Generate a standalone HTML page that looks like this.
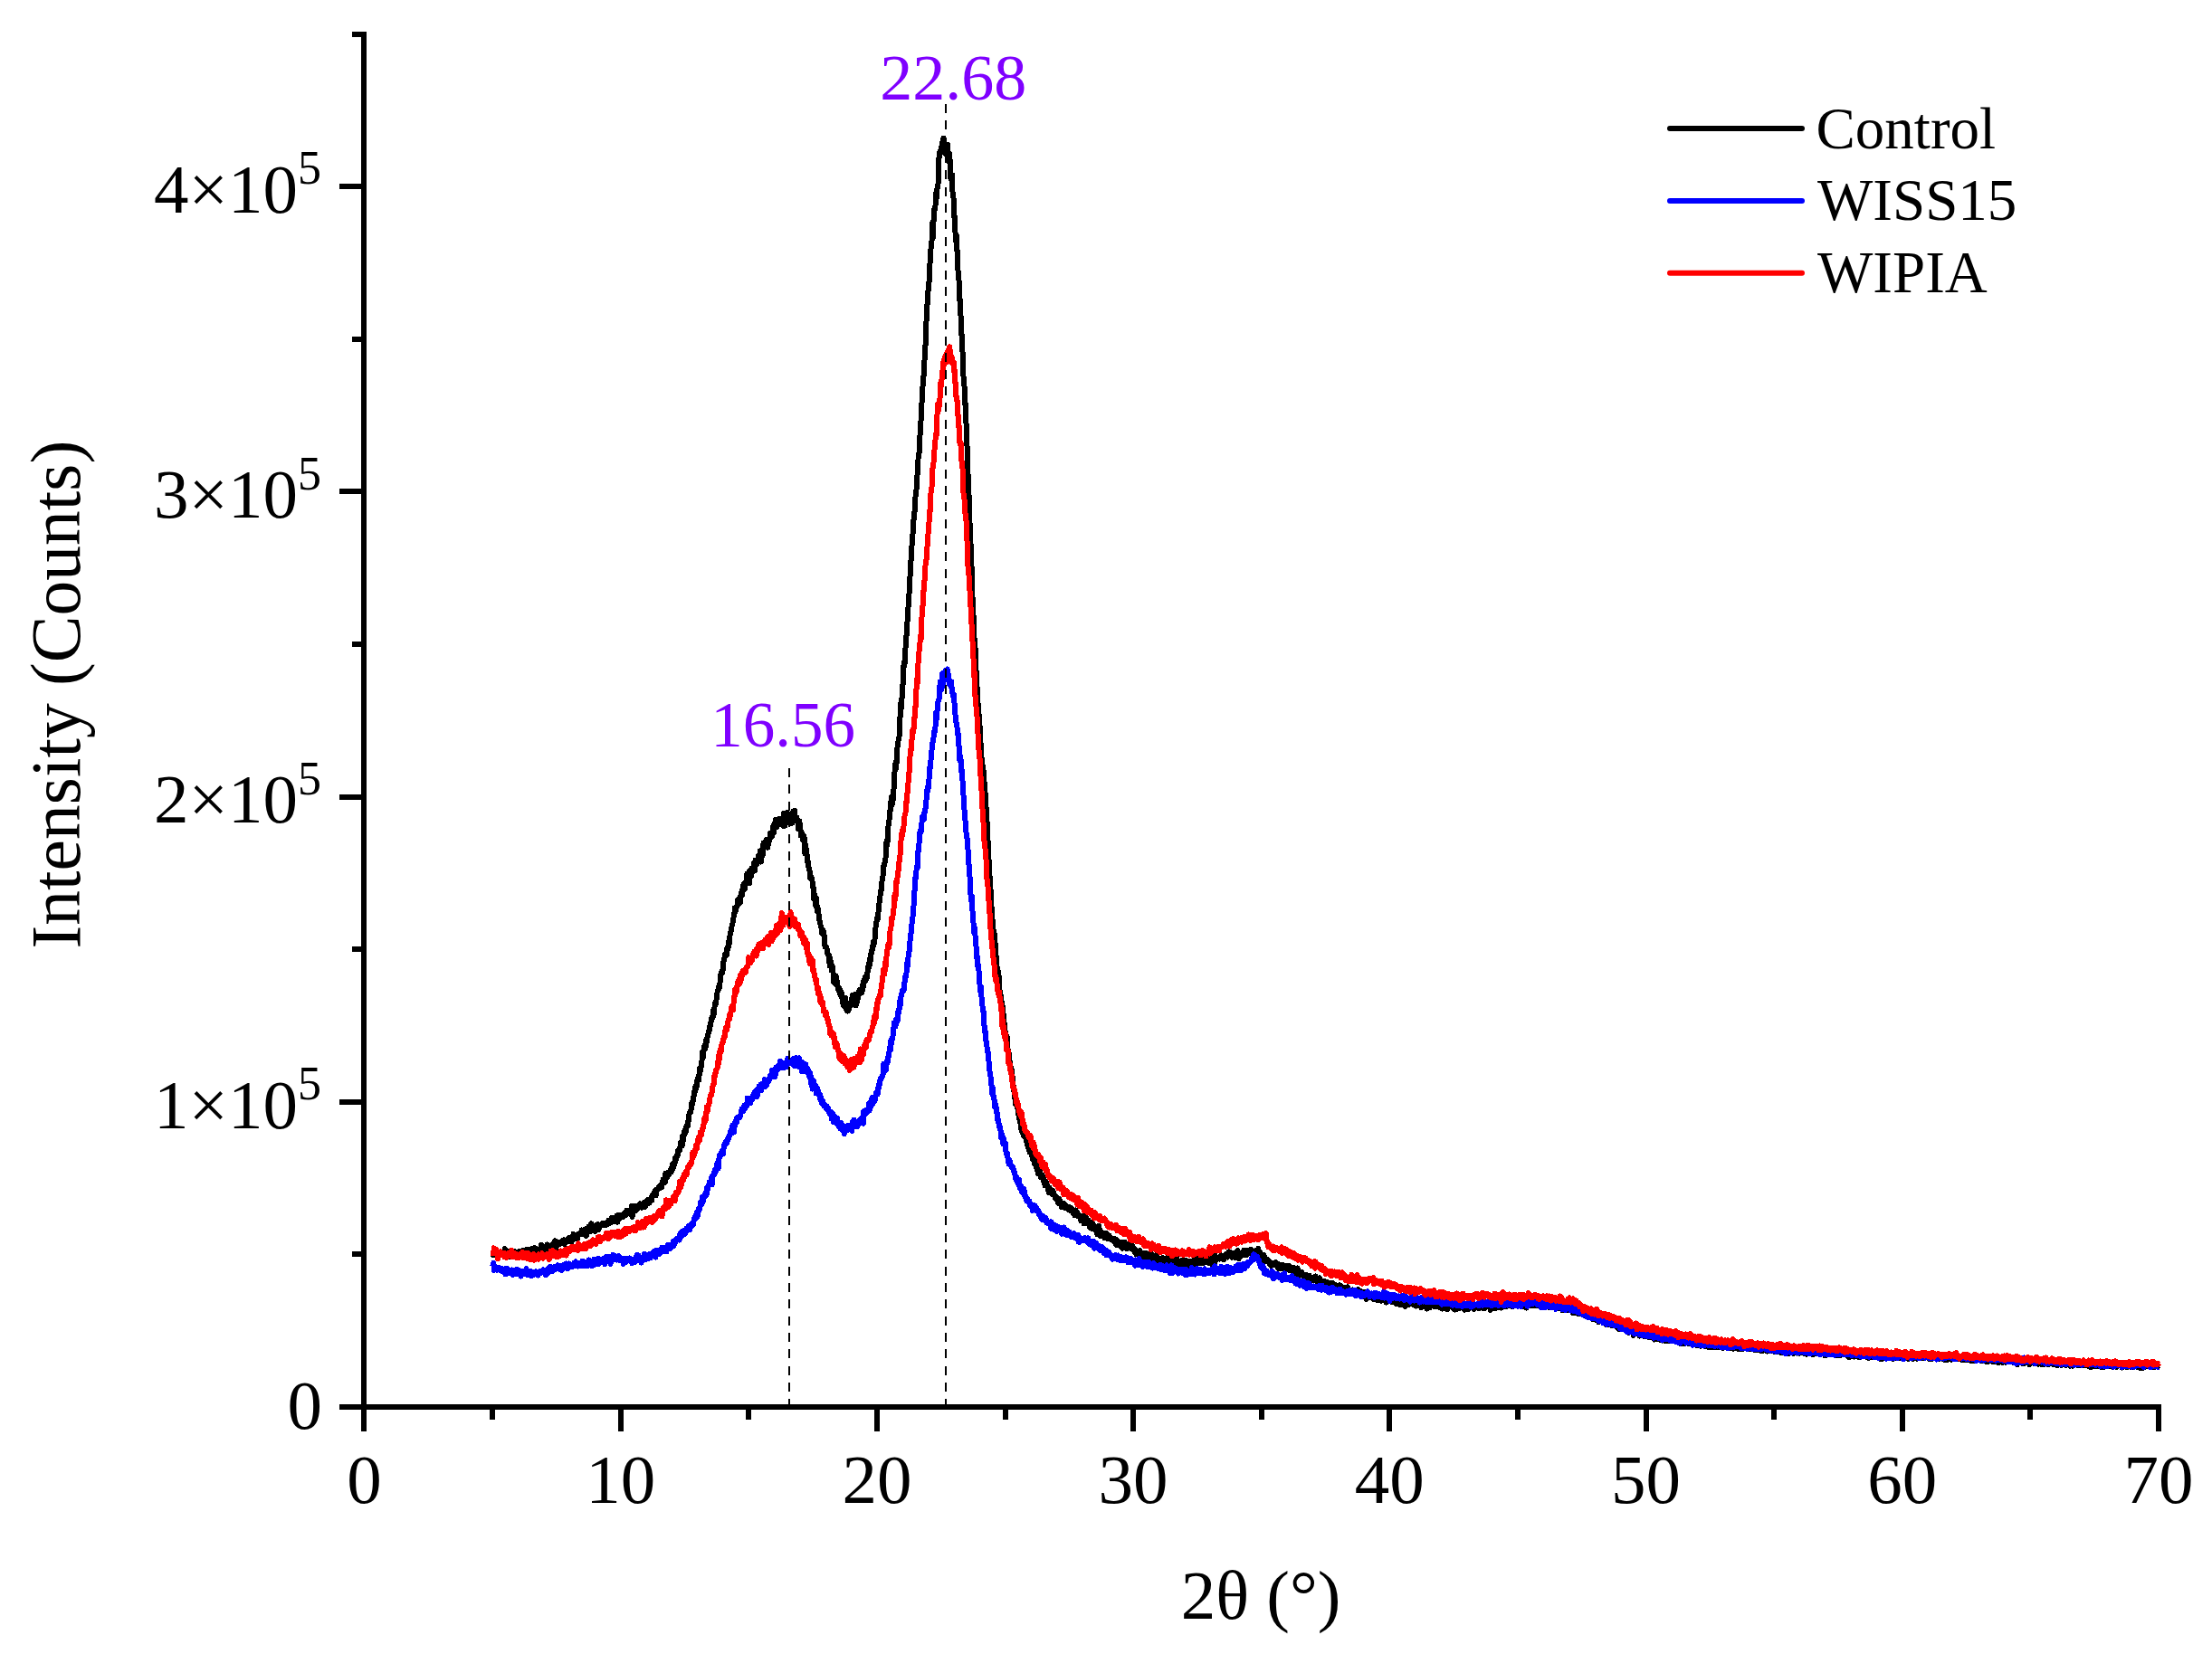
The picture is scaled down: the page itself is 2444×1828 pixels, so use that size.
<!DOCTYPE html>
<html lang="en"><head><meta charset="utf-8"><title>XRD patterns</title>
<style>html,body{margin:0;padding:0;background:#fff}svg{display:block}text{font-family:'Liberation Serif','Times New Roman',serif;fill:#000}</style></head><body>
<svg width="2444" height="1828" viewBox="0 0 2444 1828">
<rect width="2444" height="1828" fill="#fff"/>
<polyline fill="none" stroke="#000" stroke-width="6" stroke-linejoin="round" shape-rendering="crispEdges" stroke-linecap="butt" points="544.0,1386.1 544.6,1387.0 545.1,1386.0 545.7,1382.9 546.3,1387.1 546.8,1386.2 547.4,1384.4 548.0,1386.5 548.5,1386.1 549.1,1385.9 549.7,1385.4 550.2,1386.4 550.8,1384.0 551.4,1385.0 551.9,1384.4 552.5,1386.5 553.1,1385.4 553.6,1384.8 554.2,1383.8 554.8,1384.8 555.3,1385.3 555.9,1384.8 556.5,1387.8 557.0,1387.2 557.6,1380.1 558.2,1381.6 558.7,1384.9 559.3,1384.4 559.9,1385.6 560.4,1385.6 561.0,1389.3 561.6,1383.1 562.1,1384.4 562.7,1389.1 563.3,1386.4 563.8,1386.4 564.4,1384.1 565.0,1381.9 565.5,1385.4 566.1,1385.3 566.7,1382.7 567.2,1383.7 567.8,1384.9 568.4,1383.2 568.9,1384.8 569.5,1385.1 570.1,1385.0 570.6,1383.9 571.2,1386.0 571.8,1386.6 572.3,1385.5 572.9,1383.3 573.5,1386.2 574.0,1383.8 574.6,1386.5 575.2,1382.7 575.7,1386.5 576.3,1384.6 576.9,1382.2 577.4,1384.0 578.0,1384.6 578.6,1385.0 579.1,1382.5 579.7,1382.2 580.2,1384.6 580.8,1383.2 581.4,1384.5 581.9,1385.4 582.5,1380.7 583.1,1384.2 583.6,1386.0 584.2,1382.9 584.8,1381.8 585.3,1384.7 585.9,1383.7 586.5,1384.8 587.0,1382.3 587.6,1379.9 588.2,1382.5 588.7,1381.7 589.3,1383.9 589.9,1382.6 590.4,1379.0 591.0,1379.7 591.6,1383.5 592.1,1383.0 592.7,1380.3 593.3,1381.4 593.8,1382.1 594.4,1382.0 595.0,1382.7 595.5,1381.3 596.1,1380.5 596.7,1380.0 597.2,1382.4 597.8,1375.8 598.4,1379.8 598.9,1380.0 599.5,1377.0 600.1,1380.3 600.6,1378.2 601.2,1381.0 601.8,1379.0 602.3,1380.4 602.9,1381.3 603.5,1379.5 604.0,1376.9 604.6,1375.5 605.2,1381.8 605.7,1378.0 606.3,1376.7 606.9,1378.1 607.4,1377.3 608.0,1379.2 608.6,1377.5 609.1,1377.2 609.7,1375.7 610.3,1377.8 610.8,1374.7 611.4,1377.9 612.0,1379.4 612.5,1373.2 613.1,1371.2 613.7,1377.1 614.2,1380.7 614.8,1373.5 615.4,1372.8 615.9,1376.3 616.5,1373.3 617.1,1373.7 617.6,1373.9 618.2,1375.4 618.8,1373.4 619.3,1374.5 619.9,1373.4 620.5,1371.9 621.0,1372.7 621.6,1371.3 622.2,1373.0 622.7,1370.5 623.3,1370.4 623.9,1375.2 624.4,1372.0 625.0,1371.8 625.6,1372.7 626.1,1370.6 626.7,1370.8 627.3,1371.8 627.8,1371.3 628.4,1368.2 629.0,1372.0 629.5,1368.9 630.1,1367.7 630.7,1367.7 631.2,1368.5 631.8,1372.2 632.4,1366.3 632.9,1368.7 633.5,1363.8 634.1,1367.8 634.6,1369.3 635.2,1366.7 635.8,1365.5 636.3,1366.9 636.9,1367.6 637.5,1367.2 638.0,1369.5 638.6,1365.6 639.2,1363.6 639.7,1364.2 640.3,1364.0 640.9,1364.0 641.4,1363.4 642.0,1363.5 642.6,1359.4 643.1,1364.2 643.7,1361.0 644.3,1359.5 644.8,1362.9 645.4,1364.0 646.0,1362.0 646.5,1361.1 647.1,1358.5 647.7,1366.1 648.2,1361.8 648.8,1357.4 649.4,1357.9 649.9,1359.4 650.5,1355.8 651.0,1359.2 651.6,1357.7 652.2,1360.9 652.7,1360.2 653.3,1352.4 653.9,1357.9 654.4,1354.3 655.0,1359.8 655.6,1357.7 656.1,1358.3 656.7,1354.8 657.3,1360.6 657.8,1360.8 658.4,1354.2 659.0,1357.0 659.5,1354.7 660.1,1355.9 660.7,1353.1 661.2,1359.5 661.8,1353.4 662.4,1354.6 662.9,1356.1 663.5,1353.5 664.1,1354.2 664.6,1353.4 665.2,1354.1 665.8,1351.7 666.3,1353.0 666.9,1353.3 667.5,1352.9 668.0,1353.5 668.6,1352.5 669.2,1354.5 669.7,1352.0 670.3,1352.2 670.9,1350.8 671.4,1350.9 672.0,1349.1 672.6,1352.6 673.1,1348.9 673.7,1349.4 674.3,1351.5 674.8,1351.3 675.4,1349.4 676.0,1345.7 676.5,1350.6 677.1,1350.0 677.7,1346.2 678.2,1350.5 678.8,1347.1 679.4,1345.9 679.9,1348.2 680.5,1347.4 681.1,1347.9 681.6,1343.8 682.2,1350.7 682.8,1345.3 683.3,1343.0 683.9,1347.3 684.5,1345.0 685.0,1346.1 685.6,1344.4 686.2,1344.7 686.7,1345.0 687.3,1342.6 687.9,1345.4 688.4,1342.6 689.0,1341.4 689.6,1343.2 690.1,1343.6 690.7,1341.9 691.3,1340.2 691.8,1343.1 692.4,1337.7 693.0,1338.9 693.5,1340.9 694.1,1337.6 694.7,1340.3 695.2,1339.8 695.8,1341.5 696.4,1337.3 696.9,1337.6 697.5,1339.4 698.1,1333.0 698.6,1344.8 699.2,1336.2 699.8,1335.9 700.3,1339.0 700.9,1336.8 701.5,1332.7 702.0,1337.6 702.6,1337.8 703.2,1334.7 703.7,1334.7 704.3,1336.1 704.9,1332.8 705.4,1335.4 706.0,1334.6 706.6,1332.3 707.1,1330.4 707.7,1332.7 708.3,1330.9 708.8,1334.7 709.4,1332.5 710.0,1333.5 710.5,1331.7 711.1,1331.7 711.7,1329.0 712.2,1331.8 712.8,1333.9 713.4,1328.9 713.9,1327.8 714.5,1328.4 715.1,1327.2 715.6,1326.3 716.2,1327.7 716.8,1326.3 717.3,1329.7 717.9,1326.0 718.5,1326.1 719.0,1327.0 719.6,1323.6 720.2,1326.9 720.7,1321.6 721.3,1320.6 721.8,1320.9 722.4,1320.8 723.0,1317.2 723.5,1319.6 724.1,1315.2 724.7,1321.3 725.2,1317.3 725.8,1315.2 726.4,1313.9 726.9,1314.3 727.5,1313.9 728.1,1311.2 728.6,1310.7 729.2,1311.7 729.8,1310.1 730.3,1312.6 730.9,1312.2 731.5,1308.8 732.0,1308.9 732.6,1303.8 733.2,1307.5 733.7,1305.0 734.3,1305.3 734.9,1307.0 735.4,1297.0 736.0,1302.1 736.6,1298.1 737.1,1301.2 737.7,1295.9 738.3,1297.1 738.8,1298.0 739.4,1298.3 740.0,1296.2 740.5,1293.4 741.1,1293.1 741.7,1295.5 742.2,1292.3 742.8,1287.1 743.4,1291.8 743.9,1289.4 744.5,1289.1 745.1,1284.7 745.6,1285.9 746.2,1279.7 746.8,1282.1 747.3,1277.8 747.9,1279.0 748.5,1278.1 749.0,1272.1 749.6,1272.1 750.2,1270.7 750.7,1272.0 751.3,1269.2 751.9,1262.8 752.4,1265.4 753.0,1264.5 753.6,1266.4 754.1,1255.2 754.7,1256.4 755.3,1259.5 755.8,1250.9 756.4,1249.6 757.0,1252.2 757.5,1251.6 758.1,1245.3 758.7,1246.4 759.2,1243.2 759.8,1244.6 760.4,1238.3 760.9,1238.5 761.5,1231.0 762.1,1230.4 762.6,1228.1 763.2,1228.9 763.8,1225.0 764.3,1219.0 764.9,1220.5 765.5,1218.5 766.0,1213.8 766.6,1211.2 767.2,1209.2 767.7,1202.8 768.3,1205.7 768.9,1203.6 769.4,1198.3 770.0,1200.4 770.6,1192.1 771.1,1191.9 771.7,1189.5 772.3,1193.8 772.8,1181.0 773.4,1184.4 774.0,1182.7 774.5,1178.4 775.1,1177.9 775.7,1169.0 776.2,1162.6 776.8,1168.8 777.4,1160.6 777.9,1160.6 778.5,1155.7 779.1,1159.8 779.6,1156.9 780.2,1149.8 780.8,1152.2 781.3,1147.5 781.9,1144.3 782.5,1142.5 783.0,1139.3 783.6,1139.3 784.2,1135.9 784.7,1131.4 785.3,1133.0 785.9,1125.6 786.4,1125.8 787.0,1123.8 787.6,1124.7 788.1,1116.4 788.7,1121.2 789.3,1114.3 789.8,1111.1 790.4,1107.5 791.0,1109.3 791.5,1105.3 792.1,1099.2 792.6,1096.3 793.2,1094.9 793.8,1091.2 794.3,1093.4 794.9,1090.8 795.5,1085.8 796.0,1080.9 796.6,1075.3 797.2,1074.0 797.7,1074.0 798.3,1075.5 798.9,1069.1 799.4,1062.8 800.0,1061.5 800.6,1057.5 801.1,1054.2 801.7,1053.8 802.3,1052.7 802.8,1055.7 803.4,1047.4 804.0,1049.3 804.5,1048.2 805.1,1040.2 805.7,1042.8 806.2,1037.4 806.8,1031.1 807.4,1030.9 807.9,1027.5 808.5,1024.0 809.1,1021.3 809.6,1019.7 810.2,1017.9 810.8,1010.7 811.3,1011.2 811.9,1003.5 812.5,1007.4 813.0,1006.6 813.6,1002.9 814.2,1001.3 814.7,1000.5 815.3,994.3 815.9,994.0 816.4,995.0 817.0,995.1 817.6,991.6 818.1,997.7 818.7,987.1 819.3,989.7 819.8,989.3 820.4,983.2 821.0,979.6 821.5,977.2 822.1,980.8 822.7,983.0 823.2,978.9 823.8,977.4 824.4,974.2 824.9,976.4 825.5,965.6 826.1,972.9 826.6,971.0 827.2,964.9 827.8,976.3 828.3,962.5 828.9,962.5 829.5,960.9 830.0,968.1 830.6,959.8 831.2,964.3 831.7,962.9 832.3,960.6 832.9,953.9 833.4,955.4 834.0,962.5 834.6,950.8 835.1,951.4 835.7,952.8 836.3,955.3 836.8,952.3 837.4,953.0 838.0,945.5 838.5,951.7 839.1,949.3 839.7,940.4 840.2,950.8 840.8,952.5 841.4,940.3 841.9,942.2 842.5,946.0 843.1,934.4 843.6,931.5 844.2,932.9 844.8,934.5 845.3,933.3 845.9,936.5 846.5,934.2 847.0,927.5 847.6,933.1 848.2,936.8 848.7,933.2 849.3,931.3 849.9,926.7 850.4,929.2 851.0,920.9 851.6,926.1 852.1,921.8 852.7,925.0 853.3,921.2 853.8,914.2 854.4,917.4 855.0,920.2 855.5,910.2 856.1,911.1 856.7,909.2 857.2,905.5 857.8,913.8 858.4,914.3 858.9,911.7 859.5,909.2 860.1,907.7 860.6,908.6 861.2,904.7 861.8,910.5 862.3,910.9 862.9,910.2 863.4,904.5 864.0,906.6 864.6,905.6 865.1,912.7 865.7,906.6 866.3,898.7 866.8,907.2 867.4,912.7 868.0,908.1 868.5,908.8 869.1,905.6 869.7,898.1 870.2,898.8 870.8,900.9 871.4,905.2 871.9,906.9 872.5,908.4 873.1,904.6 873.6,909.6 874.2,905.1 874.8,903.7 875.3,909.7 875.9,903.2 876.5,896.6 877.0,903.1 877.6,907.6 878.2,895.9 878.7,906.4 879.3,906.8 879.9,903.2 880.4,903.5 881.0,908.0 881.6,908.4 882.1,916.0 882.7,913.6 883.3,907.3 883.8,911.1 884.4,918.0 885.0,923.7 885.5,919.4 886.1,920.4 886.7,927.9 887.2,923.3 887.8,925.0 888.4,924.0 888.9,930.5 889.5,943.6 890.1,933.6 890.6,941.7 891.2,939.4 891.8,947.8 892.3,953.3 892.9,952.1 893.5,958.4 894.0,961.2 894.6,963.1 895.2,970.5 895.7,970.0 896.3,968.9 896.9,970.5 897.4,972.7 898.0,980.2 898.6,980.3 899.1,993.8 899.7,993.6 900.3,989.2 900.8,991.7 901.4,1001.6 902.0,992.0 902.5,999.8 903.1,1007.5 903.7,1003.9 904.2,1008.1 904.8,1011.3 905.4,1017.4 905.9,1018.3 906.5,1021.8 907.1,1025.0 907.6,1025.6 908.2,1031.8 908.8,1028.1 909.3,1028.3 909.9,1029.7 910.5,1032.8 911.0,1038.9 911.6,1046.6 912.2,1046.3 912.7,1046.2 913.3,1047.0 913.9,1051.2 914.4,1053.9 915.0,1055.6 915.6,1055.0 916.1,1060.3 916.7,1067.3 917.3,1059.0 917.8,1067.3 918.4,1063.3 919.0,1072.7 919.5,1071.6 920.1,1069.1 920.7,1077.9 921.2,1085.1 921.8,1081.2 922.4,1086.1 922.9,1083.6 923.5,1078.4 924.1,1088.2 924.6,1086.6 925.2,1084.6 925.8,1093.0 926.3,1092.7 926.9,1091.4 927.5,1097.1 928.0,1093.0 928.6,1099.2 929.2,1095.7 929.7,1101.9 930.3,1098.5 930.9,1108.4 931.4,1106.2 932.0,1111.3 932.6,1105.5 933.1,1107.7 933.7,1112.9 934.2,1102.9 934.8,1109.1 935.4,1116.5 935.9,1115.5 936.5,1117.6 937.1,1114.0 937.6,1116.7 938.2,1112.6 938.8,1110.3 939.3,1108.8 939.9,1111.7 940.5,1111.0 941.0,1110.0 941.6,1100.2 942.2,1104.2 942.7,1108.0 943.3,1109.8 943.9,1106.2 944.4,1104.3 945.0,1098.8 945.6,1111.3 946.1,1100.5 946.7,1108.2 947.3,1106.8 947.8,1101.8 948.4,1098.1 949.0,1099.3 949.5,1094.2 950.1,1097.5 950.7,1095.6 951.2,1096.1 951.8,1096.2 952.4,1097.4 952.9,1089.4 953.5,1092.5 954.1,1085.3 954.6,1083.4 955.2,1082.7 955.8,1079.8 956.3,1084.4 956.9,1082.3 957.5,1081.6 958.0,1075.4 958.6,1074.4 959.2,1069.5 959.7,1065.5 960.3,1068.5 960.9,1065.5 961.4,1058.6 962.0,1061.5 962.6,1051.2 963.1,1053.5 963.7,1049.1 964.3,1046.5 964.8,1041.4 965.4,1044.8 966.0,1039.9 966.5,1038.2 967.1,1030.8 967.7,1022.1 968.2,1021.4 968.8,1014.8 969.4,1016.5 969.9,1015.1 970.5,1008.1 971.1,1000.8 971.6,997.5 972.2,995.2 972.8,985.0 973.3,986.1 973.9,981.6 974.5,974.3 975.0,970.0 975.6,967.5 976.2,959.4 976.7,955.0 977.3,956.4 977.9,950.1 978.4,951.0 979.0,936.8 979.6,929.2 980.1,934.3 980.7,929.0 981.3,917.1 981.8,908.7 982.4,908.5 983.0,896.9 983.5,897.6 984.1,886.8 984.7,890.9 985.2,880.8 985.8,884.8 986.4,887.6 986.9,875.5 987.5,872.0 988.1,859.0 988.6,852.1 989.2,844.6 989.8,849.8 990.3,840.8 990.9,842.3 991.5,825.7 992.0,823.5 992.6,818.5 993.2,817.4 993.7,812.4 994.3,795.6 994.9,786.7 995.4,777.1 996.0,782.5 996.6,769.4 997.1,759.8 997.7,754.8 998.3,736.8 998.8,732.5 999.4,735.8 1000.0,725.5 1000.5,716.4 1001.1,703.2 1001.7,701.7 1002.2,698.5 1002.8,677.0 1003.4,673.6 1003.9,662.5 1004.5,656.7 1005.0,645.8 1005.6,635.6 1006.2,622.8 1006.7,617.3 1007.3,605.5 1007.9,598.8 1008.4,590.7 1009.0,585.9 1009.6,572.4 1010.1,566.1 1010.7,565.3 1011.3,552.1 1011.8,544.8 1012.4,542.9 1013.0,532.9 1013.5,524.7 1014.1,517.7 1014.7,502.9 1015.2,502.8 1015.8,498.3 1016.4,485.8 1016.9,466.3 1017.5,465.7 1018.1,450.3 1018.6,443.9 1019.2,435.8 1019.8,419.4 1020.3,421.9 1020.9,404.6 1021.5,398.4 1022.0,387.2 1022.6,380.4 1023.2,369.5 1023.7,346.0 1024.3,344.0 1024.9,323.0 1025.4,322.1 1026.0,318.7 1026.6,310.5 1027.1,303.3 1027.7,285.2 1028.3,279.5 1028.8,269.3 1029.4,267.1 1030.0,261.4 1030.5,245.1 1031.1,262.2 1031.7,237.7 1032.2,231.5 1032.8,232.1 1033.4,228.4 1033.9,222.7 1034.5,211.7 1035.1,218.3 1035.6,205.4 1036.2,207.5 1036.8,198.9 1037.3,176.2 1037.9,171.7 1038.5,167.0 1039.0,170.0 1039.6,166.0 1040.2,165.5 1040.7,158.3 1041.3,164.0 1041.9,168.4 1042.4,152.7 1043.0,158.5 1043.6,160.8 1044.1,158.8 1044.7,158.9 1045.3,170.4 1045.8,168.6 1046.4,167.3 1047.0,159.7 1047.5,177.8 1048.1,170.4 1048.7,169.2 1049.2,174.8 1049.8,178.4 1050.4,197.7 1050.9,193.0 1051.5,198.4 1052.1,193.2 1052.6,216.4 1053.2,214.8 1053.8,222.6 1054.3,239.9 1054.9,239.9 1055.5,256.9 1056.0,266.5 1056.6,259.3 1057.2,276.4 1057.7,277.4 1058.3,293.9 1058.9,307.7 1059.4,304.9 1060.0,330.9 1060.6,330.2 1061.1,337.0 1061.7,354.0 1062.3,370.3 1062.8,370.4 1063.4,388.3 1064.0,392.2 1064.5,415.9 1065.1,421.4 1065.7,428.9 1066.2,446.4 1066.8,445.9 1067.4,462.3 1067.9,487.1 1068.5,493.0 1069.1,515.5 1069.6,525.7 1070.2,537.6 1070.8,555.9 1071.3,573.5 1071.9,586.8 1072.5,600.2 1073.0,615.8 1073.6,627.8 1074.2,649.7 1074.7,665.2 1075.3,680.0 1075.8,681.2 1076.4,704.0 1077.0,711.4 1077.5,715.8 1078.1,732.4 1078.7,745.2 1079.2,753.6 1079.8,764.0 1080.4,774.4 1080.9,783.8 1081.5,789.6 1082.1,790.7 1082.6,805.1 1083.2,818.3 1083.8,823.1 1084.3,835.1 1084.9,842.0 1085.5,844.8 1086.0,857.3 1086.6,851.4 1087.2,864.3 1087.7,865.0 1088.3,871.0 1088.9,884.6 1089.4,889.4 1090.0,905.1 1090.6,908.3 1091.1,923.9 1091.7,932.0 1092.3,945.6 1092.8,956.2 1093.4,964.2 1094.0,980.5 1094.5,983.1 1095.1,992.3 1095.7,1006.0 1096.2,1013.2 1096.8,1018.8 1097.4,1024.1 1097.9,1036.8 1098.5,1031.1 1099.1,1038.5 1099.6,1043.3 1100.2,1055.0 1100.8,1058.3 1101.3,1066.2 1101.9,1070.8 1102.5,1071.9 1103.0,1074.9 1103.6,1079.2 1104.2,1094.2 1104.7,1095.0 1105.3,1098.5 1105.9,1100.3 1106.4,1105.5 1107.0,1109.7 1107.6,1114.3 1108.1,1112.4 1108.7,1124.0 1109.3,1127.4 1109.8,1133.7 1110.4,1137.6 1111.0,1143.7 1111.5,1145.2 1112.1,1151.7 1112.7,1145.8 1113.2,1154.0 1113.8,1166.2 1114.4,1161.5 1114.9,1168.1 1115.5,1174.8 1116.1,1174.1 1116.6,1182.5 1117.2,1180.2 1117.8,1182.7 1118.3,1188.1 1118.9,1191.0 1119.5,1199.2 1120.0,1201.9 1120.6,1207.1 1121.2,1206.7 1121.7,1219.6 1122.3,1215.5 1122.9,1218.6 1123.4,1222.7 1124.0,1223.7 1124.6,1225.3 1125.1,1229.9 1125.7,1234.6 1126.3,1236.5 1126.8,1239.6 1127.4,1238.0 1128.0,1239.7 1128.5,1249.1 1129.1,1245.3 1129.7,1249.2 1130.2,1251.8 1130.8,1255.4 1131.4,1250.1 1131.9,1254.1 1132.5,1256.0 1133.1,1258.0 1133.6,1254.3 1134.2,1261.8 1134.8,1256.3 1135.3,1265.9 1135.9,1268.0 1136.5,1269.7 1137.0,1266.7 1137.6,1273.5 1138.2,1270.4 1138.7,1270.9 1139.3,1272.9 1139.9,1274.7 1140.4,1278.5 1141.0,1281.4 1141.6,1275.6 1142.1,1280.7 1142.7,1285.5 1143.3,1285.1 1143.8,1287.1 1144.4,1283.4 1145.0,1290.5 1145.5,1285.7 1146.1,1291.1 1146.6,1295.0 1147.2,1297.4 1147.8,1295.3 1148.3,1297.3 1148.9,1294.9 1149.5,1296.3 1150.0,1301.3 1150.6,1299.6 1151.2,1300.4 1151.7,1298.4 1152.3,1303.1 1152.9,1305.3 1153.4,1303.0 1154.0,1304.7 1154.6,1310.5 1155.1,1308.2 1155.7,1308.1 1156.3,1307.1 1156.8,1309.2 1157.4,1311.0 1158.0,1315.6 1158.5,1311.9 1159.1,1318.2 1159.7,1312.8 1160.2,1314.9 1160.8,1318.3 1161.4,1316.6 1161.9,1316.0 1162.5,1318.3 1163.1,1320.3 1163.6,1316.2 1164.2,1320.2 1164.8,1321.1 1165.3,1321.1 1165.9,1324.3 1166.5,1322.0 1167.0,1323.1 1167.6,1324.6 1168.2,1326.8 1168.7,1325.2 1169.3,1329.7 1169.9,1324.8 1170.4,1330.2 1171.0,1326.0 1171.6,1328.1 1172.1,1329.7 1172.7,1334.0 1173.3,1331.9 1173.8,1329.5 1174.4,1333.7 1175.0,1330.8 1175.5,1329.9 1176.1,1333.1 1176.7,1332.7 1177.2,1335.0 1177.8,1332.1 1178.4,1334.5 1178.9,1335.4 1179.5,1335.1 1180.1,1334.8 1180.6,1333.7 1181.2,1337.6 1181.8,1336.3 1182.3,1337.5 1182.9,1336.1 1183.5,1337.3 1184.0,1335.4 1184.6,1338.3 1185.2,1340.2 1185.7,1339.1 1186.3,1341.2 1186.9,1340.4 1187.4,1343.1 1188.0,1340.2 1188.6,1337.5 1189.1,1342.4 1189.7,1341.5 1190.3,1340.2 1190.8,1344.1 1191.4,1343.7 1192.0,1344.5 1192.5,1343.3 1193.1,1344.8 1193.7,1345.4 1194.2,1349.1 1194.8,1344.2 1195.4,1346.1 1195.9,1347.3 1196.5,1343.3 1197.1,1344.0 1197.6,1352.4 1198.2,1344.5 1198.8,1349.9 1199.3,1347.3 1199.9,1347.9 1200.5,1345.8 1201.0,1348.5 1201.6,1352.4 1202.2,1348.3 1202.7,1352.9 1203.3,1352.7 1203.9,1356.7 1204.4,1351.9 1205.0,1356.0 1205.6,1355.6 1206.1,1353.6 1206.7,1351.2 1207.3,1358.3 1207.8,1352.7 1208.4,1355.0 1209.0,1358.3 1209.5,1359.2 1210.1,1355.6 1210.7,1357.7 1211.2,1357.7 1211.8,1361.1 1212.4,1364.3 1212.9,1355.8 1213.5,1361.9 1214.1,1354.6 1214.6,1360.9 1215.2,1359.0 1215.8,1365.8 1216.3,1362.5 1216.9,1361.1 1217.4,1362.0 1218.0,1362.2 1218.6,1364.2 1219.1,1363.9 1219.7,1365.9 1220.3,1368.1 1220.8,1366.8 1221.4,1363.2 1222.0,1362.8 1222.5,1364.9 1223.1,1368.9 1223.7,1366.4 1224.2,1366.1 1224.8,1368.1 1225.4,1365.3 1225.9,1366.1 1226.5,1369.7 1227.1,1368.4 1227.6,1368.4 1228.2,1370.2 1228.8,1368.7 1229.3,1368.8 1229.9,1369.5 1230.5,1371.9 1231.0,1371.1 1231.6,1368.9 1232.2,1370.9 1232.7,1373.1 1233.3,1375.8 1233.9,1370.1 1234.4,1373.3 1235.0,1372.3 1235.6,1374.7 1236.1,1374.2 1236.7,1376.5 1237.3,1374.9 1237.8,1373.0 1238.4,1373.3 1239.0,1375.4 1239.5,1375.6 1240.1,1379.8 1240.7,1378.6 1241.2,1373.3 1241.8,1376.5 1242.4,1373.4 1242.9,1373.0 1243.5,1378.0 1244.1,1377.9 1244.6,1375.0 1245.2,1380.5 1245.8,1375.6 1246.3,1375.5 1246.9,1379.4 1247.5,1378.8 1248.0,1378.3 1248.6,1378.7 1249.2,1379.6 1249.7,1379.2 1250.3,1379.4 1250.9,1376.3 1251.4,1377.7 1252.0,1381.8 1252.6,1379.5 1253.1,1382.2 1253.7,1383.9 1254.3,1381.1 1254.8,1382.6 1255.4,1386.4 1256.0,1384.0 1256.5,1386.5 1257.1,1386.2 1257.7,1385.0 1258.2,1383.6 1258.8,1382.5 1259.4,1382.3 1259.9,1385.6 1260.5,1385.9 1261.1,1384.9 1261.6,1387.2 1262.2,1384.7 1262.8,1388.2 1263.3,1386.4 1263.9,1386.5 1264.5,1386.8 1265.0,1386.9 1265.6,1392.1 1266.2,1384.5 1266.7,1388.1 1267.3,1390.4 1267.9,1389.6 1268.4,1387.8 1269.0,1391.9 1269.6,1386.8 1270.1,1386.5 1270.7,1390.2 1271.3,1386.5 1271.8,1384.9 1272.4,1391.3 1273.0,1391.2 1273.5,1391.3 1274.1,1389.1 1274.7,1390.5 1275.2,1388.5 1275.8,1393.7 1276.4,1392.1 1276.9,1392.1 1277.5,1387.2 1278.1,1392.5 1278.6,1394.0 1279.2,1393.6 1279.8,1392.9 1280.3,1391.5 1280.9,1391.0 1281.5,1392.9 1282.0,1392.6 1282.6,1392.4 1283.2,1391.5 1283.7,1395.4 1284.3,1390.1 1284.9,1392.4 1285.4,1391.4 1286.0,1394.6 1286.6,1395.4 1287.1,1395.1 1287.7,1394.3 1288.2,1390.4 1288.8,1397.0 1289.4,1394.2 1289.9,1393.1 1290.5,1393.4 1291.1,1392.8 1291.6,1394.3 1292.2,1394.2 1292.8,1393.0 1293.3,1389.0 1293.9,1393.8 1294.5,1394.8 1295.0,1395.0 1295.6,1393.8 1296.2,1395.0 1296.7,1396.1 1297.3,1393.4 1297.9,1397.1 1298.4,1390.8 1299.0,1392.2 1299.6,1392.9 1300.1,1390.1 1300.7,1392.9 1301.3,1397.1 1301.8,1397.2 1302.4,1395.1 1303.0,1398.2 1303.5,1395.5 1304.1,1394.1 1304.7,1395.6 1305.2,1394.9 1305.8,1396.6 1306.4,1392.4 1306.9,1397.1 1307.5,1394.4 1308.1,1396.9 1308.6,1392.4 1309.2,1394.5 1309.8,1395.4 1310.3,1397.0 1310.9,1393.0 1311.5,1398.4 1312.0,1396.1 1312.6,1394.2 1313.2,1397.5 1313.7,1395.3 1314.3,1397.3 1314.9,1399.4 1315.4,1396.5 1316.0,1394.0 1316.6,1394.2 1317.1,1396.0 1317.7,1395.4 1318.3,1393.2 1318.8,1393.5 1319.4,1395.9 1320.0,1399.0 1320.5,1389.6 1321.1,1395.8 1321.7,1394.0 1322.2,1395.8 1322.8,1395.9 1323.4,1394.3 1323.9,1392.2 1324.5,1391.4 1325.1,1390.5 1325.6,1396.2 1326.2,1393.4 1326.8,1392.7 1327.3,1393.1 1327.9,1391.1 1328.5,1394.1 1329.0,1395.9 1329.6,1395.5 1330.2,1390.3 1330.7,1395.7 1331.3,1391.7 1331.9,1389.5 1332.4,1390.7 1333.0,1391.1 1333.6,1392.8 1334.1,1390.8 1334.7,1389.8 1335.3,1392.0 1335.8,1396.0 1336.4,1391.0 1337.0,1393.1 1337.5,1392.2 1338.1,1396.9 1338.7,1388.3 1339.2,1393.8 1339.8,1389.2 1340.4,1390.3 1340.9,1391.1 1341.5,1397.2 1342.1,1389.6 1342.6,1387.4 1343.2,1393.3 1343.8,1389.1 1344.3,1390.1 1344.9,1390.4 1345.5,1390.5 1346.0,1389.8 1346.6,1390.5 1347.2,1390.6 1347.7,1391.4 1348.3,1388.8 1348.9,1388.1 1349.4,1387.4 1350.0,1390.4 1350.6,1389.1 1351.1,1390.1 1351.7,1390.0 1352.3,1392.1 1352.8,1389.2 1353.4,1390.1 1354.0,1386.3 1354.5,1386.4 1355.1,1387.8 1355.7,1386.0 1356.2,1389.6 1356.8,1385.7 1357.4,1388.3 1357.9,1383.4 1358.5,1385.9 1359.0,1387.3 1359.6,1387.4 1360.2,1384.5 1360.7,1388.0 1361.3,1389.6 1361.9,1389.0 1362.4,1386.4 1363.0,1386.5 1363.6,1385.3 1364.1,1388.8 1364.7,1390.3 1365.3,1386.5 1365.8,1384.2 1366.4,1387.7 1367.0,1388.6 1367.5,1382.0 1368.1,1387.4 1368.7,1391.2 1369.2,1388.6 1369.8,1388.0 1370.4,1387.6 1370.9,1388.8 1371.5,1384.8 1372.1,1384.8 1372.6,1387.0 1373.2,1384.7 1373.8,1386.2 1374.3,1381.8 1374.9,1386.7 1375.5,1386.6 1376.0,1384.8 1376.6,1384.8 1377.2,1387.4 1377.7,1382.0 1378.3,1382.2 1378.9,1381.8 1379.4,1383.0 1380.0,1381.9 1380.6,1383.9 1381.1,1382.5 1381.7,1381.0 1382.3,1380.8 1382.8,1386.1 1383.4,1383.7 1384.0,1383.4 1384.5,1383.9 1385.1,1383.6 1385.7,1385.3 1386.2,1384.9 1386.8,1382.7 1387.4,1382.2 1387.9,1381.7 1388.5,1381.4 1389.1,1386.5 1389.6,1382.1 1390.2,1380.1 1390.8,1382.6 1391.3,1383.1 1391.9,1385.6 1392.5,1383.7 1393.0,1386.9 1393.6,1387.1 1394.2,1389.3 1394.7,1391.6 1395.3,1393.4 1395.9,1391.2 1396.4,1386.9 1397.0,1388.9 1397.6,1390.6 1398.1,1394.5 1398.7,1392.4 1399.3,1393.8 1399.8,1391.7 1400.4,1393.7 1401.0,1394.5 1401.5,1392.8 1402.1,1395.6 1402.7,1396.6 1403.2,1394.8 1403.8,1397.4 1404.4,1399.0 1404.9,1396.4 1405.5,1396.6 1406.1,1396.3 1406.6,1395.9 1407.2,1397.6 1407.8,1396.7 1408.3,1397.1 1408.9,1396.4 1409.5,1395.2 1410.0,1396.4 1410.6,1398.9 1411.2,1396.3 1411.7,1397.4 1412.3,1401.7 1412.9,1400.9 1413.4,1397.7 1414.0,1400.2 1414.6,1398.0 1415.1,1402.3 1415.7,1398.3 1416.3,1399.6 1416.8,1402.1 1417.4,1398.2 1418.0,1402.2 1418.5,1398.4 1419.1,1400.5 1419.7,1399.6 1420.2,1400.1 1420.8,1400.7 1421.4,1400.4 1421.9,1398.8 1422.5,1402.4 1423.1,1402.3 1423.6,1403.5 1424.2,1403.9 1424.8,1399.1 1425.3,1404.1 1425.9,1404.4 1426.5,1401.3 1427.0,1404.4 1427.6,1405.4 1428.2,1402.0 1428.7,1400.8 1429.3,1402.9 1429.8,1408.9 1430.4,1404.6 1431.0,1402.3 1431.5,1404.3 1432.1,1403.3 1432.7,1404.7 1433.2,1405.9 1433.8,1401.5 1434.4,1407.0 1434.9,1409.2 1435.5,1406.6 1436.1,1406.6 1436.6,1409.6 1437.2,1405.6 1437.8,1406.0 1438.3,1406.0 1438.9,1408.5 1439.5,1409.7 1440.0,1409.1 1440.6,1410.5 1441.2,1411.2 1441.7,1410.9 1442.3,1408.8 1442.9,1410.0 1443.4,1412.9 1444.0,1409.1 1444.6,1410.8 1445.1,1410.7 1445.7,1411.4 1446.3,1410.0 1446.8,1409.8 1447.4,1416.9 1448.0,1414.3 1448.5,1411.6 1449.1,1413.0 1449.7,1414.5 1450.2,1412.9 1450.8,1414.8 1451.4,1412.9 1451.9,1413.5 1452.5,1414.2 1453.1,1413.8 1453.6,1410.5 1454.2,1415.0 1454.8,1415.6 1455.3,1416.2 1455.9,1413.9 1456.5,1416.4 1457.0,1416.3 1457.6,1413.1 1458.2,1412.5 1458.7,1417.4 1459.3,1415.1 1459.9,1418.6 1460.4,1420.8 1461.0,1416.3 1461.6,1416.2 1462.1,1417.6 1462.7,1418.9 1463.3,1416.0 1463.8,1420.3 1464.4,1420.0 1465.0,1419.6 1465.5,1417.7 1466.1,1420.4 1466.7,1420.5 1467.2,1417.1 1467.8,1422.9 1468.4,1419.0 1468.9,1420.3 1469.5,1419.0 1470.1,1420.7 1470.6,1422.2 1471.2,1419.0 1471.8,1417.7 1472.3,1419.9 1472.9,1418.7 1473.5,1419.8 1474.0,1421.0 1474.6,1421.3 1475.2,1423.8 1475.7,1420.0 1476.3,1422.5 1476.9,1421.2 1477.4,1424.5 1478.0,1426.7 1478.6,1423.1 1479.1,1425.6 1479.7,1422.0 1480.3,1420.4 1480.8,1421.1 1481.4,1420.7 1482.0,1422.0 1482.5,1423.3 1483.1,1425.8 1483.7,1425.2 1484.2,1425.0 1484.8,1423.7 1485.4,1423.4 1485.9,1424.8 1486.5,1425.1 1487.1,1425.5 1487.6,1425.8 1488.2,1425.2 1488.8,1422.3 1489.3,1423.8 1489.9,1424.5 1490.5,1428.9 1491.0,1425.5 1491.6,1427.5 1492.2,1429.0 1492.7,1427.2 1493.3,1426.2 1493.9,1426.5 1494.4,1425.5 1495.0,1427.9 1495.6,1429.4 1496.1,1428.6 1496.7,1429.1 1497.3,1429.2 1497.8,1431.5 1498.4,1427.3 1499.0,1428.8 1499.5,1429.9 1500.1,1430.9 1500.6,1425.0 1501.2,1428.3 1501.8,1429.0 1502.3,1427.9 1502.9,1431.1 1503.5,1430.2 1504.0,1429.4 1504.6,1427.5 1505.2,1428.2 1505.7,1428.9 1506.3,1431.5 1506.9,1428.9 1507.4,1427.7 1508.0,1428.8 1508.6,1430.4 1509.1,1434.3 1509.7,1435.8 1510.3,1431.1 1510.8,1433.5 1511.4,1434.4 1512.0,1434.4 1512.5,1432.3 1513.1,1430.5 1513.7,1432.0 1514.2,1429.9 1514.8,1433.4 1515.4,1434.5 1515.9,1430.3 1516.5,1433.4 1517.1,1434.1 1517.6,1435.8 1518.2,1436.1 1518.8,1435.3 1519.3,1433.0 1519.9,1433.7 1520.5,1436.3 1521.0,1433.5 1521.6,1434.6 1522.2,1437.3 1522.7,1435.1 1523.3,1432.8 1523.9,1434.6 1524.4,1436.2 1525.0,1435.0 1525.6,1437.3 1526.1,1437.6 1526.7,1434.6 1527.3,1434.9 1527.8,1435.7 1528.4,1434.0 1529.0,1436.7 1529.5,1435.9 1530.1,1437.5 1530.7,1435.4 1531.2,1435.1 1531.8,1439.5 1532.4,1435.3 1532.9,1435.8 1533.5,1435.7 1534.1,1436.5 1534.6,1435.6 1535.2,1437.1 1535.8,1436.1 1536.3,1436.7 1536.9,1438.0 1537.5,1438.7 1538.0,1438.4 1538.6,1436.6 1539.2,1438.5 1539.7,1437.7 1540.3,1437.8 1540.9,1435.3 1541.4,1439.2 1542.0,1438.0 1542.6,1441.1 1543.1,1439.4 1543.7,1436.7 1544.3,1436.4 1544.8,1440.5 1545.4,1437.4 1546.0,1439.9 1546.5,1438.5 1547.1,1442.3 1547.7,1439.2 1548.2,1441.6 1548.8,1441.4 1549.4,1438.6 1549.9,1438.9 1550.5,1441.8 1551.1,1439.6 1551.6,1438.3 1552.2,1441.6 1552.8,1443.9 1553.3,1439.8 1553.9,1442.2 1554.5,1439.8 1555.0,1442.2 1555.6,1439.8 1556.2,1442.4 1556.7,1441.2 1557.3,1440.1 1557.9,1440.9 1558.4,1439.7 1559.0,1438.9 1559.6,1439.1 1560.1,1440.7 1560.7,1439.2 1561.3,1441.6 1561.8,1441.9 1562.4,1441.8 1563.0,1440.4 1563.5,1441.3 1564.1,1441.3 1564.7,1443.5 1565.2,1440.2 1565.8,1440.9 1566.4,1441.2 1566.9,1441.4 1567.5,1440.5 1568.1,1440.8 1568.6,1443.4 1569.2,1440.9 1569.8,1443.4 1570.3,1445.2 1570.9,1444.1 1571.4,1439.3 1572.0,1443.4 1572.6,1443.0 1573.1,1443.2 1573.7,1439.8 1574.3,1443.6 1574.8,1440.8 1575.4,1444.5 1576.0,1444.3 1576.5,1446.6 1577.1,1442.1 1577.7,1440.3 1578.2,1444.4 1578.8,1444.2 1579.4,1442.3 1579.9,1445.0 1580.5,1444.0 1581.1,1441.0 1581.6,1442.5 1582.2,1442.4 1582.8,1442.9 1583.3,1443.4 1583.9,1442.1 1584.5,1442.9 1585.0,1444.1 1585.6,1443.1 1586.2,1442.9 1586.7,1442.8 1587.3,1443.2 1587.9,1440.4 1588.4,1443.7 1589.0,1441.9 1589.6,1443.7 1590.1,1441.2 1590.7,1445.0 1591.3,1444.0 1591.8,1441.5 1592.4,1444.0 1593.0,1442.5 1593.5,1446.5 1594.1,1444.5 1594.7,1442.6 1595.2,1444.2 1595.8,1443.8 1596.4,1445.7 1596.9,1444.5 1597.5,1444.8 1598.1,1442.3 1598.6,1445.2 1599.2,1447.3 1599.8,1445.1 1600.3,1444.0 1600.9,1444.4 1601.5,1442.7 1602.0,1444.5 1602.6,1442.5 1603.2,1444.3 1603.7,1443.7 1604.3,1443.0 1604.9,1445.2 1605.4,1442.0 1606.0,1444.3 1606.6,1442.3 1607.1,1447.2 1607.7,1447.5 1608.3,1445.8 1608.8,1447.4 1609.4,1445.4 1610.0,1445.4 1610.5,1443.9 1611.1,1443.2 1611.7,1444.8 1612.2,1443.7 1612.8,1443.9 1613.4,1445.7 1613.9,1444.4 1614.5,1442.2 1615.1,1444.3 1615.6,1443.5 1616.2,1444.2 1616.8,1443.0 1617.3,1446.5 1617.9,1447.6 1618.5,1443.0 1619.0,1445.7 1619.6,1445.6 1620.2,1443.0 1620.7,1444.9 1621.3,1446.9 1621.9,1446.0 1622.4,1447.2 1623.0,1442.9 1623.6,1443.5 1624.1,1445.1 1624.7,1445.2 1625.3,1444.7 1625.8,1444.0 1626.4,1444.0 1627.0,1443.7 1627.5,1445.3 1628.1,1440.3 1628.7,1447.0 1629.2,1443.7 1629.8,1442.3 1630.4,1445.3 1630.9,1442.2 1631.5,1445.0 1632.1,1443.7 1632.6,1445.2 1633.2,1445.5 1633.8,1446.3 1634.3,1443.5 1634.9,1443.7 1635.5,1444.1 1636.0,1441.9 1636.6,1445.0 1637.2,1444.2 1637.7,1441.9 1638.3,1445.8 1638.9,1446.0 1639.4,1441.8 1640.0,1444.7 1640.6,1445.7 1641.1,1445.0 1641.7,1442.2 1642.2,1441.5 1642.8,1443.4 1643.4,1442.8 1643.9,1443.5 1644.5,1443.3 1645.1,1444.2 1645.6,1442.5 1646.2,1443.1 1646.8,1447.9 1647.3,1443.0 1647.9,1444.3 1648.5,1443.6 1649.0,1443.4 1649.6,1441.6 1650.2,1443.8 1650.7,1442.9 1651.3,1444.2 1651.9,1446.1 1652.4,1443.1 1653.0,1444.0 1653.6,1441.1 1654.1,1442.9 1654.7,1445.1 1655.3,1442.5 1655.8,1441.6 1656.4,1442.9 1657.0,1442.2 1657.5,1442.1 1658.1,1441.9 1658.7,1445.5 1659.2,1441.0 1659.8,1441.7 1660.4,1441.4 1660.9,1444.2 1661.5,1441.8 1662.1,1444.2 1662.6,1442.4 1663.2,1442.1 1663.8,1439.8 1664.3,1443.9 1664.9,1442.9 1665.5,1442.6 1666.0,1441.8 1666.6,1441.3 1667.2,1439.9 1667.7,1443.3 1668.3,1442.2 1668.9,1441.2 1669.4,1440.7 1670.0,1441.9 1670.6,1441.5 1671.1,1444.2 1671.7,1442.8 1672.3,1440.6 1672.8,1439.7 1673.4,1441.1 1674.0,1440.0 1674.5,1441.5 1675.1,1442.0 1675.7,1442.3 1676.2,1441.9 1676.8,1440.9 1677.4,1442.1 1677.9,1439.8 1678.5,1441.0 1679.1,1442.4 1679.6,1441.5 1680.2,1439.0 1680.8,1439.2 1681.3,1438.4 1681.9,1443.8 1682.5,1438.5 1683.0,1440.7 1683.6,1443.8 1684.2,1442.6 1684.7,1442.9 1685.3,1440.1 1685.9,1442.0 1686.4,1445.6 1687.0,1440.7 1687.6,1441.4 1688.1,1440.3 1688.7,1440.7 1689.3,1441.3 1689.8,1442.9 1690.4,1439.3 1691.0,1438.5 1691.5,1440.8 1692.1,1441.1 1692.7,1443.0 1693.2,1442.0 1693.8,1439.9 1694.4,1441.8 1694.9,1442.7 1695.5,1441.4 1696.1,1440.5 1696.6,1442.1 1697.2,1440.6 1697.8,1438.3 1698.3,1443.4 1698.9,1439.3 1699.5,1440.9 1700.0,1441.0 1700.6,1441.0 1701.2,1441.2 1701.7,1439.5 1702.3,1442.6 1702.9,1441.9 1703.4,1442.1 1704.0,1443.8 1704.6,1443.9 1705.1,1444.3 1705.7,1445.2 1706.3,1443.1 1706.8,1440.1 1707.4,1443.0 1708.0,1442.7 1708.5,1442.9 1709.1,1442.0 1709.7,1441.6 1710.2,1444.3 1710.8,1444.7 1711.4,1441.5 1711.9,1444.2 1712.5,1443.1 1713.0,1442.9 1713.6,1444.6 1714.2,1443.5 1714.7,1442.8 1715.3,1443.8 1715.9,1440.7 1716.4,1443.0 1717.0,1443.3 1717.6,1441.8 1718.1,1444.3 1718.7,1444.5 1719.3,1443.2 1719.8,1444.0 1720.4,1445.3 1721.0,1446.0 1721.5,1443.2 1722.1,1445.0 1722.7,1446.1 1723.2,1444.5 1723.8,1443.4 1724.4,1443.5 1724.9,1444.2 1725.5,1443.2 1726.1,1448.0 1726.6,1444.1 1727.2,1445.6 1727.8,1445.4 1728.3,1446.1 1728.9,1444.6 1729.5,1443.3 1730.0,1447.9 1730.6,1445.3 1731.2,1445.7 1731.7,1445.9 1732.3,1447.6 1732.9,1447.0 1733.4,1447.7 1734.0,1447.2 1734.6,1446.3 1735.1,1446.6 1735.7,1445.2 1736.3,1443.4 1736.8,1446.2 1737.4,1445.0 1738.0,1450.8 1738.5,1449.4 1739.1,1449.0 1739.7,1446.6 1740.2,1450.8 1740.8,1445.3 1741.4,1446.3 1741.9,1447.2 1742.5,1447.2 1743.1,1449.2 1743.6,1449.6 1744.2,1452.5 1744.8,1451.4 1745.3,1452.0 1745.9,1451.1 1746.5,1450.6 1747.0,1450.1 1747.6,1449.2 1748.2,1450.4 1748.7,1451.4 1749.3,1453.4 1749.9,1450.1 1750.4,1450.8 1751.0,1453.4 1751.6,1451.8 1752.1,1454.1 1752.7,1453.2 1753.3,1452.9 1753.8,1452.2 1754.4,1454.3 1755.0,1453.5 1755.5,1453.9 1756.1,1454.1 1756.7,1455.5 1757.2,1455.6 1757.8,1453.1 1758.4,1455.5 1758.9,1456.5 1759.5,1457.7 1760.1,1457.5 1760.6,1456.8 1761.2,1455.0 1761.8,1455.7 1762.3,1458.4 1762.9,1456.2 1763.5,1458.9 1764.0,1459.4 1764.6,1456.2 1765.2,1458.6 1765.7,1457.9 1766.3,1461.2 1766.9,1459.7 1767.4,1457.9 1768.0,1459.4 1768.6,1457.7 1769.1,1459.0 1769.7,1459.7 1770.3,1459.8 1770.8,1460.2 1771.4,1458.6 1772.0,1457.5 1772.5,1459.8 1773.1,1459.2 1773.7,1459.7 1774.2,1463.9 1774.8,1462.7 1775.4,1461.0 1775.9,1459.5 1776.5,1459.9 1777.1,1462.4 1777.6,1463.7 1778.2,1462.0 1778.8,1462.8 1779.3,1463.2 1779.9,1464.5 1780.5,1460.6 1781.0,1463.7 1781.6,1464.3 1782.2,1465.3 1782.7,1464.7 1783.3,1462.9 1783.8,1463.8 1784.4,1462.7 1785.0,1465.4 1785.5,1465.6 1786.1,1466.2 1786.7,1464.4 1787.2,1464.4 1787.8,1468.3 1788.4,1466.7 1788.9,1469.0 1789.5,1467.4 1790.1,1465.0 1790.6,1468.3 1791.2,1469.1 1791.8,1467.0 1792.3,1465.2 1792.9,1469.0 1793.5,1468.1 1794.0,1468.9 1794.6,1465.0 1795.2,1469.5 1795.7,1465.3 1796.3,1468.1 1796.9,1470.7 1797.4,1467.2 1798.0,1467.4 1798.6,1469.5 1799.1,1472.6 1799.7,1472.7 1800.3,1469.9 1800.8,1472.3 1801.4,1471.9 1802.0,1471.7 1802.5,1472.0 1803.1,1470.8 1803.7,1473.0 1804.2,1473.6 1804.8,1476.0 1805.4,1473.8 1805.9,1469.5 1806.5,1471.3 1807.1,1473.6 1807.6,1473.4 1808.2,1471.0 1808.8,1473.5 1809.3,1473.4 1809.9,1474.0 1810.5,1474.0 1811.0,1475.6 1811.6,1476.5 1812.2,1475.6 1812.7,1473.4 1813.3,1473.9 1813.9,1474.3 1814.4,1475.3 1815.0,1474.9 1815.6,1475.2 1816.1,1474.6 1816.7,1477.1 1817.3,1477.1 1817.8,1477.4 1818.4,1476.2 1819.0,1477.0 1819.5,1475.4 1820.1,1475.3 1820.7,1476.1 1821.2,1477.7 1821.8,1476.8 1822.4,1475.6 1822.9,1477.4 1823.5,1477.9 1824.1,1477.7 1824.6,1476.7 1825.2,1477.8 1825.8,1477.2 1826.3,1477.5 1826.9,1477.9 1827.5,1479.1 1828.0,1480.5 1828.6,1480.3 1829.2,1479.2 1829.7,1478.0 1830.3,1478.2 1830.9,1478.3 1831.4,1480.2 1832.0,1475.3 1832.6,1479.3 1833.1,1476.5 1833.7,1479.1 1834.3,1480.9 1834.8,1478.1 1835.4,1476.5 1836.0,1481.1 1836.5,1481.5 1837.1,1480.3 1837.7,1481.3 1838.2,1478.8 1838.8,1481.4 1839.4,1482.2 1839.9,1480.9 1840.5,1480.5 1841.1,1481.9 1841.6,1481.8 1842.2,1479.5 1842.8,1482.2 1843.3,1481.5 1843.9,1480.8 1844.5,1482.4 1845.0,1482.0 1845.6,1481.8 1846.2,1480.3 1846.7,1482.1 1847.3,1479.7 1847.9,1481.0 1848.4,1479.1 1849.0,1479.2 1849.6,1482.0 1850.1,1481.4 1850.7,1481.7 1851.3,1482.4 1851.8,1482.2 1852.4,1480.7 1853.0,1482.0 1853.5,1481.9 1854.1,1481.4 1854.6,1482.0 1855.2,1481.8 1855.8,1481.5 1856.3,1482.0 1856.9,1482.8 1857.5,1485.2 1858.0,1481.7 1858.6,1483.4 1859.2,1481.0 1859.7,1484.9 1860.3,1482.6 1860.9,1483.3 1861.4,1484.8 1862.0,1484.5 1862.6,1481.5 1863.1,1484.1 1863.7,1483.3 1864.3,1484.4 1864.8,1483.9 1865.4,1484.7 1866.0,1484.3 1866.5,1483.8 1867.1,1485.5 1867.7,1482.3 1868.2,1483.7 1868.8,1483.2 1869.4,1484.3 1869.9,1484.0 1870.5,1484.4 1871.1,1484.1 1871.6,1484.2 1872.2,1482.8 1872.8,1484.9 1873.3,1485.4 1873.9,1484.4 1874.5,1484.4 1875.0,1484.5 1875.6,1487.4 1876.2,1485.7 1876.7,1486.0 1877.3,1485.3 1877.9,1485.1 1878.4,1484.7 1879.0,1487.8 1879.6,1483.9 1880.1,1486.4 1880.7,1486.1 1881.3,1485.9 1881.8,1484.4 1882.4,1484.9 1883.0,1487.6 1883.5,1485.7 1884.1,1487.7 1884.7,1487.5 1885.2,1487.4 1885.8,1487.7 1886.4,1485.4 1886.9,1486.4 1887.5,1487.8 1888.1,1485.5 1888.6,1489.2 1889.2,1486.5 1889.8,1487.2 1890.3,1486.1 1890.9,1487.8 1891.5,1486.6 1892.0,1487.2 1892.6,1486.2 1893.2,1489.0 1893.7,1485.7 1894.3,1488.3 1894.9,1488.0 1895.4,1488.3 1896.0,1486.6 1896.6,1489.1 1897.1,1489.1 1897.7,1488.2 1898.3,1488.4 1898.8,1487.9 1899.4,1488.9 1900.0,1487.2 1900.5,1488.9 1901.1,1488.7 1901.7,1486.6 1902.2,1485.2 1902.8,1488.2 1903.4,1488.2 1903.9,1489.9 1904.5,1488.5 1905.1,1487.9 1905.6,1486.9 1906.2,1488.5 1906.8,1487.9 1907.3,1487.3 1907.9,1488.5 1908.5,1490.0 1909.0,1488.8 1909.6,1487.5 1910.2,1489.2 1910.7,1487.5 1911.3,1487.0 1911.9,1489.5 1912.4,1488.3 1913.0,1490.3 1913.6,1489.3 1914.1,1488.0 1914.7,1489.3 1915.3,1490.6 1915.8,1488.9 1916.4,1487.9 1917.0,1488.4 1917.5,1488.2 1918.1,1487.8 1918.7,1487.7 1919.2,1489.8 1919.8,1490.6 1920.4,1488.9 1920.9,1490.3 1921.5,1490.5 1922.1,1491.4 1922.6,1489.2 1923.2,1489.1 1923.8,1490.0 1924.3,1489.6 1924.9,1489.9 1925.4,1491.1 1926.0,1489.1 1926.6,1489.9 1927.1,1488.5 1927.7,1489.5 1928.3,1489.0 1928.8,1488.9 1929.4,1489.6 1930.0,1489.3 1930.5,1490.3 1931.1,1490.9 1931.7,1488.2 1932.2,1491.2 1932.8,1487.4 1933.4,1490.4 1933.9,1491.0 1934.5,1489.4 1935.1,1489.9 1935.6,1489.3 1936.2,1491.3 1936.8,1486.6 1937.3,1489.2 1937.9,1488.1 1938.5,1490.7 1939.0,1492.0 1939.6,1491.9 1940.2,1491.4 1940.7,1490.9 1941.3,1489.8 1941.9,1492.2 1942.4,1491.5 1943.0,1489.8 1943.6,1489.3 1944.1,1490.2 1944.7,1492.2 1945.3,1492.5 1945.8,1492.9 1946.4,1490.2 1947.0,1490.7 1947.5,1492.8 1948.1,1491.5 1948.7,1492.2 1949.2,1489.8 1949.8,1490.9 1950.4,1491.4 1950.9,1491.1 1951.5,1491.0 1952.1,1489.7 1952.6,1493.5 1953.2,1491.9 1953.8,1490.0 1954.3,1493.0 1954.9,1491.9 1955.5,1492.7 1956.0,1491.7 1956.6,1491.1 1957.2,1491.1 1957.7,1492.5 1958.3,1493.0 1958.9,1492.8 1959.4,1493.0 1960.0,1493.7 1960.6,1492.7 1961.1,1493.5 1961.7,1493.7 1962.3,1492.8 1962.8,1492.4 1963.4,1492.1 1964.0,1491.2 1964.5,1490.9 1965.1,1494.2 1965.7,1492.7 1966.2,1492.2 1966.8,1494.7 1967.4,1494.0 1967.9,1493.0 1968.5,1494.2 1969.1,1492.8 1969.6,1493.5 1970.2,1495.2 1970.8,1494.4 1971.3,1492.9 1971.9,1494.0 1972.5,1494.7 1973.0,1493.2 1973.6,1492.9 1974.2,1495.6 1974.7,1493.1 1975.3,1492.0 1975.9,1493.7 1976.4,1496.2 1977.0,1494.3 1977.6,1494.8 1978.1,1491.2 1978.7,1493.1 1979.3,1495.2 1979.8,1493.4 1980.4,1495.4 1981.0,1494.5 1981.5,1494.4 1982.1,1495.9 1982.7,1493.4 1983.2,1493.5 1983.8,1494.2 1984.4,1494.4 1984.9,1492.2 1985.5,1495.6 1986.1,1494.5 1986.6,1494.1 1987.2,1495.0 1987.8,1493.9 1988.3,1495.8 1988.9,1494.5 1989.5,1495.3 1990.0,1493.5 1990.6,1494.2 1991.2,1495.0 1991.7,1493.5 1992.3,1493.8 1992.9,1494.6 1993.4,1495.9 1994.0,1495.6 1994.6,1495.8 1995.1,1495.1 1995.7,1495.8 1996.2,1496.6 1996.8,1495.0 1997.4,1495.4 1997.9,1495.6 1998.5,1492.7 1999.1,1494.9 1999.6,1495.5 2000.2,1495.9 2000.8,1494.7 2001.3,1496.2 2001.9,1494.4 2002.5,1495.0 2003.0,1497.1 2003.6,1493.7 2004.2,1495.2 2004.7,1495.1 2005.3,1495.2 2005.9,1494.7 2006.4,1496.1 2007.0,1494.2 2007.6,1493.9 2008.1,1496.0 2008.7,1494.1 2009.3,1496.0 2009.8,1495.6 2010.4,1494.8 2011.0,1495.2 2011.5,1495.5 2012.1,1496.2 2012.7,1495.0 2013.2,1495.5 2013.8,1494.2 2014.4,1495.5 2014.9,1493.7 2015.5,1495.8 2016.1,1495.4 2016.6,1498.3 2017.2,1497.4 2017.8,1495.8 2018.3,1497.1 2018.9,1496.4 2019.5,1494.8 2020.0,1493.4 2020.6,1497.4 2021.2,1496.6 2021.7,1494.0 2022.3,1497.0 2022.9,1497.3 2023.4,1495.5 2024.0,1497.2 2024.6,1494.4 2025.1,1496.2 2025.7,1496.5 2026.3,1497.4 2026.8,1497.0 2027.4,1496.8 2028.0,1497.2 2028.5,1495.9 2029.1,1498.3 2029.7,1496.3 2030.2,1497.6 2030.8,1496.7 2031.4,1496.5 2031.9,1497.5 2032.5,1497.3 2033.1,1498.4 2033.6,1498.1 2034.2,1496.3 2034.8,1497.5 2035.3,1497.1 2035.9,1496.2 2036.5,1495.8 2037.0,1497.4 2037.6,1496.5 2038.2,1495.6 2038.7,1497.1 2039.3,1497.5 2039.9,1497.4 2040.4,1496.0 2041.0,1496.7 2041.6,1498.9 2042.1,1496.6 2042.7,1497.1 2043.3,1500.1 2043.8,1497.9 2044.4,1497.0 2045.0,1495.4 2045.5,1498.0 2046.1,1496.1 2046.7,1497.7 2047.2,1496.7 2047.8,1495.9 2048.4,1499.6 2048.9,1497.7 2049.5,1498.9 2050.1,1498.7 2050.6,1497.1 2051.2,1498.0 2051.8,1497.6 2052.3,1499.1 2052.9,1498.5 2053.5,1497.7 2054.0,1500.0 2054.6,1498.8 2055.2,1498.7 2055.7,1497.4 2056.3,1498.7 2056.9,1496.7 2057.4,1498.9 2058.0,1497.4 2058.6,1498.7 2059.1,1498.2 2059.7,1498.8 2060.3,1499.0 2060.8,1498.6 2061.4,1498.6 2062.0,1497.1 2062.5,1496.7 2063.1,1500.2 2063.7,1499.5 2064.2,1497.3 2064.8,1501.0 2065.4,1498.2 2065.9,1499.6 2066.5,1499.5 2067.0,1499.2 2067.6,1499.8 2068.2,1497.7 2068.7,1499.2 2069.3,1499.0 2069.9,1499.4 2070.4,1499.0 2071.0,1498.7 2071.6,1498.6 2072.1,1500.4 2072.7,1498.6 2073.3,1499.9 2073.8,1499.9 2074.4,1499.5 2075.0,1500.1 2075.5,1500.3 2076.1,1499.1 2076.7,1500.1 2077.2,1501.8 2077.8,1498.6 2078.4,1499.5 2078.9,1499.0 2079.5,1502.0 2080.1,1498.4 2080.6,1499.9 2081.2,1501.0 2081.8,1499.0 2082.3,1499.8 2082.9,1499.2 2083.5,1498.6 2084.0,1500.0 2084.6,1500.6 2085.2,1499.6 2085.7,1500.3 2086.3,1500.8 2086.9,1501.4 2087.4,1498.8 2088.0,1500.8 2088.6,1499.4 2089.1,1498.1 2089.7,1499.3 2090.3,1500.8 2090.8,1500.5 2091.4,1498.9 2092.0,1501.9 2092.5,1500.6 2093.1,1500.1 2093.7,1499.6 2094.2,1500.6 2094.8,1499.7 2095.4,1501.4 2095.9,1500.5 2096.5,1500.8 2097.1,1499.8 2097.6,1498.6 2098.2,1500.8 2098.8,1499.1 2099.3,1500.1 2099.9,1500.2 2100.5,1499.3 2101.0,1501.2 2101.6,1498.6 2102.2,1501.8 2102.7,1499.6 2103.3,1501.2 2103.9,1501.6 2104.4,1499.3 2105.0,1499.4 2105.6,1501.2 2106.1,1500.4 2106.7,1500.3 2107.3,1498.2 2107.8,1498.4 2108.4,1500.8 2109.0,1501.8 2109.5,1499.5 2110.1,1499.3 2110.7,1500.5 2111.2,1500.7 2111.8,1500.8 2112.4,1499.8 2112.9,1498.1 2113.5,1501.8 2114.1,1499.7 2114.6,1501.6 2115.2,1498.1 2115.8,1500.7 2116.3,1499.7 2116.9,1499.1 2117.5,1501.3 2118.0,1501.7 2118.6,1499.7 2119.2,1501.0 2119.7,1499.1 2120.3,1499.6 2120.9,1500.0 2121.4,1499.9 2122.0,1501.0 2122.6,1499.0 2123.1,1501.4 2123.7,1501.4 2124.3,1500.1 2124.8,1499.1 2125.4,1497.8 2126.0,1500.3 2126.5,1499.6 2127.1,1500.5 2127.7,1499.3 2128.2,1500.4 2128.8,1500.4 2129.4,1500.5 2129.9,1500.8 2130.5,1500.8 2131.1,1501.5 2131.6,1499.7 2132.2,1501.3 2132.8,1500.7 2133.3,1500.1 2133.9,1499.5 2134.5,1502.1 2135.0,1500.8 2135.6,1500.0 2136.2,1500.7 2136.7,1500.6 2137.3,1500.1 2137.8,1499.2 2138.4,1500.8 2139.0,1500.5 2139.5,1500.4 2140.1,1501.8 2140.7,1499.3 2141.2,1499.7 2141.8,1501.0 2142.4,1501.7 2142.9,1501.5 2143.5,1501.6 2144.1,1498.5 2144.6,1501.4 2145.2,1501.3 2145.8,1501.6 2146.3,1500.2 2146.9,1501.5 2147.5,1502.0 2148.0,1502.7 2148.6,1501.3 2149.2,1499.6 2149.7,1501.1 2150.3,1501.8 2150.9,1501.6 2151.4,1503.2 2152.0,1500.9 2152.6,1500.1 2153.1,1500.5 2153.7,1501.9 2154.3,1500.4 2154.8,1500.1 2155.4,1500.4 2156.0,1502.6 2156.5,1501.6 2157.1,1501.0 2157.7,1502.3 2158.2,1502.1 2158.8,1500.4 2159.4,1502.3 2159.9,1501.7 2160.5,1499.3 2161.1,1500.2 2161.6,1501.8 2162.2,1502.1 2162.8,1501.3 2163.3,1500.5 2163.9,1501.9 2164.5,1499.7 2165.0,1502.3 2165.6,1501.5 2166.2,1501.7 2166.7,1501.0 2167.3,1502.6 2167.9,1499.3 2168.4,1500.9 2169.0,1502.4 2169.6,1501.1 2170.1,1503.4 2170.7,1502.4 2171.3,1501.1 2171.8,1503.1 2172.4,1501.9 2173.0,1502.6 2173.5,1501.4 2174.1,1501.4 2174.7,1502.8 2175.2,1502.2 2175.8,1501.3 2176.4,1501.2 2176.9,1502.9 2177.5,1504.1 2178.1,1501.3 2178.6,1503.0 2179.2,1499.2 2179.8,1500.8 2180.3,1503.0 2180.9,1504.0 2181.5,1502.4 2182.0,1503.0 2182.6,1502.7 2183.2,1503.5 2183.7,1501.3 2184.3,1503.2 2184.9,1502.1 2185.4,1502.2 2186.0,1502.6 2186.6,1502.4 2187.1,1501.8 2187.7,1502.4 2188.3,1501.7 2188.8,1504.2 2189.4,1503.4 2190.0,1502.3 2190.5,1504.4 2191.1,1504.1 2191.7,1503.3 2192.2,1502.3 2192.8,1503.1 2193.4,1503.5 2193.9,1504.4 2194.5,1502.8 2195.1,1502.4 2195.6,1505.4 2196.2,1504.5 2196.8,1503.4 2197.3,1502.1 2197.9,1503.6 2198.5,1504.3 2199.0,1504.0 2199.6,1504.1 2200.2,1503.3 2200.7,1504.5 2201.3,1502.7 2201.9,1502.9 2202.4,1502.8 2203.0,1502.7 2203.6,1505.4 2204.1,1501.7 2204.7,1503.7 2205.3,1502.5 2205.8,1502.2 2206.4,1503.7 2207.0,1501.9 2207.5,1503.5 2208.1,1506.0 2208.6,1503.6 2209.2,1504.2 2209.8,1502.8 2210.3,1504.3 2210.9,1502.2 2211.5,1504.0 2212.0,1503.7 2212.6,1506.1 2213.2,1503.8 2213.7,1503.5 2214.3,1503.4 2214.9,1502.7 2215.4,1504.8 2216.0,1505.6 2216.6,1503.7 2217.1,1504.8 2217.7,1503.8 2218.3,1504.6 2218.8,1504.7 2219.4,1502.7 2220.0,1503.4 2220.5,1505.3 2221.1,1502.3 2221.7,1504.4 2222.2,1504.0 2222.8,1503.4 2223.4,1504.5 2223.9,1504.8 2224.5,1505.1 2225.1,1501.8 2225.6,1506.3 2226.2,1504.1 2226.8,1505.7 2227.3,1504.5 2227.9,1504.1 2228.5,1504.6 2229.0,1508.0 2229.6,1506.4 2230.2,1504.4 2230.7,1505.1 2231.3,1506.0 2231.9,1505.5 2232.4,1505.0 2233.0,1504.8 2233.6,1503.9 2234.1,1505.8 2234.7,1506.2 2235.3,1507.4 2235.8,1504.5 2236.4,1505.8 2237.0,1505.1 2237.5,1506.5 2238.1,1505.1 2238.7,1504.6 2239.2,1503.5 2239.8,1506.1 2240.4,1505.5 2240.9,1506.5 2241.5,1504.8 2242.1,1508.1 2242.6,1504.7 2243.2,1506.0 2243.8,1506.0 2244.3,1506.7 2244.9,1505.4 2245.5,1504.7 2246.0,1504.6 2246.6,1506.5 2247.2,1505.8 2247.7,1506.1 2248.3,1504.9 2248.9,1505.9 2249.4,1506.0 2250.0,1506.5 2250.6,1504.4 2251.1,1505.1 2251.7,1507.7 2252.3,1505.5 2252.8,1505.9 2253.4,1505.6 2254.0,1504.5 2254.5,1504.9 2255.1,1506.5 2255.7,1505.4 2256.2,1508.2 2256.8,1504.6 2257.4,1504.2 2257.9,1505.8 2258.5,1505.0 2259.1,1507.7 2259.6,1505.8 2260.2,1506.8 2260.8,1504.9 2261.3,1507.0 2261.9,1507.0 2262.5,1507.7 2263.0,1506.7 2263.6,1507.0 2264.2,1506.7 2264.7,1507.5 2265.3,1506.1 2265.9,1507.1 2266.4,1506.0 2267.0,1507.3 2267.6,1506.4 2268.1,1506.0 2268.7,1506.0 2269.3,1508.2 2269.8,1505.2 2270.4,1505.3 2271.0,1507.5 2271.5,1505.8 2272.1,1506.4 2272.7,1506.4 2273.2,1509.2 2273.8,1506.3 2274.4,1506.2 2274.9,1506.6 2275.5,1507.3 2276.1,1507.6 2276.6,1505.6 2277.2,1507.6 2277.8,1509.1 2278.3,1505.3 2278.9,1507.8 2279.4,1508.0 2280.0,1507.4 2280.6,1507.1 2281.1,1504.9 2281.7,1508.5 2282.3,1507.0 2282.8,1507.2 2283.4,1508.6 2284.0,1505.1 2284.5,1507.4 2285.1,1508.1 2285.7,1508.2 2286.2,1508.2 2286.8,1509.6 2287.4,1507.9 2287.9,1508.6 2288.5,1508.4 2289.1,1506.2 2289.6,1506.9 2290.2,1509.8 2290.8,1507.5 2291.3,1507.7 2291.9,1506.5 2292.5,1507.5 2293.0,1506.5 2293.6,1507.3 2294.2,1508.5 2294.7,1507.1 2295.3,1507.3 2295.9,1509.3 2296.4,1508.5 2297.0,1508.5 2297.6,1509.1 2298.1,1507.5 2298.7,1507.7 2299.3,1506.1 2299.8,1508.9 2300.4,1508.0 2301.0,1508.2 2301.5,1507.1 2302.1,1508.9 2302.7,1508.9 2303.2,1508.5 2303.8,1506.7 2304.4,1507.5 2304.9,1508.3 2305.5,1507.5 2306.1,1508.8 2306.6,1509.4 2307.2,1507.7 2307.8,1508.3 2308.3,1507.8 2308.9,1509.6 2309.5,1509.4 2310.0,1511.2 2310.6,1508.6 2311.2,1507.7 2311.7,1509.0 2312.3,1508.4 2312.9,1508.9 2313.4,1509.9 2314.0,1508.4 2314.6,1509.5 2315.1,1506.6 2315.7,1509.8 2316.3,1508.9 2316.8,1508.6 2317.4,1508.3 2318.0,1510.3 2318.5,1508.4 2319.1,1510.2 2319.7,1508.4 2320.2,1509.0 2320.8,1509.3 2321.4,1511.0 2321.9,1509.2 2322.5,1509.2 2323.1,1509.0 2323.6,1508.7 2324.2,1508.5 2324.8,1510.9 2325.3,1510.6 2325.9,1508.4 2326.5,1509.3 2327.0,1508.0 2327.6,1510.1 2328.2,1509.9 2328.7,1509.3 2329.3,1508.4 2329.9,1510.0 2330.4,1509.8 2331.0,1509.1 2331.6,1510.0 2332.1,1507.9 2332.7,1508.7 2333.3,1508.3 2333.8,1509.4 2334.4,1511.0 2335.0,1509.4 2335.5,1510.5 2336.1,1509.3 2336.7,1509.0 2337.2,1510.4 2337.8,1509.9 2338.4,1510.8 2338.9,1510.4 2339.5,1508.6 2340.1,1506.9 2340.6,1509.6 2341.2,1508.3 2341.8,1508.1 2342.3,1508.0 2342.9,1508.8 2343.5,1509.3 2344.0,1509.5 2344.6,1511.5 2345.2,1508.3 2345.7,1509.5 2346.3,1508.3 2346.9,1508.6 2347.4,1509.6 2348.0,1510.0 2348.6,1508.3 2349.1,1510.7 2349.7,1508.7 2350.2,1510.6 2350.8,1509.6 2351.4,1510.5 2351.9,1510.2 2352.5,1509.4 2353.1,1510.1 2353.6,1508.3 2354.2,1508.4 2354.8,1509.3 2355.3,1511.0 2355.9,1509.0 2356.5,1509.1 2357.0,1511.4 2357.6,1509.8 2358.2,1509.7 2358.7,1508.7 2359.3,1509.8 2359.9,1510.3 2360.4,1509.7 2361.0,1510.5 2361.6,1510.1 2362.1,1510.8 2362.7,1510.6 2363.3,1509.7 2363.8,1510.7 2364.4,1511.6 2365.0,1510.1 2365.5,1508.6 2366.1,1510.0 2366.7,1509.7 2367.2,1512.4 2367.8,1510.6 2368.4,1508.8 2368.9,1509.7 2369.5,1511.3 2370.1,1508.7 2370.6,1509.4 2371.2,1509.9 2371.8,1509.8 2372.3,1509.3 2372.9,1510.0 2373.5,1508.5 2374.0,1509.3 2374.6,1509.3 2375.2,1509.6 2375.7,1509.6 2376.3,1509.9 2376.9,1509.6 2377.4,1509.5 2378.0,1510.3 2378.6,1510.8 2379.1,1510.9 2379.7,1508.8 2380.3,1510.2 2380.8,1510.7 2381.4,1509.7 2382.0,1510.4 2382.5,1509.8 2383.1,1510.3 2383.7,1508.5 2384.2,1510.4 2384.8,1509.5 2385.4,1509.3"/>
<polyline fill="none" stroke="#0000ff" stroke-width="6" stroke-linejoin="round" shape-rendering="crispEdges" stroke-linecap="butt" points="543.7,1400.0 544.3,1399.0 544.8,1399.4 545.4,1395.9 546.0,1403.9 546.5,1402.9 547.1,1400.5 547.7,1402.7 548.2,1402.0 548.8,1400.7 549.4,1403.7 549.9,1401.6 550.5,1401.8 551.1,1401.1 551.6,1403.6 552.2,1402.8 552.8,1404.1 553.3,1402.2 553.9,1403.7 554.5,1402.1 555.0,1405.4 555.6,1404.3 556.2,1404.8 556.7,1405.0 557.3,1402.6 557.9,1406.0 558.4,1408.4 559.0,1401.8 559.6,1401.7 560.1,1402.2 560.7,1406.5 561.3,1405.3 561.8,1407.1 562.4,1406.5 563.0,1405.6 563.5,1405.8 564.1,1405.0 564.7,1407.0 565.2,1403.4 565.8,1404.8 566.4,1406.0 566.9,1408.9 567.5,1404.3 568.1,1403.8 568.6,1404.8 569.2,1407.6 569.8,1405.5 570.3,1408.3 570.9,1402.6 571.5,1408.0 572.0,1407.9 572.6,1403.6 573.2,1406.4 573.7,1408.4 574.3,1406.4 574.9,1408.1 575.4,1410.6 576.0,1406.8 576.6,1405.9 577.1,1405.0 577.7,1407.6 578.3,1406.1 578.8,1406.2 579.4,1406.4 579.9,1407.8 580.5,1404.7 581.1,1403.9 581.6,1402.3 582.2,1408.8 582.8,1406.9 583.3,1409.5 583.9,1406.8 584.5,1405.5 585.0,1407.7 585.6,1406.7 586.2,1404.6 586.7,1405.3 587.3,1410.1 587.9,1407.5 588.4,1407.7 589.0,1406.4 589.6,1405.7 590.1,1408.6 590.7,1406.8 591.3,1405.6 591.8,1406.7 592.4,1405.4 593.0,1407.3 593.5,1409.0 594.1,1405.5 594.7,1409.6 595.2,1405.8 595.8,1407.2 596.4,1405.4 596.9,1406.4 597.5,1406.8 598.1,1405.9 598.6,1405.3 599.2,1405.2 599.8,1404.8 600.3,1403.2 600.9,1405.4 601.5,1406.4 602.0,1407.2 602.6,1406.5 603.2,1409.5 603.7,1405.5 604.3,1403.9 604.9,1407.8 605.4,1402.3 606.0,1405.8 606.6,1402.1 607.1,1404.2 607.7,1399.8 608.3,1404.7 608.8,1402.6 609.4,1400.9 610.0,1405.5 610.5,1403.6 611.1,1402.1 611.7,1400.5 612.2,1401.6 612.8,1401.2 613.4,1402.7 613.9,1402.7 614.5,1399.9 615.1,1400.0 615.6,1399.9 616.2,1398.3 616.8,1399.6 617.3,1400.4 617.9,1401.7 618.5,1402.8 619.0,1398.8 619.6,1401.2 620.2,1399.3 620.7,1403.8 621.3,1399.8 621.9,1400.8 622.4,1398.0 623.0,1398.2 623.6,1400.0 624.1,1398.8 624.7,1400.1 625.3,1396.5 625.8,1400.5 626.4,1397.5 627.0,1402.3 627.5,1398.5 628.1,1401.0 628.7,1396.3 629.2,1399.6 629.8,1397.1 630.4,1397.8 630.9,1398.7 631.5,1398.0 632.1,1399.0 632.6,1399.8 633.2,1399.6 633.8,1398.1 634.3,1395.7 634.9,1396.7 635.5,1397.7 636.0,1394.1 636.6,1399.4 637.2,1397.5 637.7,1397.4 638.3,1399.5 638.9,1399.0 639.4,1398.1 640.0,1395.7 640.6,1398.1 641.1,1398.1 641.7,1395.8 642.3,1399.3 642.8,1398.2 643.4,1393.6 644.0,1397.4 644.5,1394.7 645.1,1399.1 645.7,1398.4 646.2,1394.8 646.8,1395.2 647.4,1396.9 647.9,1396.2 648.5,1399.4 649.1,1397.9 649.6,1395.9 650.2,1397.4 650.7,1392.5 651.3,1396.8 651.9,1397.8 652.4,1395.7 653.0,1394.7 653.6,1397.0 654.1,1399.5 654.7,1396.1 655.3,1393.6 655.8,1398.2 656.4,1392.0 657.0,1396.3 657.5,1394.2 658.1,1396.9 658.7,1393.5 659.2,1397.4 659.8,1395.4 660.4,1391.5 660.9,1390.9 661.5,1393.8 662.1,1396.7 662.6,1394.4 663.2,1394.2 663.8,1393.4 664.3,1395.1 664.9,1394.3 665.5,1394.0 666.0,1391.5 666.6,1395.4 667.2,1395.6 667.7,1390.5 668.3,1397.1 668.9,1394.0 669.4,1391.6 670.0,1388.8 670.6,1393.5 671.1,1393.2 671.7,1390.9 672.3,1388.6 672.8,1393.9 673.4,1390.6 674.0,1390.7 674.5,1396.9 675.1,1395.4 675.7,1393.1 676.2,1390.4 676.8,1392.4 677.4,1386.8 677.9,1391.3 678.5,1389.6 679.1,1388.6 679.6,1388.0 680.2,1391.9 680.8,1391.1 681.3,1391.2 681.9,1392.5 682.5,1389.4 683.0,1388.8 683.6,1387.9 684.2,1390.9 684.7,1393.1 685.3,1391.7 685.9,1393.4 686.4,1390.2 687.0,1391.8 687.6,1391.5 688.1,1390.8 688.7,1396.9 689.3,1395.1 689.8,1392.3 690.4,1392.3 691.0,1393.7 691.5,1391.1 692.1,1394.6 692.7,1391.3 693.2,1393.0 693.8,1391.8 694.4,1392.7 694.9,1391.1 695.5,1390.6 696.1,1391.6 696.6,1392.1 697.2,1392.7 697.8,1393.3 698.3,1396.0 698.9,1394.5 699.5,1392.4 700.0,1394.1 700.6,1391.4 701.2,1395.2 701.7,1393.4 702.3,1389.7 702.9,1393.5 703.4,1393.5 704.0,1386.8 704.6,1390.3 705.1,1390.6 705.7,1387.7 706.3,1389.2 706.8,1389.2 707.4,1391.8 708.0,1391.3 708.5,1395.5 709.1,1389.6 709.7,1392.4 710.2,1390.2 710.8,1390.3 711.4,1387.5 711.9,1385.9 712.5,1387.8 713.1,1390.6 713.6,1391.9 714.2,1389.9 714.8,1389.5 715.3,1386.8 715.9,1391.2 716.5,1390.6 717.0,1386.9 717.6,1387.6 718.2,1385.7 718.7,1390.2 719.3,1388.0 719.9,1386.8 720.4,1387.6 721.0,1387.5 721.5,1385.6 722.1,1383.8 722.7,1383.6 723.2,1382.5 723.8,1386.5 724.4,1389.6 724.9,1381.9 725.5,1385.2 726.1,1385.5 726.6,1382.6 727.2,1384.6 727.8,1381.9 728.3,1386.0 728.9,1382.3 729.5,1383.4 730.0,1384.3 730.6,1381.8 731.2,1378.9 731.7,1381.1 732.3,1383.3 732.9,1381.4 733.4,1381.7 734.0,1378.9 734.6,1380.9 735.1,1381.8 735.7,1380.1 736.3,1383.4 736.8,1379.0 737.4,1377.0 738.0,1375.6 738.5,1380.6 739.1,1377.9 739.7,1379.6 740.2,1378.1 740.8,1380.0 741.4,1378.8 741.9,1375.2 742.5,1376.0 743.1,1377.1 743.6,1372.1 744.2,1376.9 744.8,1376.0 745.3,1375.0 745.9,1372.1 746.5,1372.6 747.0,1369.3 747.6,1371.1 748.2,1369.2 748.7,1370.0 749.3,1368.3 749.9,1369.3 750.4,1370.6 751.0,1365.0 751.6,1368.9 752.1,1362.4 752.7,1361.5 753.3,1365.0 753.8,1364.7 754.4,1365.0 755.0,1360.1 755.5,1362.8 756.1,1362.5 756.7,1364.2 757.2,1360.9 757.8,1361.5 758.4,1357.8 758.9,1358.9 759.5,1357.7 760.1,1359.4 760.6,1355.3 761.2,1354.9 761.8,1357.2 762.3,1359.0 762.9,1355.4 763.5,1354.5 764.0,1352.3 764.6,1354.5 765.2,1352.6 765.7,1354.2 766.3,1350.4 766.9,1346.7 767.4,1346.5 768.0,1344.5 768.6,1342.8 769.1,1346.9 769.7,1344.7 770.3,1339.1 770.8,1344.3 771.4,1339.7 772.0,1335.8 772.5,1337.4 773.1,1335.1 773.7,1332.2 774.2,1328.4 774.8,1331.4 775.4,1330.7 775.9,1323.0 776.5,1328.6 777.1,1327.4 777.6,1323.6 778.2,1323.5 778.8,1321.3 779.3,1318.6 779.9,1318.3 780.5,1320.8 781.0,1313.1 781.6,1315.5 782.2,1314.0 782.7,1310.5 783.3,1309.7 783.9,1306.1 784.4,1306.0 785.0,1306.6 785.6,1305.9 786.1,1301.6 786.7,1309.4 787.3,1299.5 787.8,1299.7 788.4,1297.5 789.0,1295.6 789.5,1298.2 790.1,1292.5 790.7,1295.4 791.2,1293.6 791.8,1286.9 792.3,1290.5 792.9,1285.0 793.5,1291.8 794.0,1282.9 794.6,1280.1 795.2,1276.4 795.7,1276.5 796.3,1276.9 796.9,1274.5 797.4,1272.6 798.0,1272.6 798.6,1272.4 799.1,1275.2 799.7,1266.0 800.3,1267.5 800.8,1265.2 801.4,1262.4 802.0,1261.7 802.5,1261.2 803.1,1263.8 803.7,1260.1 804.2,1257.8 804.8,1259.3 805.4,1257.0 805.9,1254.3 806.5,1254.5 807.1,1250.0 807.6,1252.4 808.2,1250.7 808.8,1247.2 809.3,1244.0 809.9,1249.9 810.5,1245.0 811.0,1251.6 811.6,1240.9 812.2,1243.7 812.7,1239.3 813.3,1240.0 813.9,1240.5 814.4,1235.2 815.0,1236.1 815.6,1235.8 816.1,1234.7 816.7,1235.0 817.3,1235.2 817.8,1233.8 818.4,1231.4 819.0,1228.9 819.5,1225.9 820.1,1226.1 820.7,1225.8 821.2,1228.2 821.8,1224.6 822.4,1221.4 822.9,1225.6 823.5,1221.0 824.1,1220.3 824.6,1221.0 825.2,1222.1 825.8,1213.5 826.3,1216.3 826.9,1219.0 827.5,1216.8 828.0,1214.7 828.6,1214.9 829.2,1219.4 829.7,1213.7 830.3,1216.1 830.9,1215.6 831.4,1211.6 832.0,1213.3 832.6,1210.2 833.1,1209.1 833.7,1207.1 834.3,1211.9 834.8,1207.8 835.4,1206.7 836.0,1204.5 836.5,1211.9 837.1,1208.4 837.7,1205.4 838.2,1203.2 838.8,1200.3 839.4,1204.7 839.9,1204.1 840.5,1198.8 841.1,1205.3 841.6,1203.6 842.2,1198.1 842.8,1198.6 843.3,1198.3 843.9,1199.3 844.5,1197.9 845.0,1193.1 845.6,1201.1 846.2,1197.2 846.7,1199.2 847.3,1198.5 847.9,1193.8 848.4,1194.7 849.0,1195.1 849.6,1194.6 850.1,1191.3 850.7,1189.4 851.3,1190.6 851.8,1187.6 852.4,1187.7 853.0,1182.9 853.5,1188.3 854.1,1184.5 854.7,1185.2 855.2,1186.0 855.8,1186.5 856.4,1190.3 856.9,1184.8 857.5,1179.5 858.1,1183.2 858.6,1180.4 859.2,1182.5 859.8,1178.7 860.3,1177.9 860.9,1177.8 861.5,1176.8 862.0,1172.8 862.6,1175.5 863.1,1176.9 863.7,1179.9 864.3,1175.2 864.8,1174.7 865.4,1177.1 866.0,1176.8 866.5,1179.8 867.1,1176.8 867.7,1174.9 868.2,1178.7 868.8,1179.2 869.4,1173.3 869.9,1175.1 870.5,1169.7 871.1,1173.4 871.6,1171.8 872.2,1173.7 872.8,1172.8 873.3,1173.7 873.9,1173.8 874.5,1175.5 875.0,1174.7 875.6,1172.3 876.2,1170.2 876.7,1177.4 877.3,1177.9 877.9,1172.5 878.4,1175.4 879.0,1169.4 879.6,1169.3 880.1,1173.0 880.7,1178.1 881.3,1171.0 881.8,1171.8 882.4,1179.0 883.0,1169.3 883.5,1176.9 884.1,1176.8 884.7,1175.3 885.2,1176.8 885.8,1184.3 886.4,1174.1 886.9,1176.9 887.5,1177.7 888.1,1176.9 888.6,1175.6 889.2,1184.5 889.8,1181.3 890.3,1176.4 890.9,1180.3 891.5,1184.3 892.0,1185.4 892.6,1181.2 893.2,1186.2 893.7,1188.3 894.3,1189.8 894.9,1191.0 895.4,1186.0 896.0,1197.4 896.6,1193.9 897.1,1199.5 897.7,1203.5 898.3,1196.2 898.8,1194.4 899.4,1201.4 900.0,1199.7 900.5,1200.1 901.1,1199.7 901.7,1208.4 902.2,1203.8 902.8,1202.3 903.4,1206.1 903.9,1205.3 904.5,1210.1 905.1,1209.6 905.6,1209.0 906.2,1214.6 906.8,1212.3 907.3,1217.0 907.9,1219.4 908.5,1215.9 909.0,1216.1 909.6,1219.3 910.2,1222.0 910.7,1220.5 911.3,1221.7 911.9,1222.1 912.4,1223.9 913.0,1225.5 913.6,1222.8 914.1,1224.2 914.7,1226.4 915.3,1225.3 915.8,1228.2 916.4,1230.1 917.0,1229.4 917.5,1228.7 918.1,1229.0 918.7,1236.6 919.2,1235.1 919.8,1230.7 920.4,1232.2 920.9,1240.2 921.5,1240.0 922.1,1237.2 922.6,1240.6 923.2,1234.4 923.8,1239.0 924.3,1241.6 924.9,1235.5 925.5,1238.9 926.0,1243.5 926.6,1244.9 927.2,1240.9 927.7,1243.7 928.3,1247.6 928.9,1243.0 929.4,1241.0 930.0,1244.8 930.6,1244.4 931.1,1249.2 931.7,1246.7 932.3,1244.5 932.8,1253.1 933.4,1245.8 933.9,1248.5 934.5,1249.2 935.1,1249.5 935.6,1247.9 936.2,1249.0 936.8,1247.2 937.3,1243.6 937.9,1246.5 938.5,1246.4 939.0,1246.3 939.6,1246.8 940.2,1244.6 940.7,1249.4 941.3,1249.7 941.9,1239.7 942.4,1245.1 943.0,1242.9 943.6,1237.6 944.1,1245.1 944.7,1242.1 945.3,1242.4 945.8,1241.3 946.4,1245.5 947.0,1245.4 947.5,1242.5 948.1,1243.1 948.7,1240.5 949.2,1240.6 949.8,1237.7 950.4,1239.1 950.9,1236.5 951.5,1238.6 952.1,1239.1 952.6,1237.1 953.2,1238.6 953.8,1241.8 954.3,1228.4 954.9,1233.2 955.5,1230.9 956.0,1230.4 956.6,1227.2 957.2,1230.2 957.7,1228.5 958.3,1226.7 958.9,1226.8 959.4,1225.0 960.0,1219.4 960.6,1227.6 961.1,1222.9 961.7,1220.2 962.3,1222.5 962.8,1218.9 963.4,1213.7 964.0,1220.8 964.5,1212.8 965.1,1215.5 965.7,1215.2 966.2,1217.3 966.8,1215.6 967.4,1211.5 967.9,1207.5 968.5,1206.9 969.1,1209.4 969.6,1209.5 970.2,1204.2 970.8,1199.0 971.3,1201.7 971.9,1195.8 972.5,1193.7 973.0,1192.0 973.6,1192.5 974.2,1189.8 974.7,1190.0 975.3,1189.2 975.9,1185.4 976.4,1175.9 977.0,1176.2 977.6,1180.1 978.1,1178.1 978.7,1183.0 979.3,1175.3 979.8,1173.4 980.4,1174.9 981.0,1173.4 981.5,1167.7 982.1,1167.4 982.7,1160.0 983.2,1157.6 983.8,1160.9 984.4,1149.9 984.9,1153.5 985.5,1149.7 986.1,1146.9 986.6,1144.5 987.2,1140.9 987.8,1130.6 988.3,1132.1 988.9,1131.5 989.5,1134.4 990.0,1126.6 990.6,1126.2 991.2,1125.4 991.7,1128.5 992.3,1117.8 992.9,1115.4 993.4,1118.5 994.0,1106.8 994.6,1111.2 995.1,1105.6 995.7,1099.1 996.3,1099.9 996.8,1095.3 997.4,1096.3 998.0,1094.2 998.5,1095.1 999.1,1087.6 999.7,1085.0 1000.2,1079.8 1000.8,1078.3 1001.4,1078.3 1001.9,1064.8 1002.5,1068.9 1003.1,1060.5 1003.6,1057.7 1004.2,1053.5 1004.7,1050.2 1005.3,1043.0 1005.9,1035.6 1006.4,1032.7 1007.0,1026.3 1007.6,1020.0 1008.1,1015.7 1008.7,1012.0 1009.3,1003.4 1009.8,997.2 1010.4,985.3 1011.0,982.2 1011.5,968.7 1012.1,970.6 1012.7,957.9 1013.2,959.5 1013.8,959.3 1014.4,940.7 1014.9,941.0 1015.5,932.0 1016.1,923.4 1016.6,918.1 1017.2,919.6 1017.8,919.5 1018.3,912.7 1018.9,903.1 1019.5,902.3 1020.0,902.8 1020.6,906.2 1021.2,899.4 1021.7,896.5 1022.3,896.6 1022.9,887.7 1023.4,884.6 1024.0,880.5 1024.6,870.3 1025.1,874.7 1025.7,869.8 1026.3,866.7 1026.8,852.3 1027.4,847.5 1028.0,848.0 1028.5,839.7 1029.1,838.5 1029.7,824.9 1030.2,824.6 1030.8,816.8 1031.4,816.6 1031.9,809.2 1032.5,809.2 1033.1,807.4 1033.6,801.9 1034.2,787.9 1034.8,795.2 1035.3,789.3 1035.9,779.2 1036.5,775.6 1037.0,774.6 1037.6,772.0 1038.2,762.9 1038.7,753.7 1039.3,758.2 1039.9,754.9 1040.4,762.0 1041.0,744.4 1041.6,758.9 1042.1,754.5 1042.7,747.4 1043.3,752.1 1043.8,744.9 1044.4,748.2 1045.0,741.0 1045.5,744.8 1046.1,740.9 1046.7,739.5 1047.2,746.0 1047.8,745.5 1048.4,752.0 1048.9,756.5 1049.5,752.4 1050.1,755.5 1050.6,758.3 1051.2,753.1 1051.8,763.9 1052.3,765.9 1052.9,768.9 1053.5,768.0 1054.0,768.0 1054.6,778.8 1055.2,784.9 1055.7,793.1 1056.3,796.5 1056.9,802.3 1057.4,802.6 1058.0,810.7 1058.6,810.4 1059.1,819.4 1059.7,826.8 1060.3,840.0 1060.8,836.4 1061.4,836.3 1062.0,852.4 1062.5,849.8 1063.1,858.8 1063.7,864.5 1064.2,869.6 1064.8,887.3 1065.4,894.0 1065.9,897.7 1066.5,907.2 1067.1,911.6 1067.6,921.5 1068.2,923.8 1068.8,928.7 1069.3,936.1 1069.9,944.6 1070.5,955.5 1071.0,959.6 1071.6,970.7 1072.2,980.2 1072.7,994.3 1073.3,996.5 1073.9,990.2 1074.4,1005.5 1075.0,1012.2 1075.5,1020.3 1076.1,1029.7 1076.7,1031.8 1077.2,1026.4 1077.8,1040.1 1078.4,1044.6 1078.9,1051.1 1079.5,1059.9 1080.1,1057.7 1080.6,1070.6 1081.2,1067.2 1081.8,1077.9 1082.3,1083.9 1082.9,1094.6 1083.5,1089.8 1084.0,1091.4 1084.6,1103.7 1085.2,1104.6 1085.7,1116.9 1086.3,1115.6 1086.9,1120.9 1087.4,1133.0 1088.0,1135.0 1088.6,1143.0 1089.1,1140.8 1089.7,1154.9 1090.3,1153.1 1090.8,1162.0 1091.4,1161.4 1092.0,1164.4 1092.5,1172.6 1093.1,1178.2 1093.7,1186.6 1094.2,1187.4 1094.8,1192.7 1095.4,1196.8 1095.9,1207.7 1096.5,1200.8 1097.1,1210.4 1097.6,1210.2 1098.2,1214.9 1098.8,1216.0 1099.3,1223.8 1099.9,1220.4 1100.5,1223.2 1101.0,1229.0 1101.6,1229.3 1102.2,1236.9 1102.7,1240.1 1103.3,1238.3 1103.9,1244.9 1104.4,1243.6 1105.0,1247.6 1105.6,1250.1 1106.1,1257.2 1106.7,1254.6 1107.3,1254.5 1107.8,1256.6 1108.4,1264.1 1109.0,1258.9 1109.5,1263.9 1110.1,1266.1 1110.7,1262.9 1111.2,1269.7 1111.8,1275.2 1112.4,1275.1 1112.9,1274.2 1113.5,1279.9 1114.1,1281.2 1114.6,1286.6 1115.2,1281.5 1115.8,1284.0 1116.3,1286.7 1116.9,1287.8 1117.5,1289.9 1118.0,1290.9 1118.6,1290.9 1119.2,1290.2 1119.7,1294.1 1120.3,1293.4 1120.9,1295.6 1121.4,1298.1 1122.0,1301.8 1122.6,1303.9 1123.1,1300.7 1123.7,1305.0 1124.3,1307.3 1124.8,1306.5 1125.4,1304.0 1126.0,1303.9 1126.5,1311.8 1127.1,1313.2 1127.7,1312.8 1128.2,1310.8 1128.8,1317.6 1129.4,1318.1 1129.9,1316.2 1130.5,1316.8 1131.1,1313.9 1131.6,1321.0 1132.2,1316.6 1132.8,1322.8 1133.3,1323.8 1133.9,1323.3 1134.5,1327.5 1135.0,1324.2 1135.6,1327.1 1136.2,1328.4 1136.7,1328.1 1137.3,1327.4 1137.9,1331.9 1138.4,1330.9 1139.0,1330.3 1139.6,1331.2 1140.1,1332.6 1140.7,1338.0 1141.3,1334.0 1141.8,1334.0 1142.4,1332.9 1143.0,1333.2 1143.5,1332.4 1144.1,1337.7 1144.7,1338.0 1145.2,1336.3 1145.8,1336.0 1146.3,1339.1 1146.9,1339.4 1147.5,1338.2 1148.0,1342.4 1148.6,1342.7 1149.2,1342.9 1149.7,1345.2 1150.3,1342.8 1150.9,1347.7 1151.4,1343.2 1152.0,1347.1 1152.6,1347.9 1153.1,1346.6 1153.7,1348.4 1154.3,1345.4 1154.8,1345.5 1155.4,1348.7 1156.0,1348.1 1156.5,1351.3 1157.1,1350.6 1157.7,1352.3 1158.2,1352.1 1158.8,1352.3 1159.4,1352.5 1159.9,1351.9 1160.5,1352.2 1161.1,1357.8 1161.6,1350.3 1162.2,1354.0 1162.8,1356.9 1163.3,1356.1 1163.9,1358.5 1164.5,1357.1 1165.0,1353.7 1165.6,1356.0 1166.2,1354.2 1166.7,1359.5 1167.3,1360.8 1167.9,1357.2 1168.4,1359.6 1169.0,1358.0 1169.6,1356.2 1170.1,1358.5 1170.7,1356.5 1171.3,1358.9 1171.8,1360.8 1172.4,1362.2 1173.0,1363.6 1173.5,1360.6 1174.1,1362.0 1174.7,1362.7 1175.2,1363.2 1175.8,1356.5 1176.4,1361.0 1176.9,1364.5 1177.5,1360.8 1178.1,1363.8 1178.6,1365.3 1179.2,1359.9 1179.8,1363.6 1180.3,1364.7 1180.9,1364.5 1181.5,1361.6 1182.0,1365.6 1182.6,1363.9 1183.2,1366.9 1183.7,1366.4 1184.3,1364.6 1184.9,1366.2 1185.4,1364.7 1186.0,1364.8 1186.6,1363.3 1187.1,1366.1 1187.7,1368.4 1188.3,1367.2 1188.8,1367.1 1189.4,1366.1 1190.0,1366.5 1190.5,1369.2 1191.1,1364.9 1191.7,1372.3 1192.2,1368.2 1192.8,1372.9 1193.4,1371.1 1193.9,1368.1 1194.5,1370.6 1195.1,1369.8 1195.6,1370.4 1196.2,1371.3 1196.8,1368.9 1197.3,1368.9 1197.9,1369.6 1198.5,1367.9 1199.0,1370.3 1199.6,1371.6 1200.2,1371.9 1200.7,1372.0 1201.3,1371.1 1201.9,1373.7 1202.4,1368.3 1203.0,1371.9 1203.6,1372.4 1204.1,1375.1 1204.7,1374.9 1205.3,1375.5 1205.8,1374.3 1206.4,1376.5 1207.0,1373.0 1207.5,1375.5 1208.1,1371.5 1208.7,1379.4 1209.2,1379.6 1209.8,1375.6 1210.4,1375.5 1210.9,1373.5 1211.5,1375.0 1212.1,1378.6 1212.6,1378.4 1213.2,1376.2 1213.8,1378.5 1214.3,1378.6 1214.9,1381.2 1215.5,1382.0 1216.0,1380.6 1216.6,1381.6 1217.1,1381.7 1217.7,1378.1 1218.3,1382.8 1218.8,1382.7 1219.4,1384.6 1220.0,1380.0 1220.5,1385.3 1221.1,1382.9 1221.7,1385.0 1222.2,1387.1 1222.8,1382.2 1223.4,1382.8 1223.9,1387.5 1224.5,1383.7 1225.1,1384.2 1225.6,1387.5 1226.2,1386.2 1226.8,1388.3 1227.3,1387.6 1227.9,1387.2 1228.5,1389.3 1229.0,1391.9 1229.6,1387.7 1230.2,1390.9 1230.7,1390.5 1231.3,1388.8 1231.9,1389.6 1232.4,1387.2 1233.0,1388.0 1233.6,1389.9 1234.1,1389.5 1234.7,1392.2 1235.3,1387.5 1235.8,1389.6 1236.4,1389.1 1237.0,1390.2 1237.5,1392.9 1238.1,1388.6 1238.7,1392.7 1239.2,1390.1 1239.8,1390.8 1240.4,1393.4 1240.9,1391.2 1241.5,1393.2 1242.1,1392.3 1242.6,1391.9 1243.2,1391.7 1243.8,1389.3 1244.3,1391.3 1244.9,1393.2 1245.5,1393.4 1246.0,1390.4 1246.6,1395.2 1247.2,1394.5 1247.7,1391.2 1248.3,1391.8 1248.9,1394.8 1249.4,1390.7 1250.0,1392.8 1250.6,1394.2 1251.1,1394.2 1251.7,1394.4 1252.3,1395.4 1252.8,1393.3 1253.4,1394.0 1254.0,1398.8 1254.5,1392.5 1255.1,1394.4 1255.7,1395.6 1256.2,1394.3 1256.8,1397.9 1257.4,1395.8 1257.9,1397.2 1258.5,1391.1 1259.1,1398.2 1259.6,1398.3 1260.2,1394.9 1260.8,1398.8 1261.3,1397.0 1261.9,1398.3 1262.5,1400.0 1263.0,1397.0 1263.6,1395.0 1264.2,1397.0 1264.7,1394.7 1265.3,1395.7 1265.9,1395.9 1266.4,1396.1 1267.0,1399.7 1267.6,1399.2 1268.1,1396.1 1268.7,1399.9 1269.3,1394.9 1269.8,1396.9 1270.4,1397.9 1271.0,1400.5 1271.5,1399.8 1272.1,1399.4 1272.7,1401.1 1273.2,1400.1 1273.8,1401.4 1274.4,1397.6 1274.9,1396.0 1275.5,1398.5 1276.1,1400.9 1276.6,1400.0 1277.2,1401.3 1277.8,1401.0 1278.3,1400.8 1278.9,1401.5 1279.5,1398.8 1280.0,1402.2 1280.6,1398.5 1281.2,1400.3 1281.7,1398.0 1282.3,1401.6 1282.9,1398.0 1283.4,1403.5 1284.0,1398.6 1284.6,1401.6 1285.1,1401.0 1285.7,1399.8 1286.3,1403.8 1286.8,1400.8 1287.4,1404.4 1287.9,1400.0 1288.5,1400.5 1289.1,1398.4 1289.6,1403.2 1290.2,1403.9 1290.8,1402.8 1291.3,1402.2 1291.9,1400.9 1292.5,1406.9 1293.0,1404.1 1293.6,1399.5 1294.2,1402.4 1294.7,1398.3 1295.3,1406.0 1295.9,1406.9 1296.4,1406.0 1297.0,1403.4 1297.6,1402.6 1298.1,1401.2 1298.7,1404.8 1299.3,1402.6 1299.8,1403.4 1300.4,1403.0 1301.0,1403.7 1301.5,1406.0 1302.1,1407.5 1302.7,1404.9 1303.2,1404.7 1303.8,1402.8 1304.4,1402.6 1304.9,1403.0 1305.5,1406.6 1306.1,1405.5 1306.6,1406.8 1307.2,1405.9 1307.8,1404.4 1308.3,1403.0 1308.9,1404.5 1309.5,1402.6 1310.0,1408.8 1310.6,1405.7 1311.2,1404.5 1311.7,1408.8 1312.3,1404.5 1312.9,1406.2 1313.4,1404.9 1314.0,1405.9 1314.6,1404.5 1315.1,1406.1 1315.7,1407.8 1316.3,1402.9 1316.8,1401.2 1317.4,1407.7 1318.0,1405.5 1318.5,1406.8 1319.1,1404.7 1319.7,1408.0 1320.2,1408.5 1320.8,1403.1 1321.4,1406.4 1321.9,1404.1 1322.5,1402.3 1323.1,1404.7 1323.6,1406.2 1324.2,1402.7 1324.8,1402.9 1325.3,1407.4 1325.9,1405.3 1326.5,1405.9 1327.0,1403.1 1327.6,1404.0 1328.2,1405.4 1328.7,1405.5 1329.3,1405.4 1329.9,1408.1 1330.4,1405.5 1331.0,1402.4 1331.6,1403.6 1332.1,1405.0 1332.7,1407.5 1333.3,1403.9 1333.8,1404.4 1334.4,1405.0 1335.0,1403.8 1335.5,1403.6 1336.1,1404.6 1336.7,1406.8 1337.2,1405.9 1337.8,1404.4 1338.4,1405.7 1338.9,1402.6 1339.5,1406.7 1340.1,1406.2 1340.6,1405.3 1341.2,1401.8 1341.8,1408.4 1342.3,1399.4 1342.9,1402.8 1343.5,1402.9 1344.0,1405.8 1344.6,1401.8 1345.2,1404.9 1345.7,1404.2 1346.3,1403.9 1346.9,1405.9 1347.4,1406.9 1348.0,1405.0 1348.6,1403.7 1349.1,1400.0 1349.7,1406.8 1350.3,1403.5 1350.8,1400.6 1351.4,1404.2 1352.0,1406.5 1352.5,1403.6 1353.1,1401.6 1353.7,1407.9 1354.2,1404.8 1354.8,1404.3 1355.4,1405.4 1355.9,1399.6 1356.5,1403.3 1357.1,1403.1 1357.6,1407.5 1358.2,1402.3 1358.7,1402.2 1359.3,1400.6 1359.9,1401.6 1360.4,1402.7 1361.0,1403.5 1361.6,1402.5 1362.1,1406.5 1362.7,1403.6 1363.3,1403.8 1363.8,1405.1 1364.4,1403.6 1365.0,1401.4 1365.5,1399.4 1366.1,1402.8 1366.7,1400.6 1367.2,1404.4 1367.8,1400.4 1368.4,1397.6 1368.9,1401.7 1369.5,1403.5 1370.1,1401.0 1370.6,1401.6 1371.2,1401.3 1371.8,1404.1 1372.3,1401.3 1372.9,1400.4 1373.5,1399.1 1374.0,1397.0 1374.6,1402.4 1375.2,1401.6 1375.7,1397.4 1376.3,1400.0 1376.9,1399.2 1377.4,1397.5 1378.0,1397.3 1378.6,1398.9 1379.1,1394.8 1379.7,1395.7 1380.3,1396.1 1380.8,1395.5 1381.4,1394.4 1382.0,1394.3 1382.5,1394.0 1383.1,1390.3 1383.7,1391.3 1384.2,1389.2 1384.8,1392.4 1385.4,1386.2 1385.9,1388.0 1386.5,1389.6 1387.1,1387.7 1387.6,1388.0 1388.2,1388.3 1388.8,1390.7 1389.3,1389.0 1389.9,1392.2 1390.5,1393.4 1391.0,1392.1 1391.6,1396.6 1392.2,1396.4 1392.7,1399.0 1393.3,1400.9 1393.9,1400.7 1394.4,1398.6 1395.0,1402.1 1395.6,1399.3 1396.1,1401.5 1396.7,1406.7 1397.3,1404.3 1397.8,1407.7 1398.4,1405.1 1399.0,1406.0 1399.5,1404.4 1400.1,1408.6 1400.7,1406.8 1401.2,1408.6 1401.8,1408.4 1402.4,1408.8 1402.9,1408.6 1403.5,1408.1 1404.1,1408.3 1404.6,1407.2 1405.2,1404.8 1405.8,1409.6 1406.3,1412.6 1406.9,1410.9 1407.5,1413.3 1408.0,1410.0 1408.6,1407.5 1409.2,1407.6 1409.7,1410.8 1410.3,1410.1 1410.9,1409.3 1411.4,1411.0 1412.0,1408.2 1412.6,1410.8 1413.1,1409.5 1413.7,1410.4 1414.3,1412.3 1414.8,1410.0 1415.4,1412.9 1416.0,1412.9 1416.5,1409.3 1417.1,1414.9 1417.7,1408.7 1418.2,1410.9 1418.8,1412.5 1419.4,1407.3 1419.9,1413.4 1420.5,1413.7 1421.1,1411.6 1421.6,1412.5 1422.2,1412.5 1422.8,1412.0 1423.3,1414.4 1423.9,1412.0 1424.5,1412.8 1425.0,1413.7 1425.6,1414.7 1426.2,1415.3 1426.7,1410.9 1427.3,1410.1 1427.9,1413.7 1428.4,1414.0 1429.0,1412.4 1429.5,1415.0 1430.1,1415.8 1430.7,1415.5 1431.2,1418.0 1431.8,1413.4 1432.4,1415.5 1432.9,1419.1 1433.5,1417.1 1434.1,1414.2 1434.6,1416.8 1435.2,1418.7 1435.8,1420.6 1436.3,1418.4 1436.9,1419.5 1437.5,1415.8 1438.0,1417.6 1438.6,1420.4 1439.2,1417.0 1439.7,1418.8 1440.3,1416.0 1440.9,1422.1 1441.4,1419.5 1442.0,1421.0 1442.6,1417.7 1443.1,1418.3 1443.7,1423.9 1444.3,1420.4 1444.8,1420.3 1445.4,1422.3 1446.0,1422.6 1446.5,1418.4 1447.1,1420.3 1447.7,1422.1 1448.2,1422.2 1448.8,1422.9 1449.4,1421.7 1449.9,1422.0 1450.5,1423.0 1451.1,1421.5 1451.6,1421.4 1452.2,1421.9 1452.8,1423.0 1453.3,1422.8 1453.9,1422.3 1454.5,1422.8 1455.0,1423.2 1455.6,1423.9 1456.2,1424.0 1456.7,1421.3 1457.3,1425.2 1457.9,1420.9 1458.4,1424.6 1459.0,1422.5 1459.6,1424.8 1460.1,1425.7 1460.7,1420.8 1461.3,1425.1 1461.8,1424.6 1462.4,1423.4 1463.0,1425.0 1463.5,1423.6 1464.1,1424.7 1464.7,1422.8 1465.2,1426.0 1465.8,1425.8 1466.4,1426.1 1466.9,1423.9 1467.5,1428.2 1468.1,1428.5 1468.6,1425.2 1469.2,1424.7 1469.8,1424.8 1470.3,1426.8 1470.9,1427.5 1471.5,1424.6 1472.0,1422.6 1472.6,1426.9 1473.2,1426.1 1473.7,1426.6 1474.3,1427.3 1474.9,1424.7 1475.4,1426.8 1476.0,1426.3 1476.6,1427.5 1477.1,1429.0 1477.7,1427.1 1478.3,1425.8 1478.8,1429.4 1479.4,1428.6 1480.0,1427.2 1480.5,1424.6 1481.1,1426.3 1481.7,1428.1 1482.2,1428.8 1482.8,1427.1 1483.4,1428.8 1483.9,1427.1 1484.5,1427.6 1485.1,1429.3 1485.6,1428.0 1486.2,1428.8 1486.8,1430.1 1487.3,1430.6 1487.9,1427.8 1488.5,1428.4 1489.0,1426.7 1489.6,1426.8 1490.2,1429.6 1490.7,1428.3 1491.3,1426.1 1491.9,1430.1 1492.4,1427.9 1493.0,1428.8 1493.6,1430.1 1494.1,1430.1 1494.7,1429.4 1495.3,1426.3 1495.8,1430.5 1496.4,1428.7 1497.0,1427.3 1497.5,1426.1 1498.1,1432.0 1498.7,1430.1 1499.2,1430.0 1499.8,1430.9 1500.3,1429.8 1500.9,1427.6 1501.5,1431.2 1502.0,1431.7 1502.6,1431.0 1503.2,1432.7 1503.7,1433.3 1504.3,1428.9 1504.9,1429.5 1505.4,1431.8 1506.0,1430.6 1506.6,1430.7 1507.1,1431.9 1507.7,1431.7 1508.3,1429.8 1508.8,1430.7 1509.4,1429.4 1510.0,1430.3 1510.5,1428.8 1511.1,1427.4 1511.7,1429.9 1512.2,1429.8 1512.8,1432.2 1513.4,1433.4 1513.9,1430.9 1514.5,1431.7 1515.1,1429.9 1515.6,1429.5 1516.2,1430.6 1516.8,1430.6 1517.3,1431.6 1517.9,1431.3 1518.5,1433.9 1519.0,1430.9 1519.6,1428.6 1520.2,1431.5 1520.7,1430.3 1521.3,1431.8 1521.9,1433.3 1522.4,1430.5 1523.0,1431.5 1523.6,1432.5 1524.1,1430.1 1524.7,1432.1 1525.3,1432.7 1525.8,1433.2 1526.4,1433.7 1527.0,1432.9 1527.5,1432.6 1528.1,1429.8 1528.7,1427.8 1529.2,1430.6 1529.8,1434.6 1530.4,1432.5 1530.9,1428.7 1531.5,1431.7 1532.1,1433.1 1532.6,1429.5 1533.2,1433.5 1533.8,1430.8 1534.3,1434.4 1534.9,1432.8 1535.5,1437.9 1536.0,1430.7 1536.6,1433.4 1537.2,1430.6 1537.7,1434.9 1538.3,1433.3 1538.9,1434.7 1539.4,1433.4 1540.0,1431.4 1540.6,1432.3 1541.1,1431.4 1541.7,1431.8 1542.3,1433.8 1542.8,1435.4 1543.4,1435.1 1544.0,1434.6 1544.5,1432.9 1545.1,1434.7 1545.7,1432.5 1546.2,1434.3 1546.8,1435.4 1547.4,1433.8 1547.9,1433.4 1548.5,1433.5 1549.1,1435.3 1549.6,1433.8 1550.2,1432.1 1550.8,1433.8 1551.3,1432.8 1551.9,1437.0 1552.5,1434.6 1553.0,1432.3 1553.6,1435.2 1554.2,1435.9 1554.7,1435.4 1555.3,1434.3 1555.9,1435.2 1556.4,1435.4 1557.0,1436.7 1557.6,1435.7 1558.1,1438.8 1558.7,1434.9 1559.3,1437.7 1559.8,1435.4 1560.4,1432.6 1561.0,1433.6 1561.5,1432.6 1562.1,1432.8 1562.7,1437.5 1563.2,1434.6 1563.8,1436.7 1564.4,1434.3 1564.9,1435.8 1565.5,1434.2 1566.1,1437.3 1566.6,1435.6 1567.2,1435.3 1567.8,1435.8 1568.3,1439.6 1568.9,1436.9 1569.5,1437.6 1570.0,1434.3 1570.6,1435.3 1571.1,1436.9 1571.7,1433.5 1572.3,1438.6 1572.8,1437.0 1573.4,1436.6 1574.0,1436.3 1574.5,1436.3 1575.1,1436.0 1575.7,1439.0 1576.2,1438.0 1576.8,1438.9 1577.4,1436.5 1577.9,1435.7 1578.5,1439.3 1579.1,1435.2 1579.6,1436.3 1580.2,1438.4 1580.8,1439.1 1581.3,1435.3 1581.9,1437.0 1582.5,1437.6 1583.0,1437.4 1583.6,1436.3 1584.2,1438.8 1584.7,1437.0 1585.3,1437.5 1585.9,1434.4 1586.4,1437.9 1587.0,1435.0 1587.6,1439.3 1588.1,1439.1 1588.7,1437.6 1589.3,1438.7 1589.8,1438.7 1590.4,1438.4 1591.0,1439.3 1591.5,1438.6 1592.1,1438.2 1592.7,1437.8 1593.2,1441.7 1593.8,1439.5 1594.4,1439.3 1594.9,1440.5 1595.5,1438.9 1596.1,1439.0 1596.6,1440.7 1597.2,1441.4 1597.8,1440.9 1598.3,1437.6 1598.9,1440.1 1599.5,1440.1 1600.0,1440.9 1600.6,1438.9 1601.2,1438.8 1601.7,1440.3 1602.3,1439.2 1602.9,1439.0 1603.4,1440.6 1604.0,1442.2 1604.6,1441.1 1605.1,1442.7 1605.7,1439.5 1606.3,1442.2 1606.8,1441.1 1607.4,1439.8 1608.0,1440.6 1608.5,1439.9 1609.1,1441.0 1609.7,1440.2 1610.2,1443.3 1610.8,1440.9 1611.4,1439.2 1611.9,1441.2 1612.5,1442.1 1613.1,1441.0 1613.6,1442.8 1614.2,1440.1 1614.8,1440.2 1615.3,1444.0 1615.9,1441.5 1616.5,1442.3 1617.0,1442.3 1617.6,1442.4 1618.2,1441.6 1618.7,1441.2 1619.3,1443.2 1619.9,1440.7 1620.4,1441.7 1621.0,1442.5 1621.6,1440.9 1622.1,1439.1 1622.7,1442.2 1623.3,1443.2 1623.8,1441.9 1624.4,1438.9 1625.0,1442.5 1625.5,1444.5 1626.1,1439.1 1626.7,1437.3 1627.2,1441.1 1627.8,1441.6 1628.4,1442.7 1628.9,1442.8 1629.5,1441.6 1630.1,1442.3 1630.6,1442.0 1631.2,1441.7 1631.8,1441.4 1632.3,1441.3 1632.9,1442.6 1633.5,1442.1 1634.0,1440.8 1634.6,1443.2 1635.2,1440.4 1635.7,1441.1 1636.3,1441.7 1636.9,1438.6 1637.4,1440.9 1638.0,1442.8 1638.6,1442.7 1639.1,1439.7 1639.7,1440.2 1640.3,1439.9 1640.8,1441.1 1641.4,1441.4 1641.9,1439.1 1642.5,1442.0 1643.1,1441.6 1643.6,1441.4 1644.2,1440.5 1644.8,1441.2 1645.3,1438.8 1645.9,1441.9 1646.5,1441.8 1647.0,1441.3 1647.6,1439.7 1648.2,1443.4 1648.7,1443.2 1649.3,1438.6 1649.9,1442.1 1650.4,1441.7 1651.0,1437.5 1651.6,1442.2 1652.1,1442.4 1652.7,1442.5 1653.3,1441.7 1653.8,1440.4 1654.4,1440.6 1655.0,1442.2 1655.5,1443.2 1656.1,1440.6 1656.7,1440.9 1657.2,1442.4 1657.8,1438.0 1658.4,1442.0 1658.9,1440.9 1659.5,1437.9 1660.1,1442.4 1660.6,1439.9 1661.2,1442.4 1661.8,1443.3 1662.3,1439.3 1662.9,1439.4 1663.5,1441.1 1664.0,1438.5 1664.6,1442.2 1665.2,1441.4 1665.7,1442.6 1666.3,1438.3 1666.9,1441.4 1667.4,1441.7 1668.0,1438.3 1668.6,1442.4 1669.1,1438.9 1669.7,1441.2 1670.3,1438.9 1670.8,1442.1 1671.4,1443.5 1672.0,1441.0 1672.5,1440.9 1673.1,1442.8 1673.7,1440.1 1674.2,1440.9 1674.8,1442.0 1675.4,1441.4 1675.9,1443.1 1676.5,1442.5 1677.1,1443.6 1677.6,1440.6 1678.2,1442.3 1678.8,1439.2 1679.3,1441.8 1679.9,1443.1 1680.5,1443.9 1681.0,1438.3 1681.6,1439.9 1682.2,1441.2 1682.7,1438.7 1683.3,1440.8 1683.9,1440.7 1684.4,1439.1 1685.0,1438.9 1685.6,1438.2 1686.1,1440.1 1686.7,1441.5 1687.3,1440.0 1687.8,1443.7 1688.4,1437.1 1689.0,1438.5 1689.5,1440.4 1690.1,1437.6 1690.7,1439.9 1691.2,1440.6 1691.8,1439.6 1692.4,1439.0 1692.9,1440.9 1693.5,1440.1 1694.1,1440.6 1694.6,1440.4 1695.2,1438.6 1695.8,1438.0 1696.3,1439.2 1696.9,1440.1 1697.5,1439.7 1698.0,1441.5 1698.6,1440.5 1699.2,1441.7 1699.7,1440.5 1700.3,1439.3 1700.9,1441.9 1701.4,1441.4 1702.0,1439.5 1702.6,1440.3 1703.1,1445.3 1703.7,1435.9 1704.3,1443.0 1704.8,1441.5 1705.4,1441.4 1706.0,1441.2 1706.5,1441.0 1707.1,1445.5 1707.7,1441.3 1708.2,1441.6 1708.8,1443.5 1709.4,1442.9 1709.9,1442.2 1710.5,1442.1 1711.1,1440.6 1711.6,1444.4 1712.2,1441.2 1712.7,1439.2 1713.3,1444.6 1713.9,1444.3 1714.4,1443.7 1715.0,1442.5 1715.6,1445.2 1716.1,1441.7 1716.7,1440.1 1717.3,1443.8 1717.8,1444.8 1718.4,1444.6 1719.0,1446.9 1719.5,1445.1 1720.1,1443.5 1720.7,1443.6 1721.2,1445.3 1721.8,1443.9 1722.4,1443.9 1722.9,1441.5 1723.5,1443.7 1724.1,1442.3 1724.6,1444.7 1725.2,1444.6 1725.8,1445.6 1726.3,1447.3 1726.9,1444.3 1727.5,1446.9 1728.0,1443.0 1728.6,1445.0 1729.2,1446.3 1729.7,1447.9 1730.3,1443.3 1730.9,1444.7 1731.4,1445.4 1732.0,1445.1 1732.6,1443.9 1733.1,1443.0 1733.7,1443.7 1734.3,1445.5 1734.8,1443.7 1735.4,1448.6 1736.0,1447.9 1736.5,1443.2 1737.1,1445.5 1737.7,1448.4 1738.2,1448.8 1738.8,1448.4 1739.4,1444.7 1739.9,1446.6 1740.5,1449.3 1741.1,1447.8 1741.6,1447.2 1742.2,1448.9 1742.8,1449.9 1743.3,1448.9 1743.9,1449.4 1744.5,1450.9 1745.0,1448.8 1745.6,1448.5 1746.2,1451.4 1746.7,1448.7 1747.3,1451.6 1747.9,1450.0 1748.4,1452.7 1749.0,1449.9 1749.6,1453.6 1750.1,1452.6 1750.7,1452.0 1751.3,1451.4 1751.8,1452.7 1752.4,1451.8 1753.0,1451.6 1753.5,1455.2 1754.1,1454.7 1754.7,1455.8 1755.2,1452.2 1755.8,1451.5 1756.4,1452.3 1756.9,1455.8 1757.5,1456.2 1758.1,1452.5 1758.6,1456.9 1759.2,1454.9 1759.8,1454.0 1760.3,1455.8 1760.9,1456.9 1761.5,1456.0 1762.0,1456.2 1762.6,1455.4 1763.2,1454.7 1763.7,1456.4 1764.3,1454.8 1764.9,1458.2 1765.4,1456.3 1766.0,1459.6 1766.6,1455.6 1767.1,1460.1 1767.7,1456.9 1768.3,1457.1 1768.8,1459.0 1769.4,1460.1 1770.0,1458.9 1770.5,1458.6 1771.1,1462.2 1771.7,1460.2 1772.2,1458.0 1772.8,1459.5 1773.4,1462.5 1773.9,1460.7 1774.5,1461.7 1775.1,1463.6 1775.6,1460.0 1776.2,1461.6 1776.8,1460.4 1777.3,1461.5 1777.9,1462.5 1778.5,1460.1 1779.0,1462.4 1779.6,1462.6 1780.2,1464.1 1780.7,1462.0 1781.3,1461.3 1781.9,1463.9 1782.4,1462.0 1783.0,1464.1 1783.5,1464.8 1784.1,1463.0 1784.7,1464.3 1785.2,1463.2 1785.8,1461.0 1786.4,1463.1 1786.9,1462.4 1787.5,1465.6 1788.1,1464.3 1788.6,1465.8 1789.2,1466.1 1789.8,1467.9 1790.3,1466.1 1790.9,1466.2 1791.5,1467.7 1792.0,1469.4 1792.6,1467.3 1793.2,1468.1 1793.7,1467.5 1794.3,1467.0 1794.9,1466.1 1795.4,1468.3 1796.0,1468.2 1796.6,1468.4 1797.1,1471.7 1797.7,1468.7 1798.3,1469.8 1798.8,1469.1 1799.4,1471.4 1800.0,1469.6 1800.5,1472.7 1801.1,1470.0 1801.7,1471.6 1802.2,1472.1 1802.8,1470.6 1803.4,1472.2 1803.9,1471.4 1804.5,1470.4 1805.1,1470.7 1805.6,1472.3 1806.2,1474.4 1806.8,1471.5 1807.3,1473.1 1807.9,1471.4 1808.5,1473.0 1809.0,1471.1 1809.6,1472.0 1810.2,1473.2 1810.7,1472.4 1811.3,1473.2 1811.9,1475.0 1812.4,1473.7 1813.0,1473.0 1813.6,1472.5 1814.1,1473.6 1814.7,1475.9 1815.3,1474.5 1815.8,1474.5 1816.4,1475.8 1817.0,1476.1 1817.5,1476.4 1818.1,1474.8 1818.7,1474.1 1819.2,1473.3 1819.8,1474.7 1820.4,1475.2 1820.9,1476.8 1821.5,1476.4 1822.1,1475.3 1822.6,1477.3 1823.2,1474.6 1823.8,1475.0 1824.3,1474.9 1824.9,1475.2 1825.5,1476.4 1826.0,1475.7 1826.6,1475.9 1827.2,1478.7 1827.7,1475.2 1828.3,1475.9 1828.9,1477.0 1829.4,1478.0 1830.0,1478.1 1830.6,1477.2 1831.1,1477.2 1831.7,1477.4 1832.3,1478.8 1832.8,1476.8 1833.4,1475.0 1834.0,1478.4 1834.5,1476.7 1835.1,1478.2 1835.7,1480.2 1836.2,1478.6 1836.8,1480.9 1837.4,1476.6 1837.9,1479.1 1838.5,1479.3 1839.1,1480.0 1839.6,1478.1 1840.2,1479.3 1840.8,1479.3 1841.3,1479.4 1841.9,1477.6 1842.5,1477.2 1843.0,1480.2 1843.6,1480.0 1844.2,1479.7 1844.7,1480.6 1845.3,1481.2 1845.9,1478.4 1846.4,1481.0 1847.0,1482.0 1847.6,1481.5 1848.1,1481.0 1848.7,1481.2 1849.3,1478.6 1849.8,1479.9 1850.4,1481.9 1851.0,1482.5 1851.5,1481.3 1852.1,1480.2 1852.7,1480.7 1853.2,1482.1 1853.8,1483.6 1854.3,1482.2 1854.9,1480.6 1855.5,1482.1 1856.0,1482.0 1856.6,1484.5 1857.2,1482.3 1857.7,1481.7 1858.3,1481.7 1858.9,1480.3 1859.4,1480.6 1860.0,1481.4 1860.6,1481.1 1861.1,1482.4 1861.7,1482.4 1862.3,1483.6 1862.8,1484.4 1863.4,1482.7 1864.0,1482.4 1864.5,1480.4 1865.1,1483.3 1865.7,1483.7 1866.2,1482.0 1866.8,1482.6 1867.4,1482.3 1867.9,1484.6 1868.5,1484.1 1869.1,1485.0 1869.6,1482.0 1870.2,1486.9 1870.8,1482.6 1871.3,1482.5 1871.9,1484.1 1872.5,1483.3 1873.0,1486.3 1873.6,1483.6 1874.2,1483.4 1874.7,1485.5 1875.3,1485.9 1875.9,1483.4 1876.4,1484.0 1877.0,1484.2 1877.6,1484.5 1878.1,1486.9 1878.7,1486.4 1879.3,1486.3 1879.8,1486.6 1880.4,1485.1 1881.0,1486.3 1881.5,1485.2 1882.1,1484.4 1882.7,1487.5 1883.2,1483.3 1883.8,1485.6 1884.4,1484.9 1884.9,1483.7 1885.5,1485.3 1886.1,1485.9 1886.6,1486.5 1887.2,1485.0 1887.8,1487.0 1888.3,1486.5 1888.9,1487.2 1889.5,1483.9 1890.0,1485.7 1890.6,1485.6 1891.2,1487.1 1891.7,1485.6 1892.3,1485.9 1892.9,1485.2 1893.4,1485.2 1894.0,1485.5 1894.6,1487.9 1895.1,1485.5 1895.7,1483.9 1896.3,1487.2 1896.8,1486.4 1897.4,1487.6 1898.0,1487.6 1898.5,1486.7 1899.1,1486.6 1899.7,1486.5 1900.2,1487.1 1900.8,1486.3 1901.4,1487.5 1901.9,1488.9 1902.5,1486.5 1903.1,1486.6 1903.6,1486.6 1904.2,1488.2 1904.8,1488.3 1905.3,1489.2 1905.9,1488.4 1906.5,1487.7 1907.0,1488.1 1907.6,1486.1 1908.2,1488.3 1908.7,1487.9 1909.3,1490.2 1909.9,1489.4 1910.4,1486.8 1911.0,1487.1 1911.6,1488.9 1912.1,1485.4 1912.7,1486.8 1913.3,1488.4 1913.8,1488.8 1914.4,1488.2 1915.0,1489.4 1915.5,1487.7 1916.1,1488.2 1916.7,1487.9 1917.2,1486.8 1917.8,1488.2 1918.4,1487.6 1918.9,1488.3 1919.5,1485.1 1920.1,1488.4 1920.6,1487.7 1921.2,1487.6 1921.8,1488.4 1922.3,1487.9 1922.9,1489.6 1923.5,1490.0 1924.0,1489.6 1924.6,1489.7 1925.1,1489.0 1925.7,1488.6 1926.3,1487.1 1926.8,1488.2 1927.4,1490.2 1928.0,1489.7 1928.5,1488.2 1929.1,1488.9 1929.7,1490.1 1930.2,1488.7 1930.8,1490.8 1931.4,1488.0 1931.9,1489.9 1932.5,1489.9 1933.1,1489.3 1933.6,1489.5 1934.2,1489.8 1934.8,1486.5 1935.3,1489.8 1935.9,1490.6 1936.5,1489.8 1937.0,1490.7 1937.6,1488.0 1938.2,1489.4 1938.7,1489.9 1939.3,1489.2 1939.9,1491.0 1940.4,1490.2 1941.0,1489.0 1941.6,1490.7 1942.1,1490.7 1942.7,1489.3 1943.3,1490.6 1943.8,1490.3 1944.4,1490.3 1945.0,1488.5 1945.5,1491.5 1946.1,1490.8 1946.7,1490.1 1947.2,1490.6 1947.8,1490.6 1948.4,1489.9 1948.9,1489.6 1949.5,1490.5 1950.1,1489.7 1950.6,1489.9 1951.2,1489.1 1951.8,1490.2 1952.3,1491.8 1952.9,1490.9 1953.5,1490.8 1954.0,1490.4 1954.6,1490.3 1955.2,1489.1 1955.7,1492.8 1956.3,1490.1 1956.9,1489.2 1957.4,1491.5 1958.0,1491.4 1958.6,1490.5 1959.1,1489.5 1959.7,1489.6 1960.3,1493.1 1960.8,1491.2 1961.4,1490.6 1962.0,1493.6 1962.5,1490.8 1963.1,1490.4 1963.7,1492.2 1964.2,1492.0 1964.8,1493.5 1965.4,1489.9 1965.9,1492.1 1966.5,1489.8 1967.1,1492.4 1967.6,1491.1 1968.2,1491.4 1968.8,1491.1 1969.3,1493.0 1969.9,1493.9 1970.5,1492.0 1971.0,1491.8 1971.6,1491.6 1972.2,1492.8 1972.7,1491.0 1973.3,1496.4 1973.9,1492.0 1974.4,1494.3 1975.0,1492.6 1975.6,1490.8 1976.1,1490.6 1976.7,1492.0 1977.3,1491.7 1977.8,1492.3 1978.4,1491.3 1979.0,1495.4 1979.5,1495.2 1980.1,1490.6 1980.7,1493.3 1981.2,1494.2 1981.8,1492.4 1982.4,1492.6 1982.9,1494.1 1983.5,1493.5 1984.1,1491.5 1984.6,1494.4 1985.2,1492.4 1985.8,1495.2 1986.3,1492.0 1986.9,1490.5 1987.5,1493.3 1988.0,1494.6 1988.6,1493.8 1989.2,1493.4 1989.7,1492.2 1990.3,1494.4 1990.9,1491.2 1991.4,1494.3 1992.0,1492.0 1992.6,1492.7 1993.1,1491.9 1993.7,1492.4 1994.3,1495.2 1994.8,1492.2 1995.4,1493.8 1995.9,1492.7 1996.5,1494.8 1997.1,1492.1 1997.6,1493.7 1998.2,1494.8 1998.8,1496.4 1999.3,1492.4 1999.9,1492.8 2000.5,1493.8 2001.0,1495.6 2001.6,1492.7 2002.2,1494.9 2002.7,1493.2 2003.3,1492.8 2003.9,1492.2 2004.4,1494.2 2005.0,1495.2 2005.6,1494.0 2006.1,1491.7 2006.7,1493.5 2007.3,1495.3 2007.8,1495.3 2008.4,1494.6 2009.0,1496.0 2009.5,1492.9 2010.1,1493.0 2010.7,1497.2 2011.2,1495.2 2011.8,1494.3 2012.4,1494.0 2012.9,1491.6 2013.5,1495.6 2014.1,1492.2 2014.6,1492.4 2015.2,1494.6 2015.8,1496.5 2016.3,1494.3 2016.9,1495.2 2017.5,1494.3 2018.0,1495.3 2018.6,1493.0 2019.2,1497.4 2019.7,1493.8 2020.3,1495.6 2020.9,1492.7 2021.4,1497.1 2022.0,1495.6 2022.6,1497.4 2023.1,1494.4 2023.7,1496.4 2024.3,1495.0 2024.8,1495.2 2025.4,1496.8 2026.0,1494.3 2026.5,1496.2 2027.1,1497.7 2027.7,1497.5 2028.2,1496.7 2028.8,1495.9 2029.4,1494.4 2029.9,1497.3 2030.5,1494.8 2031.1,1497.1 2031.6,1495.3 2032.2,1495.8 2032.8,1495.8 2033.3,1496.5 2033.9,1495.3 2034.5,1496.1 2035.0,1495.3 2035.6,1496.6 2036.2,1496.3 2036.7,1496.5 2037.3,1495.1 2037.9,1496.5 2038.4,1496.2 2039.0,1496.8 2039.6,1496.2 2040.1,1495.1 2040.7,1497.1 2041.3,1495.5 2041.8,1496.6 2042.4,1494.0 2043.0,1497.0 2043.5,1497.2 2044.1,1495.4 2044.7,1497.2 2045.2,1496.1 2045.8,1498.1 2046.4,1497.3 2046.9,1495.2 2047.5,1496.4 2048.1,1494.7 2048.6,1496.4 2049.2,1497.4 2049.8,1497.7 2050.3,1496.7 2050.9,1496.6 2051.5,1497.1 2052.0,1496.2 2052.6,1497.3 2053.2,1498.3 2053.7,1497.3 2054.3,1498.1 2054.9,1496.2 2055.4,1496.6 2056.0,1497.6 2056.6,1499.6 2057.1,1498.5 2057.7,1499.3 2058.3,1497.4 2058.8,1498.8 2059.4,1495.6 2060.0,1498.1 2060.5,1495.2 2061.1,1499.0 2061.7,1498.2 2062.2,1499.0 2062.8,1498.2 2063.4,1497.2 2063.9,1497.0 2064.5,1498.1 2065.1,1499.6 2065.6,1498.7 2066.2,1497.4 2066.7,1497.4 2067.3,1497.3 2067.9,1497.9 2068.4,1498.1 2069.0,1497.7 2069.6,1498.2 2070.1,1496.5 2070.7,1500.1 2071.3,1498.6 2071.8,1500.1 2072.4,1498.8 2073.0,1498.3 2073.5,1498.6 2074.1,1498.8 2074.7,1497.8 2075.2,1498.2 2075.8,1500.8 2076.4,1499.7 2076.9,1498.1 2077.5,1499.3 2078.1,1497.8 2078.6,1500.4 2079.2,1497.7 2079.8,1499.9 2080.3,1498.9 2080.9,1499.0 2081.5,1498.0 2082.0,1498.7 2082.6,1498.1 2083.2,1498.0 2083.7,1499.5 2084.3,1501.8 2084.9,1498.7 2085.4,1500.2 2086.0,1499.1 2086.6,1498.3 2087.1,1500.6 2087.7,1499.8 2088.3,1500.4 2088.8,1499.3 2089.4,1499.3 2090.0,1498.3 2090.5,1498.9 2091.1,1501.1 2091.7,1496.7 2092.2,1499.6 2092.8,1500.9 2093.4,1500.1 2093.9,1500.2 2094.5,1499.0 2095.1,1500.5 2095.6,1500.5 2096.2,1499.2 2096.8,1501.1 2097.3,1498.7 2097.9,1496.5 2098.5,1499.3 2099.0,1499.2 2099.6,1498.4 2100.2,1498.8 2100.7,1498.7 2101.3,1497.3 2101.9,1500.7 2102.4,1499.3 2103.0,1502.3 2103.6,1499.3 2104.1,1499.8 2104.7,1497.7 2105.3,1500.5 2105.8,1498.2 2106.4,1500.0 2107.0,1500.4 2107.5,1500.2 2108.1,1498.5 2108.7,1498.5 2109.2,1500.2 2109.8,1500.7 2110.4,1501.0 2110.9,1499.4 2111.5,1499.3 2112.1,1501.4 2112.6,1498.8 2113.2,1500.3 2113.8,1499.1 2114.3,1497.9 2114.9,1498.2 2115.5,1500.0 2116.0,1499.7 2116.6,1500.0 2117.2,1499.1 2117.7,1498.9 2118.3,1499.8 2118.9,1499.3 2119.4,1497.7 2120.0,1499.0 2120.6,1501.4 2121.1,1498.7 2121.7,1500.2 2122.3,1499.5 2122.8,1500.4 2123.4,1498.6 2124.0,1498.2 2124.5,1500.1 2125.1,1498.8 2125.7,1499.6 2126.2,1499.3 2126.8,1500.7 2127.4,1499.9 2127.9,1499.8 2128.5,1498.6 2129.1,1498.0 2129.6,1498.8 2130.2,1500.6 2130.8,1500.5 2131.3,1500.4 2131.9,1499.3 2132.5,1498.7 2133.0,1501.1 2133.6,1500.0 2134.2,1500.4 2134.7,1498.8 2135.3,1499.1 2135.9,1500.6 2136.4,1500.7 2137.0,1498.8 2137.5,1500.2 2138.1,1498.7 2138.7,1501.3 2139.2,1500.7 2139.8,1502.5 2140.4,1501.6 2140.9,1499.3 2141.5,1500.3 2142.1,1499.5 2142.6,1500.2 2143.2,1500.9 2143.8,1500.1 2144.3,1500.2 2144.9,1498.7 2145.5,1500.8 2146.0,1500.2 2146.6,1500.9 2147.2,1501.4 2147.7,1500.3 2148.3,1501.0 2148.9,1499.6 2149.4,1501.3 2150.0,1500.3 2150.6,1499.7 2151.1,1500.1 2151.7,1498.8 2152.3,1499.7 2152.8,1500.0 2153.4,1500.5 2154.0,1500.4 2154.5,1499.8 2155.1,1500.3 2155.7,1498.2 2156.2,1500.6 2156.8,1501.2 2157.4,1501.4 2157.9,1501.8 2158.5,1500.4 2159.1,1500.5 2159.6,1500.1 2160.2,1500.2 2160.8,1500.8 2161.3,1502.2 2161.9,1498.9 2162.5,1500.2 2163.0,1501.1 2163.6,1499.7 2164.2,1501.3 2164.7,1499.4 2165.3,1500.5 2165.9,1499.1 2166.4,1501.2 2167.0,1500.1 2167.6,1501.6 2168.1,1500.7 2168.7,1500.0 2169.3,1500.6 2169.8,1501.2 2170.4,1501.0 2171.0,1500.8 2171.5,1500.7 2172.1,1501.1 2172.7,1502.0 2173.2,1500.5 2173.8,1501.7 2174.4,1499.8 2174.9,1502.2 2175.5,1501.6 2176.1,1500.9 2176.6,1500.9 2177.2,1499.5 2177.8,1501.4 2178.3,1501.1 2178.9,1499.9 2179.5,1500.9 2180.0,1502.0 2180.6,1501.6 2181.2,1501.8 2181.7,1500.9 2182.3,1502.4 2182.9,1501.5 2183.4,1502.5 2184.0,1504.0 2184.6,1499.5 2185.1,1501.1 2185.7,1501.7 2186.3,1500.9 2186.8,1502.8 2187.4,1501.4 2188.0,1503.5 2188.5,1502.6 2189.1,1502.3 2189.7,1501.8 2190.2,1502.8 2190.8,1502.4 2191.4,1503.5 2191.9,1502.4 2192.5,1503.1 2193.1,1502.4 2193.6,1502.4 2194.2,1500.4 2194.8,1502.1 2195.3,1502.5 2195.9,1500.9 2196.5,1500.7 2197.0,1501.9 2197.6,1502.5 2198.2,1500.5 2198.7,1502.6 2199.3,1503.3 2199.9,1502.1 2200.4,1502.6 2201.0,1502.9 2201.6,1501.7 2202.1,1503.1 2202.7,1503.0 2203.3,1501.2 2203.8,1503.1 2204.4,1503.5 2205.0,1501.5 2205.5,1503.5 2206.1,1502.4 2206.7,1501.3 2207.2,1501.6 2207.8,1501.8 2208.3,1503.3 2208.9,1502.3 2209.5,1502.4 2210.0,1501.5 2210.6,1502.9 2211.2,1501.6 2211.7,1502.2 2212.3,1503.6 2212.9,1503.7 2213.4,1502.5 2214.0,1503.0 2214.6,1503.7 2215.1,1503.1 2215.7,1504.4 2216.3,1504.6 2216.8,1503.1 2217.4,1502.0 2218.0,1503.1 2218.5,1504.7 2219.1,1504.5 2219.7,1504.6 2220.2,1504.6 2220.8,1502.9 2221.4,1503.8 2221.9,1504.6 2222.5,1503.8 2223.1,1504.5 2223.6,1502.5 2224.2,1502.3 2224.8,1505.8 2225.3,1504.5 2225.9,1504.4 2226.5,1505.3 2227.0,1506.1 2227.6,1506.8 2228.2,1501.3 2228.7,1504.3 2229.3,1505.0 2229.9,1501.9 2230.4,1502.1 2231.0,1503.8 2231.6,1506.0 2232.1,1505.0 2232.7,1506.3 2233.3,1504.4 2233.8,1505.3 2234.4,1505.8 2235.0,1504.7 2235.5,1504.2 2236.1,1504.4 2236.7,1500.4 2237.2,1504.7 2237.8,1502.4 2238.4,1503.5 2238.9,1505.1 2239.5,1504.8 2240.1,1502.4 2240.6,1505.0 2241.2,1505.3 2241.8,1504.7 2242.3,1505.3 2242.9,1505.2 2243.5,1502.8 2244.0,1504.4 2244.6,1504.4 2245.2,1503.4 2245.7,1504.7 2246.3,1503.9 2246.9,1504.7 2247.4,1503.9 2248.0,1505.9 2248.6,1507.2 2249.1,1504.3 2249.7,1505.0 2250.3,1505.0 2250.8,1505.4 2251.4,1504.8 2252.0,1502.7 2252.5,1505.4 2253.1,1504.9 2253.7,1504.0 2254.2,1504.9 2254.8,1504.6 2255.4,1505.4 2255.9,1504.9 2256.5,1504.9 2257.1,1505.4 2257.6,1505.5 2258.2,1505.3 2258.8,1506.5 2259.3,1505.6 2259.9,1504.6 2260.5,1507.2 2261.0,1505.6 2261.6,1507.1 2262.2,1504.4 2262.7,1506.1 2263.3,1507.3 2263.9,1506.9 2264.4,1505.7 2265.0,1505.0 2265.6,1505.0 2266.1,1505.5 2266.7,1504.7 2267.3,1504.9 2267.8,1504.7 2268.4,1504.7 2269.0,1506.0 2269.5,1504.0 2270.1,1506.0 2270.7,1506.6 2271.2,1504.9 2271.8,1505.0 2272.4,1506.0 2272.9,1505.9 2273.5,1507.0 2274.1,1504.0 2274.6,1506.0 2275.2,1507.5 2275.8,1506.2 2276.3,1508.0 2276.9,1508.4 2277.5,1505.6 2278.0,1507.8 2278.6,1506.8 2279.1,1506.3 2279.7,1506.0 2280.3,1506.1 2280.8,1505.4 2281.4,1506.2 2282.0,1507.4 2282.5,1507.7 2283.1,1506.1 2283.7,1507.0 2284.2,1507.0 2284.8,1504.1 2285.4,1507.3 2285.9,1505.3 2286.5,1505.4 2287.1,1507.5 2287.6,1508.4 2288.2,1505.6 2288.8,1505.8 2289.3,1505.8 2289.9,1506.2 2290.5,1506.4 2291.0,1506.0 2291.6,1505.2 2292.2,1508.7 2292.7,1506.4 2293.3,1506.1 2293.9,1507.9 2294.4,1506.6 2295.0,1508.1 2295.6,1507.8 2296.1,1508.0 2296.7,1506.7 2297.3,1507.7 2297.8,1505.5 2298.4,1505.7 2299.0,1507.2 2299.5,1506.9 2300.1,1508.6 2300.7,1507.0 2301.2,1505.5 2301.8,1507.4 2302.4,1507.0 2302.9,1507.5 2303.5,1506.2 2304.1,1506.6 2304.6,1507.5 2305.2,1508.2 2305.8,1507.9 2306.3,1508.2 2306.9,1506.0 2307.5,1507.3 2308.0,1507.8 2308.6,1508.6 2309.2,1507.9 2309.7,1507.4 2310.3,1507.5 2310.9,1507.6 2311.4,1506.2 2312.0,1507.7 2312.6,1508.5 2313.1,1508.5 2313.7,1505.9 2314.3,1507.8 2314.8,1506.3 2315.4,1508.9 2316.0,1508.4 2316.5,1508.6 2317.1,1507.2 2317.7,1506.0 2318.2,1506.9 2318.8,1507.6 2319.4,1506.5 2319.9,1507.0 2320.5,1509.8 2321.1,1506.7 2321.6,1508.6 2322.2,1506.2 2322.8,1508.3 2323.3,1508.9 2323.9,1508.6 2324.5,1509.3 2325.0,1510.0 2325.6,1506.8 2326.2,1508.5 2326.7,1508.7 2327.3,1508.6 2327.9,1509.8 2328.4,1508.5 2329.0,1509.5 2329.6,1509.5 2330.1,1508.5 2330.7,1508.9 2331.3,1507.6 2331.8,1508.7 2332.4,1508.6 2333.0,1508.2 2333.5,1507.9 2334.1,1509.4 2334.7,1508.3 2335.2,1510.7 2335.8,1509.8 2336.4,1509.2 2336.9,1507.9 2337.5,1509.4 2338.1,1508.7 2338.6,1508.6 2339.2,1507.4 2339.8,1509.1 2340.3,1508.8 2340.9,1508.1 2341.5,1507.9 2342.0,1508.3 2342.6,1507.3 2343.2,1508.1 2343.7,1510.0 2344.3,1508.0 2344.9,1511.0 2345.4,1507.3 2346.0,1509.8 2346.6,1509.8 2347.1,1509.9 2347.7,1509.3 2348.3,1507.1 2348.8,1509.9 2349.4,1509.8 2349.9,1508.8 2350.5,1506.4 2351.1,1509.9 2351.6,1507.9 2352.2,1508.5 2352.8,1510.1 2353.3,1510.2 2353.9,1509.2 2354.5,1508.3 2355.0,1510.6 2355.6,1510.0 2356.2,1508.7 2356.7,1507.9 2357.3,1509.2 2357.9,1507.6 2358.4,1510.7 2359.0,1509.4 2359.6,1508.6 2360.1,1509.4 2360.7,1507.3 2361.3,1508.9 2361.8,1508.3 2362.4,1507.4 2363.0,1508.3 2363.5,1509.3 2364.1,1507.6 2364.7,1508.8 2365.2,1507.6 2365.8,1509.2 2366.4,1507.3 2366.9,1509.7 2367.5,1509.7 2368.1,1509.9 2368.6,1510.9 2369.2,1509.2 2369.8,1509.2 2370.3,1509.7 2370.9,1508.6 2371.5,1507.2 2372.0,1507.9 2372.6,1507.9 2373.2,1509.3 2373.7,1508.5 2374.3,1508.7 2374.9,1509.7 2375.4,1509.3 2376.0,1511.1 2376.6,1509.1 2377.1,1508.2 2377.7,1510.4 2378.3,1508.7 2378.8,1509.1 2379.4,1510.2 2380.0,1509.3 2380.5,1509.9 2381.1,1508.6 2381.7,1508.9 2382.2,1509.8 2382.8,1508.7 2383.4,1508.8 2383.9,1509.2 2384.5,1510.8 2385.1,1510.7"/>
<polyline fill="none" stroke="#ff0000" stroke-width="6" stroke-linejoin="round" shape-rendering="crispEdges" stroke-linecap="butt" points="545.1,1388.0 545.7,1379.3 546.2,1385.1 546.8,1383.3 547.4,1383.6 547.9,1384.2 548.5,1380.8 549.1,1384.3 549.6,1383.2 550.2,1391.3 550.8,1385.5 551.3,1384.4 551.9,1384.7 552.5,1384.0 553.0,1383.4 553.6,1384.7 554.2,1386.5 554.7,1385.2 555.3,1387.6 555.9,1385.4 556.4,1385.9 557.0,1388.9 557.6,1387.1 558.1,1385.2 558.7,1385.9 559.3,1387.3 559.8,1390.1 560.4,1385.9 561.0,1386.1 561.5,1388.5 562.1,1385.0 562.7,1386.2 563.2,1388.5 563.8,1388.0 564.4,1387.2 564.9,1388.3 565.5,1381.8 566.1,1389.2 566.6,1385.5 567.2,1384.2 567.8,1388.0 568.3,1388.8 568.9,1386.7 569.5,1385.6 570.0,1387.8 570.6,1387.7 571.2,1390.5 571.7,1389.3 572.3,1388.3 572.9,1390.1 573.4,1387.7 574.0,1386.4 574.6,1389.3 575.1,1389.4 575.7,1388.0 576.3,1386.9 576.8,1388.9 577.4,1383.8 578.0,1390.0 578.5,1389.7 579.1,1385.7 579.7,1389.0 580.2,1387.1 580.8,1390.4 581.3,1385.2 581.9,1387.4 582.5,1390.5 583.0,1391.4 583.6,1385.2 584.2,1388.4 584.7,1390.0 585.3,1388.3 585.9,1392.5 586.4,1387.2 587.0,1390.2 587.6,1387.5 588.1,1392.2 588.7,1389.5 589.3,1388.8 589.8,1386.2 590.4,1392.6 591.0,1390.8 591.5,1390.8 592.1,1391.5 592.7,1390.0 593.2,1388.0 593.8,1387.7 594.4,1387.6 594.9,1391.7 595.5,1386.3 596.1,1387.8 596.6,1388.3 597.2,1389.2 597.8,1389.8 598.3,1386.3 598.9,1385.3 599.5,1388.5 600.0,1390.7 600.6,1389.7 601.2,1388.6 601.7,1387.5 602.3,1388.6 602.9,1387.4 603.4,1389.4 604.0,1386.2 604.6,1387.8 605.1,1387.3 605.7,1388.4 606.3,1387.7 606.8,1392.0 607.4,1389.9 608.0,1389.8 608.5,1382.9 609.1,1386.0 609.7,1385.4 610.2,1387.5 610.8,1382.0 611.4,1388.5 611.9,1388.2 612.5,1383.5 613.1,1384.0 613.6,1384.2 614.2,1385.7 614.8,1386.8 615.3,1389.4 615.9,1384.9 616.5,1386.7 617.0,1385.4 617.6,1388.3 618.2,1386.2 618.7,1387.3 619.3,1382.5 619.9,1384.0 620.4,1382.7 621.0,1387.0 621.6,1385.2 622.1,1383.2 622.7,1382.8 623.3,1384.4 623.8,1382.0 624.4,1381.4 625.0,1383.9 625.5,1387.6 626.1,1382.2 626.7,1381.4 627.2,1380.1 627.8,1379.6 628.4,1383.0 628.9,1383.4 629.5,1381.6 630.1,1382.1 630.6,1381.5 631.2,1381.3 631.8,1377.9 632.3,1379.8 632.9,1380.7 633.5,1378.8 634.0,1379.2 634.6,1378.4 635.2,1379.1 635.7,1381.2 636.3,1378.6 636.9,1378.9 637.4,1380.6 638.0,1380.1 638.6,1381.9 639.1,1374.4 639.7,1379.9 640.3,1377.1 640.8,1378.1 641.4,1379.3 642.0,1379.6 642.5,1379.4 643.1,1377.4 643.7,1380.1 644.2,1376.2 644.8,1376.3 645.4,1378.0 645.9,1375.1 646.5,1380.2 647.1,1377.8 647.6,1379.9 648.2,1375.3 648.8,1374.4 649.3,1375.3 649.9,1376.2 650.5,1373.4 651.0,1375.1 651.6,1374.1 652.1,1377.2 652.7,1372.5 653.3,1375.6 653.8,1372.1 654.4,1371.2 655.0,1371.5 655.5,1370.4 656.1,1372.8 656.7,1374.4 657.2,1372.4 657.8,1373.1 658.4,1374.9 658.9,1372.0 659.5,1371.6 660.1,1370.5 660.6,1367.6 661.2,1372.1 661.8,1366.9 662.3,1371.5 662.9,1370.0 663.5,1372.0 664.0,1369.5 664.6,1367.7 665.2,1369.9 665.7,1367.8 666.3,1368.4 666.9,1368.6 667.4,1368.1 668.0,1367.8 668.6,1366.3 669.1,1367.4 669.7,1363.2 670.3,1367.0 670.8,1364.7 671.4,1369.2 672.0,1369.3 672.5,1362.6 673.1,1366.7 673.7,1365.9 674.2,1363.9 674.8,1366.9 675.4,1364.7 675.9,1361.8 676.5,1364.7 677.1,1364.7 677.6,1365.1 678.2,1362.2 678.8,1365.7 679.3,1365.8 679.9,1361.8 680.5,1362.6 681.0,1363.6 681.6,1362.4 682.2,1366.9 682.7,1363.6 683.3,1360.9 683.9,1361.2 684.4,1362.5 685.0,1367.1 685.6,1361.8 686.1,1362.3 686.7,1362.9 687.3,1361.5 687.8,1366.1 688.4,1360.1 689.0,1362.5 689.5,1361.2 690.1,1361.9 690.7,1358.0 691.2,1363.8 691.8,1359.8 692.4,1359.9 692.9,1357.7 693.5,1357.9 694.1,1360.3 694.6,1361.0 695.2,1360.3 695.8,1361.0 696.3,1359.8 696.9,1358.1 697.5,1359.6 698.0,1358.9 698.6,1357.2 699.2,1358.7 699.7,1359.6 700.3,1357.3 700.9,1355.8 701.4,1357.8 702.0,1360.1 702.6,1355.5 703.1,1355.5 703.7,1355.2 704.3,1357.8 704.8,1351.2 705.4,1355.6 706.0,1357.1 706.5,1352.7 707.1,1357.3 707.7,1355.1 708.2,1352.6 708.8,1353.9 709.4,1350.1 709.9,1351.9 710.5,1356.6 711.1,1350.7 711.6,1356.2 712.2,1351.9 712.8,1353.9 713.3,1351.6 713.9,1346.6 714.5,1349.8 715.0,1351.1 715.6,1348.1 716.2,1347.4 716.7,1350.7 717.3,1348.2 717.9,1345.7 718.4,1347.6 719.0,1350.5 719.6,1347.4 720.1,1350.0 720.7,1350.9 721.3,1347.4 721.8,1344.6 722.4,1343.9 722.9,1346.2 723.5,1347.8 724.1,1346.1 724.6,1346.3 725.2,1343.7 725.8,1344.8 726.3,1342.6 726.9,1342.4 727.5,1339.7 728.0,1338.5 728.6,1340.3 729.2,1338.3 729.7,1338.0 730.3,1340.9 730.9,1338.5 731.4,1344.4 732.0,1339.5 732.6,1335.4 733.1,1337.8 733.7,1336.3 734.3,1333.4 734.8,1336.6 735.4,1331.9 736.0,1326.3 736.5,1334.1 737.1,1330.4 737.7,1334.5 738.2,1329.2 738.8,1327.4 739.4,1332.9 739.9,1326.5 740.5,1328.7 741.1,1330.9 741.6,1327.3 742.2,1326.2 742.8,1325.9 743.3,1326.9 743.9,1322.5 744.5,1325.0 745.0,1324.1 745.6,1327.3 746.2,1320.4 746.7,1318.2 747.3,1321.0 747.9,1317.4 748.4,1317.9 749.0,1316.5 749.6,1317.7 750.1,1312.3 750.7,1312.4 751.3,1305.5 751.8,1308.0 752.4,1312.3 753.0,1305.8 753.5,1304.5 754.1,1301.9 754.7,1304.8 755.2,1302.5 755.8,1298.0 756.4,1301.1 756.9,1298.8 757.5,1298.7 758.1,1294.2 758.6,1298.6 759.2,1294.2 759.8,1291.7 760.3,1289.4 760.9,1288.8 761.5,1290.2 762.0,1286.1 762.6,1288.1 763.2,1285.5 763.7,1286.0 764.3,1283.4 764.9,1279.8 765.4,1273.9 766.0,1277.8 766.6,1277.5 767.1,1274.4 767.7,1273.8 768.3,1269.7 768.8,1268.3 769.4,1265.2 770.0,1269.2 770.5,1264.5 771.1,1261.1 771.7,1257.2 772.2,1258.4 772.8,1260.6 773.4,1256.3 773.9,1251.4 774.5,1255.1 775.1,1253.2 775.6,1250.1 776.2,1247.7 776.8,1246.7 777.3,1243.1 777.9,1241.6 778.5,1235.5 779.0,1239.4 779.6,1233.9 780.2,1236.6 780.7,1223.6 781.3,1228.7 781.9,1227.2 782.4,1221.4 783.0,1221.1 783.6,1219.5 784.1,1216.6 784.7,1211.1 785.3,1209.7 785.8,1210.4 786.4,1208.6 787.0,1202.9 787.5,1200.5 788.1,1198.4 788.7,1198.4 789.2,1190.2 789.8,1187.0 790.4,1188.7 790.9,1182.9 791.5,1182.0 792.1,1181.5 792.6,1180.3 793.2,1173.4 793.7,1176.3 794.3,1166.4 794.9,1170.5 795.4,1161.7 796.0,1160.0 796.6,1162.9 797.1,1157.2 797.7,1153.4 798.3,1151.8 798.8,1152.0 799.4,1148.0 800.0,1145.7 800.5,1146.6 801.1,1139.1 801.7,1137.7 802.2,1135.4 802.8,1138.5 803.4,1135.9 803.9,1134.7 804.5,1128.7 805.1,1126.3 805.6,1127.3 806.2,1121.4 806.8,1123.1 807.3,1120.7 807.9,1114.3 808.5,1114.1 809.0,1112.0 809.6,1115.6 810.2,1116.2 810.7,1105.7 811.3,1103.8 811.9,1094.2 812.4,1099.5 813.0,1096.5 813.6,1091.0 814.1,1095.0 814.7,1085.9 815.3,1088.6 815.8,1088.2 816.4,1082.4 817.0,1087.7 817.5,1087.1 818.1,1078.0 818.7,1076.6 819.2,1081.8 819.8,1078.4 820.4,1073.3 820.9,1074.9 821.5,1074.1 822.1,1072.7 822.6,1074.5 823.2,1071.7 823.8,1074.9 824.3,1072.3 824.9,1068.8 825.5,1068.9 826.0,1068.6 826.6,1065.5 827.2,1058.1 827.7,1064.0 828.3,1060.5 828.9,1064.6 829.4,1058.8 830.0,1059.3 830.6,1057.9 831.1,1061.5 831.7,1055.8 832.3,1053.6 832.8,1054.7 833.4,1051.6 834.0,1052.8 834.5,1051.6 835.1,1051.9 835.7,1056.7 836.2,1048.4 836.8,1049.2 837.4,1047.9 837.9,1050.2 838.5,1043.5 839.1,1044.6 839.6,1046.3 840.2,1047.7 840.8,1045.3 841.3,1043.3 841.9,1041.6 842.5,1045.8 843.0,1048.4 843.6,1044.2 844.2,1043.4 844.7,1043.7 845.3,1038.7 845.9,1040.3 846.4,1040.0 847.0,1041.3 847.6,1039.7 848.1,1035.3 848.7,1042.6 849.3,1043.9 849.8,1036.9 850.4,1038.6 851.0,1037.6 851.5,1038.8 852.1,1030.7 852.7,1040.5 853.2,1033.0 853.8,1038.2 854.4,1033.6 854.9,1031.5 855.5,1031.7 856.1,1034.5 856.6,1027.9 857.2,1028.8 857.8,1027.7 858.3,1022.6 858.9,1031.8 859.5,1028.4 860.0,1025.4 860.6,1028.5 861.2,1020.4 861.7,1022.6 862.3,1027.9 862.9,1024.8 863.4,1013.3 864.0,1009.0 864.5,1016.3 865.1,1022.9 865.7,1017.2 866.2,1017.5 866.8,1019.9 867.4,1014.3 867.9,1017.6 868.5,1019.2 869.1,1017.8 869.6,1017.2 870.2,1013.6 870.8,1017.2 871.3,1013.8 871.9,1019.7 872.5,1024.0 873.0,1012.8 873.6,1008.1 874.2,1014.3 874.7,1017.4 875.3,1020.1 875.9,1020.7 876.4,1014.9 877.0,1015.4 877.6,1023.0 878.1,1015.6 878.7,1023.7 879.3,1019.9 879.8,1023.9 880.4,1024.5 881.0,1025.6 881.5,1026.7 882.1,1021.6 882.7,1027.2 883.2,1027.4 883.8,1029.7 884.4,1034.1 884.9,1030.4 885.5,1030.2 886.1,1031.4 886.6,1034.1 887.2,1038.9 887.8,1035.0 888.3,1042.9 888.9,1041.4 889.5,1041.0 890.0,1038.8 890.6,1045.5 891.2,1048.5 891.7,1041.9 892.3,1053.3 892.9,1056.6 893.4,1054.0 894.0,1056.4 894.6,1064.7 895.1,1062.8 895.7,1057.9 896.3,1062.9 896.8,1064.6 897.4,1066.7 898.0,1061.7 898.5,1073.9 899.1,1071.6 899.7,1076.4 900.2,1077.8 900.8,1083.3 901.4,1081.9 901.9,1082.6 902.5,1089.1 903.1,1094.1 903.6,1090.9 904.2,1098.5 904.8,1097.3 905.3,1097.1 905.9,1105.7 906.5,1100.5 907.0,1108.3 907.6,1105.5 908.2,1110.4 908.7,1107.0 909.3,1110.0 909.9,1117.7 910.4,1116.7 911.0,1118.0 911.6,1118.3 912.1,1122.7 912.7,1118.8 913.3,1121.3 913.8,1126.0 914.4,1125.7 915.0,1127.9 915.5,1131.6 916.1,1133.2 916.7,1134.8 917.2,1142.3 917.8,1142.1 918.4,1144.5 918.9,1142.4 919.5,1142.6 920.1,1141.4 920.6,1146.2 921.2,1142.5 921.8,1148.3 922.3,1153.6 922.9,1157.5 923.5,1156.8 924.0,1152.7 924.6,1157.9 925.2,1155.3 925.7,1161.2 926.3,1159.6 926.9,1163.5 927.4,1169.6 928.0,1165.8 928.6,1170.9 929.1,1165.7 929.7,1165.1 930.3,1170.9 930.8,1172.9 931.4,1167.3 932.0,1170.1 932.5,1166.8 933.1,1171.4 933.7,1175.5 934.2,1173.7 934.8,1173.2 935.3,1171.7 935.9,1177.5 936.5,1179.3 937.0,1179.2 937.6,1178.6 938.2,1174.4 938.7,1183.0 939.3,1177.7 939.9,1177.3 940.4,1179.7 941.0,1171.1 941.6,1176.8 942.1,1176.3 942.7,1177.4 943.3,1179.8 943.8,1176.8 944.4,1169.7 945.0,1173.5 945.5,1174.6 946.1,1173.9 946.7,1169.3 947.2,1167.7 947.8,1173.5 948.4,1172.3 948.9,1170.5 949.5,1164.8 950.1,1174.0 950.6,1159.5 951.2,1165.9 951.8,1171.9 952.3,1164.3 952.9,1164.3 953.5,1159.0 954.0,1165.2 954.6,1156.2 955.2,1159.5 955.7,1157.8 956.3,1153.1 956.9,1157.5 957.4,1149.4 958.0,1150.3 958.6,1150.8 959.1,1148.2 959.7,1149.4 960.3,1149.2 960.8,1144.0 961.4,1141.6 962.0,1140.0 962.5,1138.8 963.1,1140.5 963.7,1135.6 964.2,1135.6 964.8,1132.1 965.4,1127.8 965.9,1130.7 966.5,1122.6 967.1,1123.4 967.6,1125.5 968.2,1115.0 968.8,1115.6 969.3,1108.3 969.9,1108.9 970.5,1103.1 971.0,1103.8 971.6,1100.3 972.2,1099.4 972.7,1100.9 973.3,1093.7 973.9,1091.8 974.4,1086.4 975.0,1082.7 975.6,1077.7 976.1,1071.5 976.7,1074.5 977.3,1076.5 977.8,1069.6 978.4,1063.2 979.0,1067.1 979.5,1056.9 980.1,1052.9 980.7,1047.4 981.2,1044.5 981.8,1043.2 982.4,1046.9 982.9,1035.7 983.5,1028.9 984.1,1026.4 984.6,1023.6 985.2,1014.4 985.8,1016.4 986.3,1014.1 986.9,1008.4 987.5,1004.9 988.0,993.9 988.6,988.0 989.2,993.8 989.7,988.6 990.3,974.6 990.9,976.1 991.4,970.6 992.0,967.7 992.6,961.7 993.1,954.4 993.7,952.2 994.3,947.3 994.8,941.9 995.4,930.6 996.0,921.7 996.5,925.1 997.1,917.2 997.7,919.4 998.2,916.3 998.8,909.8 999.4,902.6 999.9,899.5 1000.5,898.7 1001.1,886.4 1001.6,887.3 1002.2,880.8 1002.8,872.7 1003.3,870.4 1003.9,855.0 1004.5,854.6 1005.0,840.8 1005.6,835.4 1006.1,828.6 1006.7,829.1 1007.3,818.1 1007.8,816.7 1008.4,806.4 1009.0,809.5 1009.5,806.6 1010.1,793.7 1010.7,792.7 1011.2,781.3 1011.8,780.7 1012.4,764.9 1012.9,750.7 1013.5,756.1 1014.1,742.2 1014.6,731.3 1015.2,726.0 1015.8,715.0 1016.3,714.3 1016.9,703.5 1017.5,707.4 1018.0,696.7 1018.6,679.2 1019.2,672.0 1019.7,667.8 1020.3,653.2 1020.9,652.4 1021.4,643.8 1022.0,631.8 1022.6,624.2 1023.1,620.7 1023.7,617.2 1024.3,610.1 1024.8,596.4 1025.4,593.1 1026.0,579.0 1026.5,577.4 1027.1,564.2 1027.7,564.9 1028.2,548.6 1028.8,542.4 1029.4,539.3 1029.9,534.4 1030.5,517.5 1031.1,514.3 1031.6,510.2 1032.2,503.6 1032.8,491.5 1033.3,489.0 1033.9,480.4 1034.5,481.8 1035.0,471.4 1035.6,456.2 1036.2,446.4 1036.7,452.5 1037.3,453.0 1037.9,443.4 1038.4,442.3 1039.0,430.7 1039.6,421.3 1040.1,426.2 1040.7,417.6 1041.3,415.7 1041.8,401.1 1042.4,405.0 1043.0,397.8 1043.5,402.9 1044.1,394.3 1044.7,392.9 1045.2,391.9 1045.8,400.4 1046.4,393.6 1046.9,389.0 1047.5,387.2 1048.1,386.8 1048.6,399.4 1049.2,383.2 1049.8,388.4 1050.3,396.5 1050.9,399.9 1051.5,394.0 1052.0,399.5 1052.6,400.4 1053.2,402.9 1053.7,400.0 1054.3,411.0 1054.9,409.1 1055.4,423.5 1056.0,423.3 1056.6,441.9 1057.1,438.2 1057.7,443.4 1058.3,459.3 1058.8,459.5 1059.4,472.1 1060.0,471.2 1060.5,490.4 1061.1,489.2 1061.7,490.4 1062.2,503.7 1062.8,514.6 1063.4,514.7 1063.9,529.1 1064.5,544.9 1065.1,548.2 1065.6,553.2 1066.2,559.8 1066.8,574.3 1067.3,574.3 1067.9,577.2 1068.5,598.2 1069.0,606.5 1069.6,629.5 1070.2,632.5 1070.7,637.6 1071.3,646.9 1071.9,664.3 1072.4,668.6 1073.0,679.7 1073.6,691.9 1074.1,702.6 1074.7,712.4 1075.3,722.1 1075.8,736.7 1076.4,747.9 1076.9,743.3 1077.5,770.3 1078.1,769.6 1078.6,783.6 1079.2,784.9 1079.8,798.6 1080.3,807.5 1080.9,816.4 1081.5,828.5 1082.0,836.6 1082.6,838.7 1083.2,850.4 1083.7,862.2 1084.3,871.4 1084.9,878.8 1085.4,892.0 1086.0,904.3 1086.6,909.8 1087.1,917.1 1087.7,934.9 1088.3,934.5 1088.8,943.1 1089.4,947.2 1090.0,962.3 1090.5,971.7 1091.1,972.5 1091.7,983.1 1092.2,986.6 1092.8,1003.4 1093.4,1008.7 1093.9,1011.4 1094.5,1027.3 1095.1,1032.8 1095.6,1040.6 1096.2,1047.0 1096.8,1049.4 1097.3,1055.3 1097.9,1064.2 1098.5,1066.8 1099.0,1068.4 1099.6,1082.2 1100.2,1079.0 1100.7,1081.6 1101.3,1084.5 1101.9,1092.0 1102.4,1095.6 1103.0,1096.0 1103.6,1100.7 1104.1,1096.1 1104.7,1102.8 1105.3,1106.2 1105.8,1111.8 1106.4,1117.7 1107.0,1114.6 1107.5,1135.1 1108.1,1127.6 1108.7,1135.7 1109.2,1141.3 1109.8,1145.3 1110.4,1147.3 1110.9,1141.8 1111.5,1150.9 1112.1,1159.9 1112.6,1158.6 1113.2,1161.7 1113.8,1161.4 1114.3,1175.0 1114.9,1176.2 1115.5,1175.4 1116.0,1180.7 1116.6,1183.9 1117.2,1184.1 1117.7,1189.5 1118.3,1194.0 1118.9,1197.8 1119.4,1202.6 1120.0,1202.0 1120.6,1203.3 1121.1,1208.4 1121.7,1208.1 1122.3,1208.9 1122.8,1217.8 1123.4,1215.9 1124.0,1219.5 1124.5,1223.1 1125.1,1220.5 1125.7,1227.2 1126.2,1228.7 1126.8,1229.2 1127.4,1232.4 1127.9,1231.2 1128.5,1229.1 1129.1,1235.9 1129.6,1236.0 1130.2,1242.3 1130.8,1242.3 1131.3,1241.8 1131.9,1244.8 1132.5,1249.6 1133.0,1250.5 1133.6,1249.9 1134.2,1251.4 1134.7,1250.9 1135.3,1252.6 1135.9,1255.7 1136.4,1255.1 1137.0,1257.4 1137.6,1255.1 1138.1,1254.9 1138.7,1256.0 1139.3,1260.4 1139.8,1266.1 1140.4,1267.0 1141.0,1262.7 1141.5,1262.5 1142.1,1269.6 1142.7,1269.9 1143.2,1266.6 1143.8,1273.7 1144.4,1272.7 1144.9,1276.7 1145.5,1275.4 1146.1,1277.9 1146.6,1277.6 1147.2,1275.6 1147.7,1278.4 1148.3,1278.4 1148.9,1283.1 1149.4,1279.8 1150.0,1279.5 1150.6,1285.9 1151.1,1288.0 1151.7,1289.7 1152.3,1289.9 1152.8,1284.6 1153.4,1287.6 1154.0,1288.9 1154.5,1291.1 1155.1,1287.0 1155.7,1293.1 1156.2,1294.7 1156.8,1292.7 1157.4,1296.1 1157.9,1299.6 1158.5,1297.7 1159.1,1300.9 1159.6,1301.6 1160.2,1301.0 1160.8,1301.6 1161.3,1300.6 1161.9,1305.1 1162.5,1301.7 1163.0,1301.9 1163.6,1305.8 1164.2,1303.1 1164.7,1306.4 1165.3,1308.5 1165.9,1306.9 1166.4,1307.5 1167.0,1310.0 1167.6,1310.2 1168.1,1305.5 1168.7,1306.5 1169.3,1313.2 1169.8,1311.6 1170.4,1306.4 1171.0,1308.7 1171.5,1312.3 1172.1,1310.6 1172.7,1314.4 1173.2,1314.0 1173.8,1315.5 1174.4,1312.2 1174.9,1316.8 1175.5,1320.3 1176.1,1314.6 1176.6,1319.9 1177.2,1319.6 1177.8,1319.3 1178.3,1318.2 1178.9,1316.3 1179.5,1317.4 1180.0,1321.6 1180.6,1322.5 1181.2,1323.6 1181.7,1323.5 1182.3,1323.8 1182.9,1321.3 1183.4,1320.0 1184.0,1323.6 1184.6,1324.7 1185.1,1324.2 1185.7,1321.1 1186.3,1323.8 1186.8,1322.1 1187.4,1326.1 1188.0,1323.9 1188.5,1326.3 1189.1,1327.9 1189.7,1327.9 1190.2,1331.0 1190.8,1326.0 1191.4,1324.0 1191.9,1331.4 1192.5,1332.8 1193.1,1333.3 1193.6,1331.2 1194.2,1332.2 1194.8,1331.7 1195.3,1329.1 1195.9,1331.1 1196.5,1333.9 1197.0,1332.0 1197.6,1337.8 1198.2,1330.7 1198.7,1333.6 1199.3,1337.4 1199.9,1334.1 1200.4,1333.4 1201.0,1333.3 1201.6,1335.1 1202.1,1340.4 1202.7,1338.5 1203.3,1339.1 1203.8,1337.3 1204.4,1340.7 1205.0,1339.5 1205.5,1337.7 1206.1,1339.2 1206.7,1341.0 1207.2,1343.5 1207.8,1341.3 1208.4,1342.9 1208.9,1346.6 1209.5,1340.9 1210.1,1340.4 1210.6,1345.5 1211.2,1344.8 1211.8,1344.0 1212.3,1345.2 1212.9,1344.3 1213.5,1346.5 1214.0,1345.1 1214.6,1347.9 1215.2,1344.1 1215.7,1345.2 1216.3,1347.5 1216.9,1346.6 1217.4,1349.5 1218.0,1348.3 1218.5,1347.6 1219.1,1349.5 1219.7,1348.3 1220.2,1346.5 1220.8,1347.7 1221.4,1348.8 1221.9,1349.8 1222.5,1351.3 1223.1,1353.4 1223.6,1352.9 1224.2,1355.8 1224.8,1355.1 1225.3,1352.4 1225.9,1356.6 1226.5,1355.9 1227.0,1352.8 1227.6,1354.7 1228.2,1356.7 1228.7,1355.2 1229.3,1357.1 1229.9,1356.1 1230.4,1357.1 1231.0,1355.3 1231.6,1357.0 1232.1,1355.8 1232.7,1358.3 1233.3,1353.7 1233.8,1358.2 1234.4,1360.4 1235.0,1359.3 1235.5,1358.3 1236.1,1359.8 1236.7,1357.2 1237.2,1357.6 1237.8,1358.8 1238.4,1359.6 1238.9,1362.2 1239.5,1358.6 1240.1,1362.8 1240.6,1357.8 1241.2,1359.7 1241.8,1361.6 1242.3,1364.3 1242.9,1361.0 1243.5,1358.2 1244.0,1363.7 1244.6,1363.1 1245.2,1361.2 1245.7,1361.6 1246.3,1362.6 1246.9,1364.5 1247.4,1366.0 1248.0,1361.9 1248.6,1369.8 1249.1,1365.4 1249.7,1365.1 1250.3,1367.5 1250.8,1366.6 1251.4,1371.5 1252.0,1369.3 1252.5,1366.6 1253.1,1366.9 1253.7,1367.0 1254.2,1367.6 1254.8,1370.0 1255.4,1367.6 1255.9,1372.5 1256.5,1369.4 1257.1,1369.6 1257.6,1372.1 1258.2,1366.5 1258.8,1368.9 1259.3,1372.3 1259.9,1371.5 1260.5,1371.7 1261.0,1372.8 1261.6,1371.2 1262.2,1372.3 1262.7,1370.2 1263.3,1369.5 1263.9,1376.0 1264.4,1372.0 1265.0,1372.7 1265.6,1377.2 1266.1,1376.8 1266.7,1373.9 1267.3,1374.2 1267.8,1375.3 1268.4,1373.9 1269.0,1377.1 1269.5,1376.5 1270.1,1376.8 1270.7,1378.2 1271.2,1378.4 1271.8,1380.8 1272.4,1380.4 1272.9,1374.3 1273.5,1379.6 1274.1,1375.9 1274.6,1375.5 1275.2,1379.8 1275.8,1377.3 1276.3,1378.2 1276.9,1381.1 1277.5,1377.9 1278.0,1377.6 1278.6,1380.2 1279.2,1382.1 1279.7,1380.9 1280.3,1377.0 1280.9,1378.9 1281.4,1380.1 1282.0,1384.3 1282.6,1382.4 1283.1,1382.5 1283.7,1383.3 1284.3,1380.5 1284.8,1382.2 1285.4,1382.4 1286.0,1379.7 1286.5,1381.7 1287.1,1382.9 1287.7,1379.9 1288.2,1383.6 1288.8,1383.7 1289.3,1384.3 1289.9,1380.9 1290.5,1382.7 1291.0,1385.4 1291.6,1384.3 1292.2,1381.3 1292.7,1383.4 1293.3,1385.8 1293.9,1383.0 1294.4,1383.9 1295.0,1388.2 1295.6,1383.3 1296.1,1383.2 1296.7,1381.6 1297.3,1382.3 1297.8,1386.5 1298.4,1383.5 1299.0,1381.5 1299.5,1382.1 1300.1,1384.0 1300.7,1385.5 1301.2,1382.7 1301.8,1385.6 1302.4,1383.3 1302.9,1385.0 1303.5,1385.4 1304.1,1385.6 1304.6,1383.7 1305.2,1384.3 1305.8,1385.6 1306.3,1382.2 1306.9,1385.1 1307.5,1385.8 1308.0,1386.9 1308.6,1384.9 1309.2,1384.6 1309.7,1385.3 1310.3,1383.7 1310.9,1384.7 1311.4,1385.9 1312.0,1385.7 1312.6,1383.2 1313.1,1384.6 1313.7,1381.2 1314.3,1386.8 1314.8,1384.3 1315.4,1385.7 1316.0,1383.2 1316.5,1385.1 1317.1,1386.1 1317.7,1387.2 1318.2,1382.7 1318.8,1386.9 1319.4,1384.9 1319.9,1383.7 1320.5,1386.1 1321.1,1384.6 1321.6,1384.5 1322.2,1383.7 1322.8,1385.4 1323.3,1385.0 1323.9,1384.6 1324.5,1383.0 1325.0,1383.8 1325.6,1385.5 1326.2,1387.1 1326.7,1384.5 1327.3,1387.2 1327.9,1384.4 1328.4,1382.2 1329.0,1385.5 1329.6,1382.3 1330.1,1384.9 1330.7,1386.1 1331.3,1383.3 1331.8,1383.6 1332.4,1388.5 1333.0,1384.1 1333.5,1384.0 1334.1,1384.9 1334.7,1383.1 1335.2,1383.1 1335.8,1383.9 1336.4,1378.4 1336.9,1385.6 1337.5,1380.7 1338.1,1380.6 1338.6,1383.6 1339.2,1382.4 1339.8,1379.7 1340.3,1382.4 1340.9,1379.6 1341.5,1380.2 1342.0,1378.4 1342.6,1379.5 1343.2,1381.6 1343.7,1380.8 1344.3,1380.9 1344.9,1381.8 1345.4,1379.7 1346.0,1378.2 1346.6,1378.6 1347.1,1382.1 1347.7,1378.7 1348.3,1379.0 1348.8,1377.9 1349.4,1378.3 1350.0,1378.4 1350.5,1377.2 1351.1,1376.7 1351.7,1375.2 1352.2,1374.8 1352.8,1377.0 1353.4,1377.4 1353.9,1377.6 1354.5,1375.6 1355.1,1373.7 1355.6,1376.4 1356.2,1376.1 1356.8,1371.8 1357.3,1376.1 1357.9,1375.5 1358.5,1377.5 1359.0,1371.8 1359.6,1371.3 1360.1,1375.2 1360.7,1369.9 1361.3,1371.9 1361.8,1371.0 1362.4,1371.0 1363.0,1369.0 1363.5,1372.2 1364.1,1374.4 1364.7,1373.2 1365.2,1373.0 1365.8,1371.3 1366.4,1374.7 1366.9,1372.7 1367.5,1373.6 1368.1,1368.3 1368.6,1371.9 1369.2,1368.8 1369.8,1371.6 1370.3,1371.1 1370.9,1368.4 1371.5,1370.8 1372.0,1372.6 1372.6,1371.1 1373.2,1371.1 1373.7,1368.1 1374.3,1368.3 1374.9,1367.2 1375.4,1369.6 1376.0,1371.5 1376.6,1369.8 1377.1,1368.8 1377.7,1366.4 1378.3,1369.4 1378.8,1367.9 1379.4,1364.4 1380.0,1364.6 1380.5,1367.2 1381.1,1366.0 1381.7,1370.9 1382.2,1367.6 1382.8,1365.3 1383.4,1366.3 1383.9,1370.4 1384.5,1365.2 1385.1,1368.6 1385.6,1367.8 1386.2,1369.8 1386.8,1367.9 1387.3,1365.9 1387.9,1367.7 1388.5,1366.8 1389.0,1368.5 1389.6,1366.4 1390.2,1370.4 1390.7,1366.2 1391.3,1367.2 1391.9,1365.0 1392.4,1366.5 1393.0,1366.3 1393.6,1366.6 1394.1,1368.0 1394.7,1365.1 1395.3,1364.4 1395.8,1368.4 1396.4,1365.6 1397.0,1364.8 1397.5,1368.9 1398.1,1369.0 1398.7,1363.2 1399.2,1369.0 1399.8,1372.7 1400.4,1374.3 1400.9,1372.9 1401.5,1378.2 1402.1,1374.6 1402.6,1376.4 1403.2,1377.4 1403.8,1377.5 1404.3,1379.3 1404.9,1380.0 1405.5,1378.2 1406.0,1381.2 1406.6,1377.4 1407.2,1378.5 1407.7,1382.4 1408.3,1379.5 1408.9,1381.5 1409.4,1378.7 1410.0,1379.2 1410.6,1379.6 1411.1,1380.3 1411.7,1379.5 1412.3,1380.3 1412.8,1381.7 1413.4,1382.9 1414.0,1380.9 1414.5,1382.1 1415.1,1382.8 1415.7,1379.1 1416.2,1378.4 1416.8,1384.7 1417.4,1384.4 1417.9,1382.2 1418.5,1382.9 1419.1,1380.7 1419.6,1380.1 1420.2,1383.6 1420.8,1380.4 1421.3,1385.2 1421.9,1382.4 1422.5,1384.5 1423.0,1387.9 1423.6,1388.1 1424.2,1384.2 1424.7,1387.0 1425.3,1383.3 1425.9,1384.4 1426.4,1386.5 1427.0,1388.7 1427.6,1385.3 1428.1,1387.7 1428.7,1387.1 1429.3,1384.8 1429.8,1387.2 1430.4,1390.6 1430.9,1387.8 1431.5,1389.2 1432.1,1390.1 1432.6,1387.5 1433.2,1391.4 1433.8,1392.2 1434.3,1392.7 1434.9,1392.4 1435.5,1389.4 1436.0,1389.4 1436.6,1389.3 1437.2,1389.3 1437.7,1389.8 1438.3,1393.4 1438.9,1394.6 1439.4,1390.9 1440.0,1393.9 1440.6,1390.3 1441.1,1392.3 1441.7,1391.3 1442.3,1390.4 1442.8,1393.8 1443.4,1394.1 1444.0,1393.5 1444.5,1393.6 1445.1,1393.0 1445.7,1394.9 1446.2,1394.3 1446.8,1396.1 1447.4,1393.7 1447.9,1396.6 1448.5,1397.4 1449.1,1399.1 1449.6,1399.0 1450.2,1397.7 1450.8,1396.3 1451.3,1394.5 1451.9,1398.1 1452.5,1401.0 1453.0,1401.7 1453.6,1394.3 1454.2,1397.9 1454.7,1398.9 1455.3,1397.9 1455.9,1400.4 1456.4,1400.4 1457.0,1399.6 1457.6,1400.7 1458.1,1398.2 1458.7,1399.5 1459.3,1399.9 1459.8,1403.4 1460.4,1399.1 1461.0,1401.9 1461.5,1403.9 1462.1,1402.6 1462.7,1404.4 1463.2,1402.0 1463.8,1404.2 1464.4,1405.3 1464.9,1407.9 1465.5,1405.4 1466.1,1406.9 1466.6,1404.5 1467.2,1404.9 1467.8,1407.8 1468.3,1406.2 1468.9,1407.9 1469.5,1406.9 1470.0,1409.6 1470.6,1410.3 1471.2,1404.8 1471.7,1409.8 1472.3,1407.5 1472.9,1407.8 1473.4,1406.9 1474.0,1408.6 1474.6,1405.5 1475.1,1406.4 1475.7,1406.6 1476.3,1408.7 1476.8,1410.0 1477.4,1409.9 1478.0,1409.4 1478.5,1407.9 1479.1,1406.0 1479.7,1410.0 1480.2,1409.8 1480.8,1410.3 1481.4,1412.4 1481.9,1409.7 1482.5,1409.9 1483.1,1406.3 1483.6,1411.5 1484.2,1410.6 1484.8,1409.6 1485.3,1411.7 1485.9,1409.3 1486.5,1410.4 1487.0,1414.9 1487.6,1413.0 1488.2,1413.4 1488.7,1413.2 1489.3,1413.2 1489.9,1412.5 1490.4,1416.3 1491.0,1412.3 1491.6,1413.8 1492.1,1412.3 1492.7,1412.1 1493.3,1408.6 1493.8,1409.6 1494.4,1415.8 1495.0,1415.8 1495.5,1412.5 1496.1,1413.3 1496.7,1414.5 1497.2,1411.8 1497.8,1416.7 1498.4,1411.9 1498.9,1412.6 1499.5,1409.1 1500.1,1416.6 1500.6,1414.2 1501.2,1417.0 1501.7,1412.5 1502.3,1414.9 1502.9,1414.5 1503.4,1414.8 1504.0,1418.1 1504.6,1418.6 1505.1,1417.1 1505.7,1414.1 1506.3,1416.4 1506.8,1417.2 1507.4,1415.9 1508.0,1416.0 1508.5,1416.0 1509.1,1413.6 1509.7,1415.7 1510.2,1418.1 1510.8,1413.7 1511.4,1415.6 1511.9,1417.0 1512.5,1413.2 1513.1,1415.4 1513.6,1412.8 1514.2,1414.8 1514.8,1413.5 1515.3,1414.4 1515.9,1415.2 1516.5,1415.7 1517.0,1415.9 1517.6,1412.1 1518.2,1419.1 1518.7,1416.0 1519.3,1414.6 1519.9,1415.5 1520.4,1417.2 1521.0,1415.1 1521.6,1416.2 1522.1,1416.2 1522.7,1418.0 1523.3,1415.9 1523.8,1418.1 1524.4,1418.0 1525.0,1417.2 1525.5,1419.7 1526.1,1417.7 1526.7,1415.8 1527.2,1418.4 1527.8,1418.3 1528.4,1418.1 1528.9,1418.7 1529.5,1422.5 1530.1,1419.0 1530.6,1419.5 1531.2,1418.5 1531.8,1421.3 1532.3,1419.1 1532.9,1418.0 1533.5,1417.4 1534.0,1420.6 1534.6,1421.1 1535.2,1417.3 1535.7,1418.9 1536.3,1421.4 1536.9,1422.2 1537.4,1418.4 1538.0,1420.1 1538.6,1422.4 1539.1,1420.2 1539.7,1420.6 1540.3,1420.6 1540.8,1419.4 1541.4,1421.9 1542.0,1422.5 1542.5,1419.8 1543.1,1422.5 1543.7,1424.4 1544.2,1423.0 1544.8,1424.4 1545.4,1422.0 1545.9,1425.4 1546.5,1421.9 1547.1,1426.6 1547.6,1422.8 1548.2,1422.5 1548.8,1422.3 1549.3,1423.3 1549.9,1423.3 1550.5,1423.1 1551.0,1423.8 1551.6,1425.6 1552.2,1426.1 1552.7,1424.1 1553.3,1426.9 1553.9,1423.2 1554.4,1423.3 1555.0,1423.2 1555.6,1426.2 1556.1,1422.7 1556.7,1423.1 1557.3,1427.7 1557.8,1428.5 1558.4,1427.9 1559.0,1423.3 1559.5,1425.9 1560.1,1427.4 1560.7,1426.2 1561.2,1423.5 1561.8,1425.7 1562.4,1423.5 1562.9,1424.4 1563.5,1430.1 1564.1,1427.7 1564.6,1424.2 1565.2,1424.3 1565.8,1427.6 1566.3,1425.9 1566.9,1428.0 1567.5,1426.0 1568.0,1426.8 1568.6,1427.6 1569.2,1425.6 1569.7,1424.2 1570.3,1425.5 1570.9,1426.4 1571.4,1427.3 1572.0,1427.6 1572.5,1427.7 1573.1,1428.7 1573.7,1426.5 1574.2,1430.3 1574.8,1431.4 1575.4,1428.8 1575.9,1428.5 1576.5,1430.4 1577.1,1429.5 1577.6,1428.8 1578.2,1428.3 1578.8,1427.4 1579.3,1426.8 1579.9,1429.9 1580.5,1430.8 1581.0,1427.2 1581.6,1428.9 1582.2,1429.4 1582.7,1428.4 1583.3,1428.0 1583.9,1428.6 1584.4,1426.1 1585.0,1429.4 1585.6,1429.1 1586.1,1433.1 1586.7,1431.3 1587.3,1429.2 1587.8,1429.9 1588.4,1432.8 1589.0,1432.7 1589.5,1430.5 1590.1,1430.0 1590.7,1428.0 1591.2,1429.9 1591.8,1430.3 1592.4,1429.4 1592.9,1433.6 1593.5,1427.7 1594.1,1430.7 1594.6,1431.7 1595.2,1431.8 1595.8,1433.9 1596.3,1429.0 1596.9,1430.1 1597.5,1431.6 1598.0,1431.8 1598.6,1431.0 1599.2,1430.5 1599.7,1433.5 1600.3,1430.2 1600.9,1431.0 1601.4,1434.4 1602.0,1434.9 1602.6,1433.6 1603.1,1430.9 1603.7,1430.9 1604.3,1430.9 1604.8,1430.6 1605.4,1431.8 1606.0,1434.6 1606.5,1433.0 1607.1,1431.4 1607.7,1431.5 1608.2,1430.8 1608.8,1434.8 1609.4,1429.5 1609.9,1433.3 1610.5,1430.5 1611.1,1431.2 1611.6,1430.5 1612.2,1434.5 1612.8,1432.8 1613.3,1437.4 1613.9,1431.3 1614.5,1431.2 1615.0,1433.9 1615.6,1433.9 1616.2,1432.5 1616.7,1429.6 1617.3,1435.3 1617.9,1433.8 1618.4,1433.5 1619.0,1431.9 1619.6,1433.9 1620.1,1431.9 1620.7,1432.9 1621.3,1432.5 1621.8,1434.9 1622.4,1432.0 1623.0,1432.2 1623.5,1434.6 1624.1,1433.1 1624.7,1432.7 1625.2,1432.3 1625.8,1434.2 1626.4,1431.6 1626.9,1433.4 1627.5,1435.9 1628.1,1433.2 1628.6,1431.3 1629.2,1430.6 1629.8,1432.8 1630.3,1430.5 1630.9,1429.9 1631.5,1431.2 1632.0,1430.7 1632.6,1433.9 1633.2,1430.1 1633.7,1435.0 1634.3,1431.2 1634.9,1432.5 1635.4,1433.4 1636.0,1432.7 1636.6,1433.5 1637.1,1430.7 1637.7,1428.6 1638.3,1431.9 1638.8,1429.5 1639.4,1431.3 1640.0,1433.8 1640.5,1431.9 1641.1,1431.2 1641.7,1430.4 1642.2,1431.7 1642.8,1431.9 1643.3,1429.6 1643.9,1432.7 1644.5,1430.4 1645.0,1432.5 1645.6,1431.4 1646.2,1433.8 1646.7,1433.6 1647.3,1432.2 1647.9,1432.0 1648.4,1432.9 1649.0,1434.5 1649.6,1434.0 1650.1,1432.5 1650.7,1432.8 1651.3,1434.9 1651.8,1429.6 1652.4,1433.2 1653.0,1430.9 1653.5,1434.6 1654.1,1431.6 1654.7,1432.2 1655.2,1430.7 1655.8,1432.5 1656.4,1433.8 1656.9,1435.2 1657.5,1430.5 1658.1,1431.8 1658.6,1438.9 1659.2,1434.1 1659.8,1432.6 1660.3,1433.5 1660.9,1428.3 1661.5,1435.3 1662.0,1433.0 1662.6,1430.4 1663.2,1434.7 1663.7,1431.7 1664.3,1431.1 1664.9,1433.7 1665.4,1433.5 1666.0,1432.1 1666.6,1432.7 1667.1,1430.7 1667.7,1430.5 1668.3,1434.4 1668.8,1435.1 1669.4,1433.6 1670.0,1433.6 1670.5,1432.3 1671.1,1432.8 1671.7,1431.5 1672.2,1435.8 1672.8,1432.1 1673.4,1433.7 1673.9,1433.0 1674.5,1430.7 1675.1,1436.1 1675.6,1432.4 1676.2,1431.7 1676.8,1433.2 1677.3,1431.5 1677.9,1433.0 1678.5,1431.4 1679.0,1433.9 1679.6,1433.0 1680.2,1430.7 1680.7,1434.6 1681.3,1433.2 1681.9,1431.1 1682.4,1433.4 1683.0,1433.5 1683.6,1435.8 1684.1,1431.4 1684.7,1434.1 1685.3,1432.6 1685.8,1433.7 1686.4,1432.2 1687.0,1432.6 1687.5,1433.4 1688.1,1430.7 1688.7,1429.1 1689.2,1432.5 1689.8,1431.8 1690.4,1432.6 1690.9,1433.5 1691.5,1432.1 1692.1,1434.4 1692.6,1432.4 1693.2,1432.6 1693.8,1433.8 1694.3,1433.3 1694.9,1432.2 1695.5,1432.6 1696.0,1431.1 1696.6,1431.4 1697.2,1432.5 1697.7,1433.7 1698.3,1431.6 1698.9,1433.7 1699.4,1435.5 1700.0,1435.9 1700.6,1432.5 1701.1,1434.2 1701.7,1433.5 1702.3,1433.9 1702.8,1434.0 1703.4,1433.6 1704.0,1434.1 1704.5,1433.2 1705.1,1432.5 1705.7,1433.5 1706.2,1433.9 1706.8,1435.2 1707.4,1433.9 1707.9,1434.7 1708.5,1435.9 1709.1,1432.2 1709.6,1433.4 1710.2,1434.8 1710.8,1434.1 1711.3,1432.5 1711.9,1435.9 1712.5,1434.3 1713.0,1432.9 1713.6,1437.7 1714.1,1432.7 1714.7,1434.9 1715.3,1433.9 1715.8,1435.3 1716.4,1436.1 1717.0,1434.0 1717.5,1435.3 1718.1,1435.4 1718.7,1434.1 1719.2,1437.7 1719.8,1436.2 1720.4,1435.6 1720.9,1435.0 1721.5,1435.7 1722.1,1436.5 1722.6,1435.6 1723.2,1438.5 1723.8,1432.5 1724.3,1433.2 1724.9,1436.3 1725.5,1433.8 1726.0,1436.8 1726.6,1435.9 1727.2,1438.0 1727.7,1437.8 1728.3,1439.3 1728.9,1438.7 1729.4,1439.3 1730.0,1438.3 1730.6,1439.2 1731.1,1438.4 1731.7,1436.7 1732.3,1435.8 1732.8,1435.9 1733.4,1438.7 1734.0,1434.2 1734.5,1438.4 1735.1,1437.0 1735.7,1439.5 1736.2,1438.8 1736.8,1437.4 1737.4,1438.7 1737.9,1435.2 1738.5,1439.4 1739.1,1439.8 1739.6,1436.3 1740.2,1440.8 1740.8,1439.4 1741.3,1440.1 1741.9,1437.9 1742.5,1441.4 1743.0,1441.6 1743.6,1441.0 1744.2,1439.8 1744.7,1442.9 1745.3,1444.1 1745.9,1443.1 1746.4,1444.4 1747.0,1442.3 1747.6,1443.9 1748.1,1444.6 1748.7,1444.6 1749.3,1449.1 1749.8,1445.7 1750.4,1444.5 1751.0,1447.0 1751.5,1444.3 1752.1,1446.8 1752.7,1447.7 1753.2,1446.0 1753.8,1446.5 1754.4,1445.8 1754.9,1447.6 1755.5,1446.6 1756.1,1450.5 1756.6,1449.0 1757.2,1447.9 1757.8,1446.3 1758.3,1451.7 1758.9,1450.8 1759.5,1449.7 1760.0,1449.5 1760.6,1449.7 1761.2,1448.9 1761.7,1452.6 1762.3,1450.2 1762.9,1447.9 1763.4,1449.3 1764.0,1446.6 1764.6,1451.6 1765.1,1451.9 1765.7,1453.6 1766.3,1454.3 1766.8,1450.1 1767.4,1452.1 1768.0,1453.1 1768.5,1453.0 1769.1,1451.2 1769.7,1453.4 1770.2,1453.1 1770.8,1454.5 1771.4,1452.6 1771.9,1452.5 1772.5,1452.3 1773.1,1452.7 1773.6,1452.3 1774.2,1453.1 1774.8,1454.6 1775.3,1454.7 1775.9,1456.2 1776.5,1456.0 1777.0,1455.6 1777.6,1453.2 1778.2,1455.9 1778.7,1457.0 1779.3,1453.6 1779.9,1454.1 1780.4,1454.6 1781.0,1454.7 1781.6,1456.0 1782.1,1455.3 1782.7,1457.4 1783.3,1455.3 1783.8,1457.1 1784.4,1456.8 1784.9,1456.3 1785.5,1459.5 1786.1,1458.2 1786.6,1459.2 1787.2,1458.1 1787.8,1459.8 1788.3,1459.9 1788.9,1459.0 1789.5,1456.9 1790.0,1460.8 1790.6,1460.8 1791.2,1460.2 1791.7,1460.5 1792.3,1460.5 1792.9,1460.8 1793.4,1459.3 1794.0,1460.8 1794.6,1461.5 1795.1,1460.4 1795.7,1460.0 1796.3,1464.2 1796.8,1462.6 1797.4,1461.5 1798.0,1461.4 1798.5,1458.6 1799.1,1460.5 1799.7,1462.3 1800.2,1464.6 1800.8,1460.1 1801.4,1462.2 1801.9,1466.0 1802.5,1464.4 1803.1,1464.2 1803.6,1465.5 1804.2,1463.8 1804.8,1463.9 1805.3,1465.3 1805.9,1465.6 1806.5,1463.1 1807.0,1466.9 1807.6,1462.5 1808.2,1464.1 1808.7,1469.5 1809.3,1464.7 1809.9,1466.4 1810.4,1464.3 1811.0,1465.4 1811.6,1465.0 1812.1,1465.6 1812.7,1467.2 1813.3,1468.8 1813.8,1467.8 1814.4,1468.9 1815.0,1466.2 1815.5,1469.0 1816.1,1467.9 1816.7,1469.2 1817.2,1466.8 1817.8,1467.2 1818.4,1469.6 1818.9,1468.6 1819.5,1468.1 1820.1,1467.1 1820.6,1468.1 1821.2,1469.0 1821.8,1469.4 1822.3,1467.8 1822.9,1468.2 1823.5,1469.4 1824.0,1467.4 1824.6,1470.4 1825.2,1469.2 1825.7,1469.1 1826.3,1466.1 1826.9,1467.4 1827.4,1468.2 1828.0,1469.0 1828.6,1468.4 1829.1,1470.5 1829.7,1470.3 1830.3,1469.9 1830.8,1467.6 1831.4,1472.4 1832.0,1470.2 1832.5,1471.5 1833.1,1469.9 1833.7,1470.9 1834.2,1472.0 1834.8,1471.5 1835.4,1472.6 1835.9,1471.1 1836.5,1474.2 1837.1,1469.1 1837.6,1471.0 1838.2,1473.1 1838.8,1471.6 1839.3,1471.5 1839.9,1469.8 1840.5,1473.9 1841.0,1469.8 1841.6,1473.2 1842.2,1472.8 1842.7,1473.9 1843.3,1474.7 1843.9,1472.0 1844.4,1471.9 1845.0,1472.7 1845.6,1470.9 1846.1,1474.4 1846.7,1472.9 1847.3,1473.7 1847.8,1472.1 1848.4,1473.7 1849.0,1473.0 1849.5,1473.8 1850.1,1472.6 1850.7,1475.5 1851.2,1473.4 1851.8,1471.0 1852.4,1475.3 1852.9,1474.1 1853.5,1473.5 1854.1,1478.0 1854.6,1474.8 1855.2,1473.2 1855.7,1474.2 1856.3,1475.6 1856.9,1474.9 1857.4,1477.0 1858.0,1476.8 1858.6,1474.5 1859.1,1475.7 1859.7,1476.6 1860.3,1475.3 1860.8,1475.3 1861.4,1477.2 1862.0,1476.7 1862.5,1474.4 1863.1,1475.6 1863.7,1475.9 1864.2,1476.4 1864.8,1475.7 1865.4,1478.5 1865.9,1475.6 1866.5,1475.6 1867.1,1477.3 1867.6,1474.2 1868.2,1475.9 1868.8,1478.2 1869.3,1475.7 1869.9,1476.5 1870.5,1479.1 1871.0,1478.3 1871.6,1477.9 1872.2,1478.3 1872.7,1477.2 1873.3,1478.6 1873.9,1478.0 1874.4,1481.6 1875.0,1479.1 1875.6,1478.1 1876.1,1478.6 1876.7,1478.8 1877.3,1477.1 1877.8,1477.9 1878.4,1481.0 1879.0,1477.3 1879.5,1478.5 1880.1,1480.6 1880.7,1481.3 1881.2,1478.2 1881.8,1481.4 1882.4,1479.2 1882.9,1481.9 1883.5,1480.5 1884.1,1479.6 1884.6,1480.9 1885.2,1480.8 1885.8,1479.2 1886.3,1483.0 1886.9,1479.9 1887.5,1481.9 1888.0,1479.9 1888.6,1478.3 1889.2,1479.3 1889.7,1480.6 1890.3,1481.7 1890.9,1483.1 1891.4,1481.1 1892.0,1480.7 1892.6,1479.6 1893.1,1481.2 1893.7,1481.7 1894.3,1478.6 1894.8,1483.1 1895.4,1482.9 1896.0,1484.4 1896.5,1480.5 1897.1,1481.7 1897.7,1481.8 1898.2,1480.2 1898.8,1480.8 1899.4,1480.7 1899.9,1482.7 1900.5,1482.6 1901.1,1483.8 1901.6,1481.7 1902.2,1480.5 1902.8,1482.9 1903.3,1482.9 1903.9,1483.3 1904.5,1484.1 1905.0,1481.9 1905.6,1483.6 1906.2,1481.4 1906.7,1483.0 1907.3,1483.7 1907.9,1482.7 1908.4,1483.2 1909.0,1481.3 1909.6,1482.2 1910.1,1483.3 1910.7,1481.7 1911.3,1482.2 1911.8,1486.3 1912.4,1483.6 1913.0,1482.4 1913.5,1482.1 1914.1,1485.2 1914.7,1480.0 1915.2,1483.1 1915.8,1484.4 1916.4,1482.9 1916.9,1484.3 1917.5,1482.4 1918.1,1483.7 1918.6,1483.9 1919.2,1483.9 1919.8,1484.1 1920.3,1484.0 1920.9,1485.4 1921.5,1483.7 1922.0,1483.4 1922.6,1483.8 1923.2,1483.8 1923.7,1482.4 1924.3,1481.9 1924.9,1482.7 1925.4,1484.8 1926.0,1483.6 1926.5,1484.0 1927.1,1488.1 1927.7,1486.0 1928.2,1484.4 1928.8,1483.9 1929.4,1486.4 1929.9,1483.8 1930.5,1486.4 1931.1,1485.6 1931.6,1486.7 1932.2,1484.1 1932.8,1486.2 1933.3,1482.9 1933.9,1484.9 1934.5,1486.5 1935.0,1486.1 1935.6,1483.1 1936.2,1486.2 1936.7,1486.0 1937.3,1485.4 1937.9,1484.6 1938.4,1485.2 1939.0,1484.9 1939.6,1486.8 1940.1,1486.3 1940.7,1487.1 1941.3,1486.7 1941.8,1484.3 1942.4,1486.1 1943.0,1488.6 1943.5,1484.7 1944.1,1486.4 1944.7,1485.2 1945.2,1485.1 1945.8,1486.5 1946.4,1487.4 1946.9,1487.3 1947.5,1486.9 1948.1,1487.6 1948.6,1484.5 1949.2,1487.5 1949.8,1487.1 1950.3,1486.4 1950.9,1486.7 1951.5,1485.7 1952.0,1488.2 1952.6,1485.9 1953.2,1485.1 1953.7,1486.9 1954.3,1486.3 1954.9,1486.9 1955.4,1488.9 1956.0,1486.9 1956.6,1487.3 1957.1,1490.0 1957.7,1485.6 1958.3,1487.7 1958.8,1488.8 1959.4,1489.2 1960.0,1490.2 1960.5,1486.7 1961.1,1488.3 1961.7,1487.5 1962.2,1487.1 1962.8,1486.8 1963.4,1485.9 1963.9,1488.1 1964.5,1488.7 1965.1,1486.5 1965.6,1488.8 1966.2,1487.2 1966.8,1486.7 1967.3,1484.8 1967.9,1489.3 1968.5,1488.9 1969.0,1487.7 1969.6,1487.6 1970.2,1486.6 1970.7,1488.8 1971.3,1488.1 1971.9,1488.9 1972.4,1488.5 1973.0,1486.6 1973.6,1486.4 1974.1,1488.9 1974.7,1486.3 1975.3,1488.7 1975.8,1489.5 1976.4,1486.9 1977.0,1489.3 1977.5,1488.6 1978.1,1489.2 1978.7,1487.8 1979.2,1488.6 1979.8,1489.2 1980.4,1490.9 1980.9,1489.6 1981.5,1489.3 1982.1,1487.2 1982.6,1489.2 1983.2,1488.0 1983.8,1488.7 1984.3,1489.2 1984.9,1490.0 1985.5,1489.6 1986.0,1489.1 1986.6,1488.9 1987.2,1490.6 1987.7,1487.9 1988.3,1489.0 1988.9,1490.7 1989.4,1488.8 1990.0,1490.0 1990.6,1490.1 1991.1,1491.5 1991.7,1490.5 1992.3,1487.1 1992.8,1489.1 1993.4,1489.5 1994.0,1490.2 1994.5,1489.7 1995.1,1491.5 1995.7,1490.5 1996.2,1487.8 1996.8,1488.5 1997.3,1486.8 1997.9,1491.4 1998.5,1489.1 1999.0,1489.1 1999.6,1487.4 2000.2,1488.8 2000.7,1489.9 2001.3,1488.9 2001.9,1488.9 2002.4,1488.6 2003.0,1491.8 2003.6,1488.7 2004.1,1487.7 2004.7,1488.8 2005.3,1489.0 2005.8,1489.4 2006.4,1489.2 2007.0,1488.2 2007.5,1489.3 2008.1,1490.0 2008.7,1487.9 2009.2,1492.0 2009.8,1491.7 2010.4,1487.5 2010.9,1489.2 2011.5,1490.9 2012.1,1491.4 2012.6,1491.9 2013.2,1487.6 2013.8,1488.5 2014.3,1489.3 2014.9,1490.6 2015.5,1488.7 2016.0,1490.5 2016.6,1490.6 2017.2,1491.0 2017.7,1488.6 2018.3,1490.4 2018.9,1490.3 2019.4,1489.8 2020.0,1491.9 2020.6,1490.0 2021.1,1492.2 2021.7,1489.8 2022.3,1492.6 2022.8,1492.6 2023.4,1489.7 2024.0,1491.1 2024.5,1491.1 2025.1,1489.6 2025.7,1491.8 2026.2,1491.6 2026.8,1489.9 2027.4,1491.1 2027.9,1492.1 2028.5,1490.9 2029.1,1490.3 2029.6,1493.2 2030.2,1490.1 2030.8,1491.8 2031.3,1492.7 2031.9,1492.4 2032.5,1489.3 2033.0,1491.2 2033.6,1491.5 2034.2,1491.4 2034.7,1492.5 2035.3,1492.4 2035.9,1492.0 2036.4,1492.2 2037.0,1493.2 2037.6,1493.5 2038.1,1489.8 2038.7,1494.7 2039.3,1491.5 2039.8,1493.2 2040.4,1490.4 2041.0,1491.7 2041.5,1490.9 2042.1,1493.7 2042.7,1493.5 2043.2,1492.5 2043.8,1492.4 2044.4,1493.1 2044.9,1491.6 2045.5,1492.0 2046.1,1491.9 2046.6,1493.8 2047.2,1492.9 2047.8,1491.4 2048.3,1493.3 2048.9,1493.6 2049.5,1494.6 2050.0,1492.4 2050.6,1493.6 2051.2,1495.6 2051.7,1492.8 2052.3,1492.8 2052.9,1493.8 2053.4,1492.7 2054.0,1493.3 2054.6,1492.8 2055.1,1492.5 2055.7,1494.5 2056.3,1493.0 2056.8,1492.3 2057.4,1493.2 2058.0,1493.4 2058.5,1494.0 2059.1,1494.7 2059.7,1495.7 2060.2,1492.3 2060.8,1493.5 2061.4,1491.7 2061.9,1494.1 2062.5,1494.5 2063.1,1493.1 2063.6,1492.8 2064.2,1492.8 2064.8,1492.2 2065.3,1494.7 2065.9,1496.3 2066.5,1492.7 2067.0,1496.0 2067.6,1494.0 2068.1,1492.5 2068.7,1494.8 2069.3,1495.1 2069.8,1494.7 2070.4,1494.0 2071.0,1496.3 2071.5,1494.0 2072.1,1495.1 2072.7,1495.2 2073.2,1493.4 2073.8,1492.3 2074.4,1492.5 2074.9,1494.1 2075.5,1495.0 2076.1,1492.5 2076.6,1493.8 2077.2,1496.4 2077.8,1492.6 2078.3,1495.3 2078.9,1495.2 2079.5,1495.7 2080.0,1493.1 2080.6,1495.2 2081.2,1493.3 2081.7,1496.4 2082.3,1493.9 2082.9,1495.4 2083.4,1494.1 2084.0,1495.2 2084.6,1493.3 2085.1,1495.4 2085.7,1495.8 2086.3,1495.1 2086.8,1497.0 2087.4,1495.6 2088.0,1496.1 2088.5,1495.8 2089.1,1497.4 2089.7,1494.5 2090.2,1495.0 2090.8,1495.1 2091.4,1496.1 2091.9,1495.7 2092.5,1496.4 2093.1,1495.8 2093.6,1494.9 2094.2,1495.5 2094.8,1496.1 2095.3,1493.0 2095.9,1497.2 2096.5,1495.0 2097.0,1495.3 2097.6,1496.0 2098.2,1495.5 2098.7,1494.1 2099.3,1495.5 2099.9,1497.4 2100.4,1497.1 2101.0,1497.3 2101.6,1495.3 2102.1,1495.7 2102.7,1497.2 2103.3,1497.7 2103.8,1496.1 2104.4,1495.0 2105.0,1493.9 2105.5,1497.8 2106.1,1494.4 2106.7,1496.7 2107.2,1497.2 2107.8,1500.0 2108.4,1496.5 2108.9,1496.2 2109.5,1496.9 2110.1,1496.9 2110.6,1497.9 2111.2,1497.2 2111.8,1495.6 2112.3,1494.0 2112.9,1496.8 2113.5,1495.7 2114.0,1498.2 2114.6,1495.0 2115.2,1496.8 2115.7,1495.8 2116.3,1495.6 2116.9,1498.6 2117.4,1496.9 2118.0,1496.5 2118.6,1497.6 2119.1,1495.9 2119.7,1496.4 2120.3,1496.1 2120.8,1499.1 2121.4,1497.2 2122.0,1497.6 2122.5,1498.2 2123.1,1496.7 2123.7,1496.8 2124.2,1495.1 2124.8,1497.5 2125.4,1497.3 2125.9,1496.6 2126.5,1498.5 2127.1,1495.0 2127.6,1497.6 2128.2,1495.5 2128.8,1495.8 2129.3,1496.9 2129.9,1498.7 2130.5,1495.8 2131.0,1496.1 2131.6,1495.9 2132.2,1499.6 2132.7,1497.9 2133.3,1497.8 2133.9,1499.7 2134.4,1497.6 2135.0,1494.9 2135.6,1496.8 2136.1,1496.0 2136.7,1499.8 2137.3,1495.8 2137.8,1497.8 2138.4,1496.9 2138.9,1497.0 2139.5,1497.6 2140.1,1497.4 2140.6,1496.8 2141.2,1496.2 2141.8,1496.9 2142.3,1496.4 2142.9,1496.6 2143.5,1497.8 2144.0,1497.5 2144.6,1498.3 2145.2,1497.5 2145.7,1500.0 2146.3,1496.9 2146.9,1496.6 2147.4,1499.0 2148.0,1497.0 2148.6,1498.0 2149.1,1499.0 2149.7,1497.8 2150.3,1497.5 2150.8,1499.1 2151.4,1498.3 2152.0,1497.4 2152.5,1496.6 2153.1,1497.6 2153.7,1496.1 2154.2,1497.1 2154.8,1496.8 2155.4,1498.4 2155.9,1499.0 2156.5,1497.4 2157.1,1497.6 2157.6,1496.9 2158.2,1496.6 2158.8,1497.7 2159.3,1498.9 2159.9,1498.8 2160.5,1499.0 2161.0,1498.0 2161.6,1495.2 2162.2,1499.4 2162.7,1499.9 2163.3,1499.4 2163.9,1499.4 2164.4,1499.7 2165.0,1501.5 2165.6,1498.8 2166.1,1500.3 2166.7,1499.4 2167.3,1499.3 2167.8,1498.4 2168.4,1498.2 2169.0,1497.3 2169.5,1499.3 2170.1,1498.3 2170.7,1497.3 2171.2,1497.8 2171.8,1497.4 2172.4,1500.6 2172.9,1498.5 2173.5,1498.9 2174.1,1497.4 2174.6,1497.7 2175.2,1500.1 2175.8,1498.6 2176.3,1499.2 2176.9,1501.0 2177.5,1501.3 2178.0,1499.8 2178.6,1499.6 2179.2,1499.3 2179.7,1498.7 2180.3,1501.4 2180.9,1497.7 2181.4,1499.0 2182.0,1497.0 2182.6,1497.7 2183.1,1499.7 2183.7,1499.7 2184.3,1499.6 2184.8,1498.9 2185.4,1498.5 2186.0,1498.7 2186.5,1498.9 2187.1,1500.6 2187.7,1501.1 2188.2,1499.9 2188.8,1498.8 2189.4,1498.4 2189.9,1499.9 2190.5,1499.3 2191.1,1497.5 2191.6,1501.1 2192.2,1499.6 2192.8,1499.3 2193.3,1498.7 2193.9,1498.7 2194.5,1500.8 2195.0,1498.7 2195.6,1499.9 2196.2,1500.5 2196.7,1501.9 2197.3,1500.6 2197.9,1499.9 2198.4,1499.4 2199.0,1500.9 2199.6,1501.1 2200.1,1499.5 2200.7,1500.7 2201.3,1499.9 2201.8,1498.3 2202.4,1499.0 2203.0,1501.1 2203.5,1501.8 2204.1,1501.0 2204.7,1500.0 2205.2,1499.5 2205.8,1500.9 2206.4,1500.7 2206.9,1498.5 2207.5,1501.1 2208.1,1499.6 2208.6,1501.2 2209.2,1501.1 2209.7,1501.3 2210.3,1501.8 2210.9,1501.4 2211.4,1499.4 2212.0,1499.5 2212.6,1501.8 2213.1,1501.2 2213.7,1499.0 2214.3,1498.5 2214.8,1501.8 2215.4,1503.3 2216.0,1501.8 2216.5,1500.6 2217.1,1501.2 2217.7,1497.9 2218.2,1499.9 2218.8,1502.1 2219.4,1502.0 2219.9,1498.7 2220.5,1502.4 2221.1,1501.7 2221.6,1502.2 2222.2,1501.0 2222.8,1501.2 2223.3,1500.0 2223.9,1501.6 2224.5,1502.3 2225.0,1500.3 2225.6,1501.8 2226.2,1500.8 2226.7,1502.6 2227.3,1502.6 2227.9,1498.9 2228.4,1502.0 2229.0,1502.7 2229.6,1501.0 2230.1,1501.4 2230.7,1501.5 2231.3,1500.4 2231.8,1501.6 2232.4,1503.5 2233.0,1502.3 2233.5,1503.5 2234.1,1502.9 2234.7,1503.2 2235.2,1502.0 2235.8,1502.8 2236.4,1504.2 2236.9,1503.6 2237.5,1502.4 2238.1,1501.3 2238.6,1501.0 2239.2,1502.4 2239.8,1502.6 2240.3,1500.1 2240.9,1502.4 2241.5,1502.6 2242.0,1502.6 2242.6,1501.7 2243.2,1504.9 2243.7,1503.3 2244.3,1500.8 2244.9,1501.6 2245.4,1503.3 2246.0,1503.0 2246.6,1502.6 2247.1,1502.5 2247.7,1502.3 2248.3,1502.1 2248.8,1501.4 2249.4,1503.2 2250.0,1499.6 2250.5,1501.8 2251.1,1504.0 2251.7,1501.8 2252.2,1501.4 2252.8,1504.8 2253.4,1503.9 2253.9,1502.6 2254.5,1502.2 2255.1,1502.6 2255.6,1502.5 2256.2,1502.6 2256.8,1502.1 2257.3,1503.5 2257.9,1502.4 2258.5,1501.0 2259.0,1501.6 2259.6,1503.0 2260.2,1501.9 2260.7,1500.4 2261.3,1504.8 2261.9,1503.7 2262.4,1502.6 2263.0,1502.6 2263.6,1503.8 2264.1,1504.7 2264.7,1502.6 2265.3,1503.7 2265.8,1502.6 2266.4,1503.7 2267.0,1502.1 2267.5,1501.4 2268.1,1503.5 2268.7,1503.4 2269.2,1504.2 2269.8,1502.8 2270.4,1505.0 2270.9,1503.6 2271.5,1505.2 2272.1,1503.2 2272.6,1505.3 2273.2,1503.6 2273.8,1503.8 2274.3,1504.7 2274.9,1501.8 2275.5,1502.6 2276.0,1505.8 2276.6,1502.2 2277.2,1503.3 2277.7,1504.5 2278.3,1505.5 2278.9,1503.4 2279.4,1504.1 2280.0,1502.7 2280.5,1503.6 2281.1,1505.1 2281.7,1504.4 2282.2,1504.0 2282.8,1504.6 2283.4,1504.3 2283.9,1504.3 2284.5,1503.8 2285.1,1503.2 2285.6,1505.0 2286.2,1503.0 2286.8,1505.4 2287.3,1506.6 2287.9,1506.0 2288.5,1506.9 2289.0,1503.3 2289.6,1504.7 2290.2,1503.6 2290.7,1503.7 2291.3,1502.7 2291.9,1503.2 2292.4,1505.5 2293.0,1505.4 2293.6,1505.9 2294.1,1505.9 2294.7,1505.5 2295.3,1503.9 2295.8,1504.6 2296.4,1505.6 2297.0,1506.1 2297.5,1504.4 2298.1,1504.3 2298.7,1504.4 2299.2,1506.6 2299.8,1505.5 2300.4,1504.6 2300.9,1504.2 2301.5,1505.5 2302.1,1503.2 2302.6,1504.8 2303.2,1504.5 2303.8,1504.5 2304.3,1505.4 2304.9,1505.6 2305.5,1508.4 2306.0,1505.3 2306.6,1506.0 2307.2,1504.4 2307.7,1503.5 2308.3,1506.5 2308.9,1507.4 2309.4,1504.3 2310.0,1505.3 2310.6,1506.6 2311.1,1505.5 2311.7,1502.9 2312.3,1506.5 2312.8,1505.3 2313.4,1506.3 2314.0,1504.5 2314.5,1506.5 2315.1,1506.7 2315.7,1504.8 2316.2,1506.1 2316.8,1505.0 2317.4,1505.1 2317.9,1504.7 2318.5,1505.2 2319.1,1505.0 2319.6,1507.0 2320.2,1505.5 2320.8,1504.6 2321.3,1507.2 2321.9,1506.4 2322.5,1506.9 2323.0,1505.8 2323.6,1506.6 2324.2,1505.8 2324.7,1504.9 2325.3,1506.0 2325.9,1506.1 2326.4,1506.1 2327.0,1506.8 2327.6,1504.1 2328.1,1506.3 2328.7,1505.2 2329.3,1505.7 2329.8,1506.5 2330.4,1506.1 2331.0,1505.3 2331.5,1506.9 2332.1,1506.0 2332.7,1507.1 2333.2,1507.4 2333.8,1505.8 2334.4,1505.0 2334.9,1506.2 2335.5,1507.0 2336.1,1506.5 2336.6,1505.0 2337.2,1504.4 2337.8,1505.2 2338.3,1505.2 2338.9,1506.9 2339.5,1506.3 2340.0,1507.2 2340.6,1506.2 2341.2,1508.0 2341.7,1506.3 2342.3,1506.9 2342.9,1505.9 2343.4,1506.8 2344.0,1507.5 2344.6,1507.2 2345.1,1507.7 2345.7,1505.7 2346.3,1506.9 2346.8,1508.2 2347.4,1506.7 2348.0,1506.3 2348.5,1506.2 2349.1,1505.9 2349.7,1506.6 2350.2,1507.9 2350.8,1507.0 2351.3,1506.5 2351.9,1505.7 2352.5,1505.3 2353.0,1509.0 2353.6,1506.0 2354.2,1506.6 2354.7,1506.0 2355.3,1506.7 2355.9,1506.1 2356.4,1506.7 2357.0,1508.1 2357.6,1505.8 2358.1,1507.1 2358.7,1506.5 2359.3,1507.3 2359.8,1505.9 2360.4,1507.0 2361.0,1505.6 2361.5,1504.7 2362.1,1505.3 2362.7,1505.6 2363.2,1505.5 2363.8,1506.3 2364.4,1507.8 2364.9,1505.5 2365.5,1507.1 2366.1,1506.8 2366.6,1505.9 2367.2,1505.7 2367.8,1507.1 2368.3,1507.2 2368.9,1506.3 2369.5,1506.5 2370.0,1506.7 2370.6,1505.3 2371.2,1506.8 2371.7,1507.0 2372.3,1508.5 2372.9,1505.4 2373.4,1505.8 2374.0,1506.8 2374.6,1506.1 2375.1,1506.3 2375.7,1506.7 2376.3,1506.4 2376.8,1506.7 2377.4,1507.2 2378.0,1505.1 2378.5,1507.3 2379.1,1504.5 2379.7,1508.5 2380.2,1507.7 2380.8,1506.2 2381.4,1507.8 2381.9,1506.6 2382.5,1507.2 2383.1,1507.6 2383.6,1507.2 2384.2,1506.8 2384.8,1507.4 2385.3,1506.6"/>
<line x1="872" y1="849" x2="872" y2="1553" stroke="#000" stroke-width="2" stroke-dasharray="10 8.35" shape-rendering="crispEdges"/>
<line x1="1045" y1="115" x2="1045" y2="1553" stroke="#000" stroke-width="2" stroke-dasharray="10 8.35" shape-rendering="crispEdges"/>
<g stroke="#000" stroke-width="6" fill="none" stroke-linecap="butt" shape-rendering="crispEdges">
<line x1="402.0" y1="35" x2="402.0" y2="1558"/>
<line x1="375" y1="1555.0" x2="2388" y2="1555.0"/>
<line x1="402.0" y1="1555.0" x2="402.0" y2="1582"/>
<line x1="544.1" y1="1555.0" x2="544.1" y2="1569"/>
<line x1="685.7" y1="1555.0" x2="685.7" y2="1582"/>
<line x1="827.3" y1="1555.0" x2="827.3" y2="1569"/>
<line x1="968.9" y1="1555.0" x2="968.9" y2="1582"/>
<line x1="1110.5" y1="1555.0" x2="1110.5" y2="1569"/>
<line x1="1252.1" y1="1555.0" x2="1252.1" y2="1582"/>
<line x1="1393.7" y1="1555.0" x2="1393.7" y2="1569"/>
<line x1="1535.3" y1="1555.0" x2="1535.3" y2="1582"/>
<line x1="1676.9" y1="1555.0" x2="1676.9" y2="1569"/>
<line x1="1818.5" y1="1555.0" x2="1818.5" y2="1582"/>
<line x1="1960.1" y1="1555.0" x2="1960.1" y2="1569"/>
<line x1="2101.7" y1="1555.0" x2="2101.7" y2="1582"/>
<line x1="2243.3" y1="1555.0" x2="2243.3" y2="1569"/>
<line x1="2384.9" y1="1555.0" x2="2384.9" y2="1582"/>
<line x1="389" y1="1386.4" x2="402.0" y2="1386.4"/>
<line x1="375" y1="1217.8" x2="402.0" y2="1217.8"/>
<line x1="389" y1="1049.2" x2="402.0" y2="1049.2"/>
<line x1="375" y1="880.6" x2="402.0" y2="880.6"/>
<line x1="389" y1="712.0" x2="402.0" y2="712.0"/>
<line x1="375" y1="543.4" x2="402.0" y2="543.4"/>
<line x1="389" y1="374.8" x2="402.0" y2="374.8"/>
<line x1="375" y1="206.2" x2="402.0" y2="206.2"/>
<line x1="389" y1="37.6" x2="402.0" y2="37.6"/>
</g>
<g font-size="77" text-anchor="middle">
<text x="402.5" y="1661">0</text>
<text x="685.7" y="1661">10</text>
<text x="968.9" y="1661">20</text>
<text x="1252.1" y="1661">30</text>
<text x="1535.3" y="1661">40</text>
<text x="1818.5" y="1661">50</text>
<text x="2101.7" y="1661">60</text>
<text x="2384.9" y="1661">70</text>
</g>
<g font-size="77" text-anchor="end">
<text x="356" y="1579.3">0</text>
<text x="355" y="1246.5">1×10<tspan font-size="52" dy="-31.5">5</tspan></text>
<text x="355" y="909.3">2×10<tspan font-size="52" dy="-31.5">5</tspan></text>
<text x="355" y="572.1">3×10<tspan font-size="52" dy="-31.5">5</tspan></text>
<text x="355" y="234.9">4×10<tspan font-size="52" dy="-31.5">5</tspan></text>
</g>
<text x="1393" y="1788.7" font-size="77" text-anchor="middle">2θ (°)</text>
<text transform="translate(87.5,767.6) rotate(-90)" font-size="77.5" text-anchor="middle">Intensity (Counts)</text>
<text x="785.3" y="824.7" font-size="71" style="fill:#7f00ff">16.56</text>
<text x="972.3" y="109.9" font-size="72" style="fill:#7f00ff">22.68</text>
<g stroke-width="6" stroke-linecap="round" fill="none">
<line x1="1845" y1="142" x2="1991" y2="142" stroke="#000"/>
<line x1="1845" y1="222" x2="1991" y2="222" stroke="#0000ff"/>
<line x1="1845" y1="301.7" x2="1991" y2="301.7" stroke="#ff0000"/>
</g>
<g font-size="65">
<text x="2006.5" y="163.6">Control</text>
<text x="2008" y="243.2">WISS15</text>
<text x="2008" y="323">WIPIA</text>
</g>
</svg></body></html>
